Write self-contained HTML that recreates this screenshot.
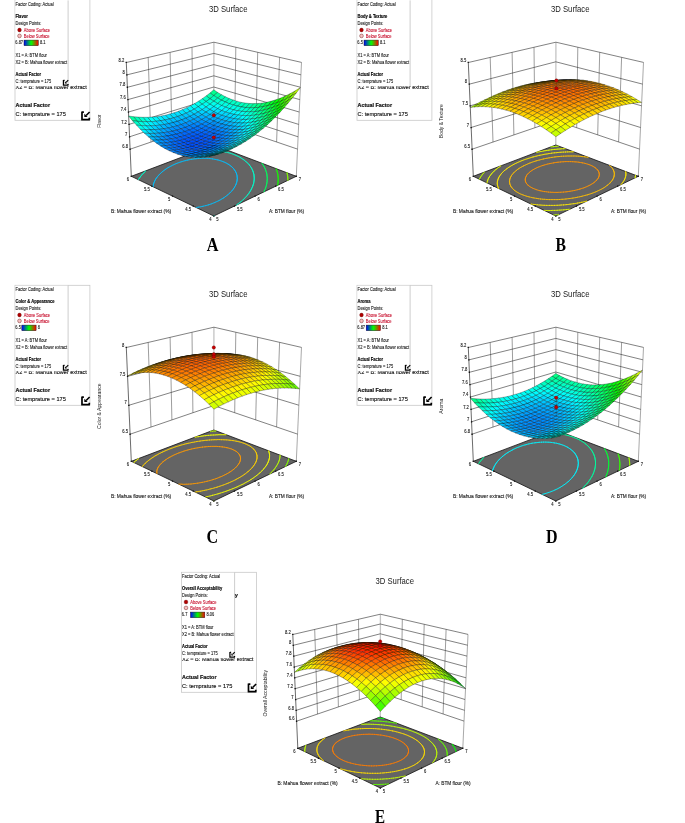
<!DOCTYPE html>
<html><head><meta charset="utf-8"><style>html,body{margin:0;padding:0;background:#fff;overflow:hidden}svg{display:block;will-change:transform}</style></head><body>
<svg width="685" height="823" viewBox="0 0 685 823" font-family='"Liberation Sans", sans-serif'>
<rect width="685" height="823" fill="#fff"/>
<rect x="15" y="-1" width="74.9" height="121.3" fill="#fff" stroke="#c8c8c8" stroke-width="0.8"/>
<text x="15.5" y="88.8" font-size="6.2" fill="#111" stroke="#111" stroke-width="0.14" textLength="71.40" lengthAdjust="spacingAndGlyphs">X2 = B: Mahua flower extract</text>
<text x="15.5" y="107.1" font-size="6.2" font-weight="bold" fill="#111" stroke="#111" stroke-width="0.19" textLength="34.50" lengthAdjust="spacingAndGlyphs">Actual Factor</text>
<text x="15.5" y="116" font-size="6.2" fill="#111" stroke="#111" stroke-width="0.14" textLength="50.30" lengthAdjust="spacingAndGlyphs">C: temprature = 175</text>
<rect x="15.4" y="0.8" width="52.7" height="85.5" fill="#fff"/>
<path d="M68.1 0.4V86.2" stroke="#c0c0c0" stroke-width="0.8"/>
<text x="15.5" y="5.5" font-size="4.6" fill="#1a1a1a" stroke="#1a1a1a" stroke-width="0.10" textLength="38.10" lengthAdjust="spacingAndGlyphs">Factor Coding: Actual</text>
<text x="15.5" y="18.4" font-size="4.6" font-weight="bold" fill="#000" stroke="#000" stroke-width="0.14" textLength="12.24" lengthAdjust="spacingAndGlyphs">Flavor</text>
<text x="15.5" y="24.7" font-size="4.6" fill="#1a1a1a" stroke="#1a1a1a" stroke-width="0.10" textLength="25.79" lengthAdjust="spacingAndGlyphs">Design Points:</text>
<circle cx="19.5" cy="30" r="1.9" fill="#b00000" stroke="#500" stroke-width="0.3"/>
<text x="23.8" y="31.6" font-size="4.6" fill="#c8102e" stroke="#c8102e" stroke-width="0.10" textLength="26.24" lengthAdjust="spacingAndGlyphs">Above Surface</text>
<circle cx="19.5" cy="35.9" r="1.85" fill="#f7c0c0" stroke="#500" stroke-width="0.4"/>
<text x="23.8" y="37.5" font-size="4.6" fill="#c8102e" stroke="#c8102e" stroke-width="0.10" textLength="25.79" lengthAdjust="spacingAndGlyphs">Below Surface</text>
<text x="15.3" y="44.3" font-size="4.6" fill="#1a1a1a" stroke="#1a1a1a" stroke-width="0.10" textLength="7.78" lengthAdjust="spacingAndGlyphs">6.87</text>
<defs><linearGradient id="gA"><stop offset="0" stop-color="#0000ff"/><stop offset="0.5" stop-color="#00ff00"/><stop offset="1" stop-color="#ff0000"/></linearGradient></defs>
<rect x="24" y="40.1" width="14.3" height="5.6" fill="url(#gA)" stroke="#111" stroke-width="0.45"/>
<text x="40" y="44.3" font-size="4.6" fill="#1a1a1a" stroke="#1a1a1a" stroke-width="0.10" textLength="5.56" lengthAdjust="spacingAndGlyphs">8.1</text>
<text x="15.5" y="57.1" font-size="4.6" fill="#1a1a1a" stroke="#1a1a1a" stroke-width="0.10" textLength="31.46" lengthAdjust="spacingAndGlyphs">X1 = A: BTM flour</text>
<text x="15.5" y="63.8" font-size="4.6" fill="#1a1a1a" stroke="#1a1a1a" stroke-width="0.10" textLength="51.60" lengthAdjust="spacingAndGlyphs">X2 = B: Mahua flower extract</text>
<text x="15.5" y="76.2" font-size="4.6" font-weight="bold" fill="#000" stroke="#000" stroke-width="0.14" textLength="25.56" lengthAdjust="spacingAndGlyphs">Actual Factor</text>
<text x="15.5" y="83.1" font-size="4.6" fill="#1a1a1a" stroke="#1a1a1a" stroke-width="0.10" textLength="35.68" lengthAdjust="spacingAndGlyphs">C: temprature = 175</text>
<g transform="translate(63 80) scale(5.4)"><path d="M0.08 0 V0.93 H1 M0.08 0.05 H0.3 M0.93 0.93 V0.72" fill="none" stroke="#000" stroke-width="0.230"/><path d="M0.97 0.04 L0.56 0.45" fill="none" stroke="#000" stroke-width="0.210"/><path d="M0.35 0.25 L0.35 0.64 L0.74 0.64 Z" fill="#000"/></g>
<g transform="translate(81.3 111.6) scale(8.6)"><path d="M0.08 0 V0.93 H1 M0.08 0.05 H0.3 M0.93 0.93 V0.72" fill="none" stroke="#000" stroke-width="0.197"/><path d="M0.97 0.04 L0.56 0.45" fill="none" stroke="#000" stroke-width="0.184"/><path d="M0.35 0.25 L0.35 0.64 L0.74 0.64 Z" fill="#000"/></g>
<text x="209" y="11.7" font-size="8.9" fill="#1a1a1a" textLength="38.50" lengthAdjust="spacingAndGlyphs">3D Surface</text>
<path d="M213.8 145L213.9 42.2" stroke="#c4c4c4" stroke-width="1.3" fill="none"/>
<path d="M151 142.1L148.2 57.4M276.6 142L279.6 57.4M171.9 134.9L170.1 52.4M255.7 134.9L257.7 52.3M192.9 127.7L192 47.3M234.7 127.7L235.8 47.3" stroke="#5a5a5a" stroke-width="0.6" fill="none"/>
<path d="M296.3 176.3L301.5 62.4" stroke="#6e6e6e" stroke-width="0.6" fill="none"/>
<path d="M130.1 149.2L213.8 120.6L297.5 149.1M129.5 136.8L213.8 109.4L298.1 136.8M129 124.4L213.8 98.2L298.7 124.4M128.5 112L213.8 87L299.2 112M127.9 99.6L213.8 75.8L299.8 99.6M127.4 87.3L213.8 64.6L300.3 87.2M126.8 74.9L213.8 53.4L300.9 74.8M126.3 62.5L213.9 42.2L301.5 62.4" stroke="#2e2e2e" stroke-width="0.6" fill="none"/>
<path d="M131.3 176.3L126.3 62.5" stroke="#1a1a1a" stroke-width="0.65" fill="none"/>
<path d="M213.8 216L296.3 176.3L213.8 145L131.3 176.3Z" fill="#646464" stroke="#111" stroke-width="0.8" stroke-linejoin="round"/>
<path d="M210.1 204.3L208.9 204.7M211.6 203.8L210.1 204.3M213 203.2L211.6 203.8M214.4 202.7L213 203.2M215.7 202.1L214.4 202.7M217 201.5L215.7 202.1M218.3 200.9L217 201.5M219.5 200.3L218.3 200.9M220.6 199.7L219.5 200.3M221.7 199L220.6 199.7M222.8 198.4L221.7 199M223.5 197.9L222.8 198.4M203.7 206.1L202.6 206.4M205.4 205.7L203.7 206.1M207 205.3L205.4 205.7M208.6 204.8L207 205.3M208.9 204.7L208.6 204.8M223.5 197.9L223.9 197.7M224.9 197L223.9 197.7M225.8 196.3L224.9 197M226.8 195.6L225.8 196.3M227.7 194.9L226.8 195.6M227.8 194.8L227.7 194.9M198.2 207.2L198.2 207.3M200.1 206.9L198.2 207.2M202 206.5L200.1 206.9M202.6 206.4L202 206.5M227.8 194.8L228.5 194.2M229.3 193.4L228.5 194.2M230.1 192.7L229.3 193.4M230.3 192.5L230.1 192.7M198.2 207.3L196.2 207.5M230.3 192.5L230.9 191.9M231.6 191.2L230.9 191.9M232.2 190.5L231.6 191.2M232.2 190.5L232.3 190.4M232.9 189.6L232.3 190.4M233.5 188.8L232.9 189.6M233.5 188.8L233.5 188.8M233.5 188.8L234 188M234.6 187.2L234 188M234.6 187.2L234.6 187.2M235 186.3L234.6 187.2M235.4 185.7L235 186.3M235.4 185.7L235.5 185.5M235.9 184.6L235.5 185.5M236 184.3L235.9 184.6M236 184.3L236.2 183.7M236.5 183L236.2 183.7M236.5 183L236.5 182.9M236.8 182L236.5 182.9M236.8 181.8L236.8 182M236.8 181.8L237 181M237.1 180.6L237 181M237.1 180.6L237.1 180.1M237.2 179.5L237.1 180.1M237.2 179.5L237.2 179.2M237.3 178.4L237.2 179.2M237.3 178.4L237.3 178.2M237.2 177.4L237.3 178.2M237.2 177.4L237.2 177.2M237.1 176.4L237.2 177.2M237.1 176.4L237.1 176.2M237 175.4L237.1 176.2M237 175.4L236.9 175.1M236.7 174.5L236.9 175.1M236.7 174.5L236.6 174.1M236.5 173.6L236.6 174.1M236.5 173.6L236.2 172.9M236.1 172.7L236.2 172.9M236.1 172.7L235.7 171.9M235.7 171.9L235.7 171.8M235.3 171.1L235.7 171.8M235.3 171.1L234.9 170.6M234.8 170.3L234.9 170.6M234.8 170.3L234.3 169.6M234.3 169.6L234 169.3M233.7 168.8L234 169.3M233.7 168.8L233.1 168.1M233.1 168.1L232.8 167.8M232.4 167.4L232.8 167.8M232.4 167.4L231.7 166.8M231.7 166.8L231.1 166.2M230.9 166.1L231.1 166.2M230.9 166.1L230.1 165.5M230.1 165.5L229.3 164.9M229.3 164.9L228.4 164.3M228.4 164.3L228.2 164.2M227.5 163.8L228.2 164.2M227.5 163.8L226.5 163.2M226.5 163.2L225.5 162.7M225.5 162.7L224.5 162.2M224.5 162.2L223.4 161.8M223.4 161.8L222.2 161.3M222.2 161.3L221 160.9M221 160.9L219.8 160.5M153 186.6L153 186.8M219.8 160.5L218.5 160.1M153 186.6L153.2 185.7M153.2 185.5L153.2 185.7M217.2 159.8L217.1 159.8M218.5 160.1L217.2 159.8M153.2 185.5L153.4 184.6M153.4 184.5L153.4 184.6M217.1 159.8L215.7 159.5M153.4 184.5L153.7 183.6M153.7 183.4L153.7 183.6M215.7 159.5L214.2 159.2M153.7 183.4L154 182.6M154.2 182.3L154 182.6M212.9 159L212.6 158.9M214.2 159.2L212.9 159M154.2 182.3L154.4 181.7M154.7 181.1L154.4 181.7M212.6 158.9L210.9 158.7M154.7 181.1L154.8 180.8M155.3 179.9L154.8 180.8M209.7 158.6L209.2 158.5M210.9 158.7L209.7 158.6M155.3 179.9L155.3 179.9M155.8 179L155.3 179.9M156 178.7L155.8 179M209.2 158.5L207.3 158.4M156 178.7L156.4 178.1M156.9 177.4L156.4 178.1M207 158.4L205.3 158.3M207.3 158.4L207 158.4M156.9 177.4L157 177.3M157.6 176.5L157 177.3M158 176L157.6 176.5M204.6 158.3L203.1 158.3M205.3 158.3L204.6 158.3M158 176L158.3 175.7M158.9 175L158.3 175.7M159.3 174.6L158.9 175M202.3 158.3L200.8 158.4M203.1 158.3L202.3 158.3M159.3 174.6L159.7 174.2M160.4 173.5L159.7 174.2M160.8 173.1L160.4 173.5M198.4 158.5L198.2 158.5M200.3 158.4L198.4 158.5M200.8 158.4L200.3 158.4M160.8 173.1L161.2 172.8M161.9 172.1L161.2 172.8M162.7 171.5L161.9 172.1M196.5 158.7L195.3 158.8M198.2 158.5L196.5 158.7M162.7 171.5L162.8 171.4M163.6 170.7L162.8 171.4M164.5 170.1L163.6 170.7M165.1 169.6L164.5 170.1M193.1 159.1L191.8 159.3M194.8 158.8L193.1 159.1M195.3 158.8L194.8 158.8M165.1 169.6L165.3 169.5M166.3 168.8L165.3 169.5M167.2 168.2L166.3 168.8M168.1 167.6L167.2 168.2M168.6 167.4L168.1 167.6M188.4 159.9L187.3 160.2M189.9 159.6L188.4 159.9M191.5 159.3L189.9 159.6M191.8 159.3L191.5 159.3M168.6 167.4L169.1 167.1M170.1 166.5L169.1 167.1M171.2 166L170.1 166.5M172.2 165.4L171.2 166M173.3 164.9L172.2 165.4M174.4 164.4L173.3 164.9M175.5 163.9L174.4 164.4M176.7 163.4L175.5 163.9M177.8 163L176.7 163.4M179.1 162.5L177.8 163M180.3 162.1L179.1 162.5M181.6 161.7L180.3 162.1M182.9 161.3L181.6 161.7M184.2 160.9L182.9 161.3M185.6 160.6L184.2 160.9M187 160.2L185.6 160.6M187.3 160.2L187 160.2" stroke="#00c0ff" stroke-width="0.75" fill="none" stroke-linecap="round"/>
<path d="M214.3 215.8L213.7 216M236.3 205.2L237 204.7M237.9 204L237 204.7M238.9 203.3L237.9 204M239.8 202.6L238.9 203.3M240.8 201.8L239.8 202.6M240.8 201.8L240.8 201.8M240.8 201.8L241.6 201.1M242.5 200.3L241.6 201.1M243.3 199.6L242.5 200.3M243.7 199.1L243.3 199.6M243.7 199.1L244.1 198.8M244.9 198L244.1 198.8M245.6 197.2L244.9 198M245.9 196.9L245.6 197.2M245.9 196.9L246.3 196.5M247 195.7L246.3 196.5M247.6 194.9L247 195.7M247.6 194.9L247.6 194.9M248.3 194.1L247.6 194.9M248.9 193.3L248.3 194.1M249 193.1L248.9 193.3M249 193.1L249.4 192.4M250 191.6L249.4 192.4M250.1 191.3L250 191.6M250.1 191.3L250.5 190.8M251 189.9L250.5 190.8M251.1 189.7L251 189.9M251.1 189.7L251.4 189.1M251.8 188.2L251.4 189.1M251.8 188.2L251.8 188.2M251.8 188.2L252.2 187.4M252.5 186.8L252.2 187.4M252.5 186.8L252.6 186.5M252.9 185.6L252.6 186.5M253 185.4L252.9 185.6M253 185.4L253.2 184.8M253.4 184.1L253.2 184.8M253.4 184.1L253.5 183.9M253.7 183L253.5 183.9M253.7 182.9L253.7 183M253.7 182.9L253.9 182.1M253.9 181.7L253.9 182.1M253.9 181.7L254 181.1M254.1 180.5L254 181.1M254.1 180.5L254.1 180.2M254.2 179.3L254.1 180.2M254.2 179.3L254.2 179.3M254.2 178.3L254.2 179.3M254.2 178.3L254.2 178.3M254.2 178.3L254.2 177.4M254.2 177.2L254.2 177.4M254.2 177.2L254.1 176.4M254.1 176.2L254.1 176.4M254.1 176.2L254 175.4M254 175.2L254 175.4M254 175.2L253.9 174.4M253.8 174.2L253.9 174.4M253.8 174.2L253.6 173.4M253.6 173.3L253.6 173.4M253.6 173.3L253.3 172.3M253.3 172.3L253.3 172.3M253.3 172.3L253 171.4M253 171.4L253 171.3M252.7 170.6L253 171.3M252.7 170.6L252.5 170.2M252.3 169.7L252.5 170.2M252.3 169.7L252 169.1M251.9 168.9L252 169.1M251.9 168.9L251.5 168.1M251.5 168.1L251.4 167.9M251 167.3L251.4 167.9M251 167.3L250.6 166.7M250.5 166.5L250.6 166.7M250.5 166.5L249.9 165.8M249.9 165.8L249.7 165.5M249.4 165L249.7 165.5M249.4 165L248.8 164.3M248.8 164.3L248.7 164.2M248.1 163.6L248.7 164.2M248.1 163.6L247.5 163M247.5 163L247.4 162.9M246.8 162.3L247.4 162.9M246.8 162.3L246.1 161.6M246.1 161.6L245.7 161.4M245.3 161L245.7 161.4M245.3 161L244.6 160.4M244.6 160.4L243.8 159.8M243.8 159.8L243.6 159.7M242.9 159.2L243.6 159.7M242.9 159.2L242.1 158.7M242.1 158.7L241.2 158.1M241.2 158.1L240.4 157.6M240.3 157.6L240.4 157.6M240.3 157.6L239.4 157M239.4 157L238.4 156.5M238.4 156.5L237.4 156M237.4 156L236.4 155.6M236.4 155.6L235.3 155.1M235.3 155.1L234.3 154.6M234.3 154.6L233.1 154.2M233.1 154.2L232 153.8M232 153.8L230.8 153.4M230.8 153.4L229.6 153M229.6 153L228.4 152.7M228.4 152.7L227.1 152.3M227.1 152.3L225.7 152M225.4 151.9L224.4 151.7M225.7 152L225.4 151.9M224.4 151.7L223 151.4M223 151.4L221.5 151.1M220.9 151L220 150.8M221.5 151.1L220.9 151M220 150.8L218.4 150.6M217.4 150.5L216.8 150.4M218.4 150.6L217.4 150.5M216.8 150.4L215.1 150.2M138.9 178.9L138.4 179.8M139 178.8L138.9 178.9M214.4 150.2L213.4 150.1M215.1 150.2L214.4 150.2M139 178.8L139.5 178M139.8 177.6L139.5 178M211.8 150L211.5 150M213.4 150.1L211.8 150M139.8 177.6L140.1 177.2M140.7 176.3L140.1 177.2M140.7 176.3L140.7 176.3M211.5 150L209.6 149.9M140.7 176.3L141.4 175.5M141.8 175L141.4 175.5M209.4 149.9L207.6 149.8M209.6 149.9L209.4 149.9M141.8 175L142 174.7M142.7 174L142 174.7M143 173.7L142.7 174M207.1 149.8L205.4 149.8M207.6 149.8L207.1 149.8M143 173.7L143.4 173.2M144.1 172.4L143.4 173.2M144.3 172.3L144.1 172.4M205 149.8L203.2 149.9M205.4 149.8L205 149.8M144.3 172.3L144.9 171.7M145.6 171L144.9 171.7M145.8 170.9L145.6 171M201 150L200.7 150M203 149.9L201 150M203.2 149.9L203 149.9" stroke="#00ffcd" stroke-width="0.75" fill="none" stroke-linecap="round"/>
<path d="M263.9 191.9L264.1 191.3M264.5 190.4L264.1 191.3M264.6 190.3L264.5 190.4M264.6 190.3L264.9 189.6M265.2 188.9L264.9 189.6M265.2 188.9L265.3 188.7M265.6 187.8L265.3 188.7M265.7 187.5L265.6 187.8M265.7 187.5L265.9 187M266.2 186.1L265.9 187M266.2 186.1L266.2 186.1M266.4 185.2L266.2 186.1M266.5 184.8L266.4 185.2M266.5 184.8L266.6 184.3M266.8 183.5L266.6 184.3M266.8 183.5L266.8 183.4M266.9 182.5L266.8 183.4M267 182.3L266.9 182.5M267 182.3L267.1 181.5M267.1 181.1L267.1 181.5M267.1 181.1L267.1 180.6M267.2 179.9L267.1 180.6M267.2 179.9L267.2 179.7M267.2 178.8L267.2 179.7M267.2 178.8L267.2 178.8M267.2 177.8L267.2 178.8M267.2 177.7L267.2 177.8M267.2 177.7L267.2 176.9M267.1 176.7L267.2 176.9M267.1 176.7L267.1 175.9M267 175.6L267.1 175.9M267 175.6L266.9 174.9M266.9 174.6L266.9 174.9M266.9 174.6L266.8 173.9M266.7 173.6L266.8 173.9M266.7 173.6L266.6 172.9M266.5 172.7L266.6 172.9M266.5 172.7L266.3 171.9M266.2 171.8L266.3 171.9M266.2 171.8L266 170.9M265.9 170.8L266 170.9M265.9 170.8L265.6 169.9M265.6 169.9L265.6 169.9M265.3 169.1L265.6 169.9M265.3 169.1L265.2 168.8M264.9 168.2L265.2 168.8M264.9 168.2L264.7 167.8M264.5 167.4L264.7 167.8M264.5 167.4L264.1 166.7M264.1 166.6L264.1 166.7M264.1 166.6L263.6 165.8M263.6 165.8L263.5 165.6M263.1 165L263.5 165.6M263.1 165L262.7 164.4M262.6 164.2L262.7 164.4M262.6 164.2L262.1 163.5M262.1 163.5L261.9 163.2" stroke="#00ff5d" stroke-width="0.75" fill="none" stroke-linecap="round"/>
<path d="M277.6 185.3L277.7 184.8M277.8 184L277.7 184.8M277.8 184L277.8 183.9M278 183L277.8 183.9M278 182.8L278 183M278 182.8L278.1 182.1M278.1 181.6L278.1 182.1M278.1 181.6L278.1 181.2M278.2 180.4L278.1 181.2M278.2 180.4L278.2 180.3M278.2 179.3L278.2 180.3M278.2 179.3L278.2 179.3M278.2 179.3L278.2 178.4M278.2 178.1L278.2 178.4M278.2 178.1L278.1 177.4M278.1 177.1L278.1 177.4M278.1 177.1L278 176.5M278 176L278 176.5M278 176L277.9 175.5M277.9 175L277.9 175.5M277.9 175L277.8 174.6M277.7 174L277.8 174.6M277.7 174L277.6 173.6M277.5 173L277.6 173.6M277.5 173L277.4 172.6M277.2 172L277.4 172.6M277.2 172L277.1 171.6M277 171.1L277.1 171.6M277 171.1L276.8 170.6M276.7 170.2L276.8 170.6M276.7 170.2L276.5 169.6M276.4 169.3L276.5 169.6M276.4 169.3L276.1 168.6" stroke="#14ff00" stroke-width="0.75" fill="none" stroke-linecap="round"/>
<path d="M287.9 180.3L287.9 180.3M287.9 179.4L287.9 180.3M287.8 179.2L287.9 179.4M287.8 179.2L287.8 178.4M287.8 178.1L287.8 178.4M287.8 178.1L287.8 177.5M287.7 177L287.8 177.5M287.7 177L287.7 176.6M287.6 175.9L287.7 176.6M287.6 175.9L287.5 175.6M287.4 174.9L287.5 175.6M287.4 174.9L287.4 174.7M287.2 173.9L287.4 174.7M287.2 173.9L287.2 173.7M287 172.9L287.2 173.7M287 172.9L287 172.7" stroke="#85ff00" stroke-width="0.75" fill="none" stroke-linecap="round"/>
<g stroke="#000" stroke-opacity="0.45" stroke-width="0.65" stroke-linejoin="round"><path d="M213.8 95.6L217.6 92.4L213.8 89.8L210 93Z" fill="#00ff8f"/><path d="M210 98.7L213.8 95.6L210 93L206.2 95.9Z" fill="#00ffab"/><path d="M217.7 98.1L221.5 94.7L217.6 92.4L213.8 95.6Z" fill="#00ffa2"/><path d="M206.1 101.6L210 98.7L206.2 95.9L202.3 98.7Z" fill="#00ffc4"/><path d="M213.8 101.2L217.7 98.1L213.8 95.6L210 98.7Z" fill="#00ffc0"/><path d="M221.6 100.2L225.4 96.8L221.5 94.7L217.7 98.1Z" fill="#00ffb2"/><path d="M209.9 104.2L213.8 101.2L210 98.7L206.1 101.6Z" fill="#00ffda"/><path d="M202.2 104.2L206.1 101.6L202.3 98.7L198.4 101.3Z" fill="#00ffda"/><path d="M217.7 103.5L221.6 100.2L217.7 98.1L213.8 101.2Z" fill="#00ffd0"/><path d="M225.5 102.1L229.3 98.6L225.4 96.8L221.6 100.2Z" fill="#00ffbd"/><path d="M206 107L209.9 104.2L206.1 101.6L202.2 104.2Z" fill="#00fff1"/><path d="M198.2 106.7L202.2 104.2L198.4 101.3L194.4 103.7Z" fill="#00ffed"/><path d="M213.8 106.5L217.7 103.5L213.8 101.2L209.9 104.2Z" fill="#00ffeb"/><path d="M221.6 105.5L225.5 102.1L221.6 100.2L217.7 103.5Z" fill="#00ffdd"/><path d="M229.5 103.8L233.3 100.1L229.3 98.6L225.5 102.1Z" fill="#00ffc4"/><path d="M202.1 109.6L206 107L202.2 104.2L198.2 106.7Z" fill="#00f9ff"/><path d="M209.9 109.4L213.8 106.5L209.9 104.2L206 107Z" fill="#00faff"/><path d="M194.2 109.1L198.2 106.7L194.4 103.7L190.4 105.9Z" fill="#00fffd"/><path d="M217.7 108.6L221.6 105.5L217.7 103.5L213.8 106.5Z" fill="#00fff9"/><path d="M225.6 107.2L229.5 103.8L225.5 102.1L221.6 105.5Z" fill="#00ffe5"/><path d="M233.5 105.1L237.3 101.4L233.3 100.1L229.5 103.8Z" fill="#00ffc7"/><path d="M205.9 112.1L209.9 109.4L206 107L202.1 109.6Z" fill="#00e5ff"/><path d="M198.1 112L202.1 109.6L198.2 106.7L194.2 109.1Z" fill="#00e8ff"/><path d="M213.8 111.6L217.7 108.6L213.8 106.5L209.9 109.4Z" fill="#00ecff"/><path d="M190.2 111.2L194.2 109.1L190.4 105.9L186.3 107.9Z" fill="#00f4ff"/><path d="M221.7 110.5L225.6 107.2L221.6 105.5L217.7 108.6Z" fill="#00fcff"/><path d="M229.6 108.7L233.5 105.1L229.5 103.8L225.6 107.2Z" fill="#00ffe9"/><path d="M237.6 106.2L241.4 102.4L237.3 101.4L233.5 105.1Z" fill="#00ffc6"/><path d="M201.9 114.7L205.9 112.1L202.1 109.6L198.1 112Z" fill="#00d3ff"/><path d="M209.9 114.5L213.8 111.6L209.9 109.4L205.9 112.1Z" fill="#00d5ff"/><path d="M194 114.2L198.1 112L194.2 109.1L190.2 111.2Z" fill="#00daff"/><path d="M217.8 113.6L221.7 110.5L217.7 108.6L213.8 111.6Z" fill="#00e1ff"/><path d="M186.1 113.1L190.2 111.2L186.3 107.9L182.2 109.7Z" fill="#00eaff"/><path d="M225.7 112.1L229.6 108.7L225.6 107.2L221.7 110.5Z" fill="#00f6ff"/><path d="M233.7 109.9L237.6 106.2L233.5 105.1L229.6 108.7Z" fill="#00ffe9"/><path d="M241.7 107L245.5 103.1L241.4 102.4L237.6 106.2Z" fill="#00ffc1"/><path d="M205.9 117.1L209.9 114.5L205.9 112.1L201.9 114.7Z" fill="#00c2ff"/><path d="M197.9 117L201.9 114.7L198.1 112L194 114.2Z" fill="#00c3ff"/><path d="M213.8 116.5L217.8 113.6L213.8 111.6L209.9 114.5Z" fill="#00caff"/><path d="M189.9 116.3L194 114.2L190.2 111.2L186.1 113.1Z" fill="#00ceff"/><path d="M221.8 115.3L225.7 112.1L221.7 110.5L217.8 113.6Z" fill="#00dbff"/><path d="M181.9 114.9L186.1 113.1L182.2 109.7L178.1 111.4Z" fill="#00e3ff"/><path d="M229.8 113.3L233.7 109.9L229.6 108.7L225.7 112.1Z" fill="#00f5ff"/><path d="M237.8 110.8L241.7 107L237.6 106.2L233.7 109.9Z" fill="#00ffe5"/><path d="M245.9 107.5L249.7 103.5L245.5 103.1L241.7 107Z" fill="#00ffb8"/><path d="M201.8 119.5L205.9 117.1L201.9 114.7L197.9 117Z" fill="#00b2ff"/><path d="M209.8 119.2L213.8 116.5L209.9 114.5L205.9 117.1Z" fill="#00b5ff"/><path d="M193.8 119.2L197.9 117L194 114.2L189.9 116.3Z" fill="#00b7ff"/><path d="M217.8 118.3L221.8 115.3L217.8 113.6L213.8 116.5Z" fill="#00c2ff"/><path d="M185.8 118.1L189.9 116.3L186.1 113.1L181.9 114.9Z" fill="#00c6ff"/><path d="M225.9 116.6L229.8 113.3L225.7 112.1L221.8 115.3Z" fill="#00d8ff"/><path d="M177.7 116.5L181.9 114.9L178.1 111.4L173.9 112.8Z" fill="#00dfff"/><path d="M233.9 114.4L237.8 110.8L233.7 109.9L229.8 113.3Z" fill="#00f8ff"/><path d="M242 111.4L245.9 107.5L241.7 107L237.8 110.8Z" fill="#00ffdd"/><path d="M205.8 121.8L209.8 119.2L205.9 117.1L201.8 119.5Z" fill="#00a4ff"/><path d="M197.7 121.8L201.8 119.5L197.9 117L193.8 119.2Z" fill="#00a4ff"/><path d="M213.8 121.1L217.8 118.3L213.8 116.5L209.8 119.2Z" fill="#00adff"/><path d="M189.7 121.1L193.8 119.2L189.9 116.3L185.8 118.1Z" fill="#00aeff"/><path d="M250.1 107.8L253.9 103.6L249.7 103.5L245.9 107.5Z" fill="#00ffaa"/><path d="M221.9 119.8L225.9 116.6L221.8 115.3L217.8 118.3Z" fill="#00bfff"/><path d="M181.6 119.8L185.8 118.1L181.9 114.9L177.7 116.5Z" fill="#00c1ff"/><path d="M230 117.8L233.9 114.4L229.8 113.3L225.9 116.6Z" fill="#00daff"/><path d="M173.5 117.8L177.7 116.5L173.9 112.8L169.7 114.1Z" fill="#00deff"/><path d="M238.1 115.1L242 111.4L237.8 110.8L233.9 114.4Z" fill="#00ffff"/><path d="M246.2 111.7L250.1 107.8L245.9 107.5L242 111.4Z" fill="#00ffd0"/><path d="M201.7 124.1L205.8 121.8L201.8 119.5L197.7 121.8Z" fill="#0095ff"/><path d="M209.8 123.7L213.8 121.1L209.8 119.2L205.8 121.8Z" fill="#009aff"/><path d="M193.6 123.8L197.7 121.8L193.8 119.2L189.7 121.1Z" fill="#009aff"/><path d="M217.9 122.7L221.9 119.8L217.8 118.3L213.8 121.1Z" fill="#00a8ff"/><path d="M185.5 122.9L189.7 121.1L185.8 118.1L181.6 119.8Z" fill="#00a8ff"/><path d="M226 121L230 117.8L225.9 116.6L221.9 119.8Z" fill="#00c0ff"/><path d="M177.4 121.3L181.6 119.8L177.7 116.5L173.5 117.8Z" fill="#00bfff"/><path d="M254.4 107.7L258.2 103.5L253.9 103.6L250.1 107.8Z" fill="#00ff99"/><path d="M234.1 118.6L238.1 115.1L233.9 114.4L230 117.8Z" fill="#00e0ff"/><path d="M169.2 119L173.5 117.8L169.7 114.1L165.4 115.2Z" fill="#00e0ff"/><path d="M242.3 115.5L246.2 111.7L242 111.4L238.1 115.1Z" fill="#00fff3"/><path d="M197.6 126.3L201.7 124.1L197.7 121.8L193.6 123.8Z" fill="#008aff"/><path d="M205.7 126.2L209.8 123.7L205.8 121.8L201.7 124.1Z" fill="#008aff"/><path d="M189.4 125.7L193.6 123.8L189.7 121.1L185.5 122.9Z" fill="#0093ff"/><path d="M213.8 125.5L217.9 122.7L213.8 121.1L209.8 123.7Z" fill="#0094ff"/><path d="M250.5 111.8L254.4 107.7L250.1 107.8L246.2 111.7Z" fill="#00ffc0"/><path d="M181.2 124.5L185.5 122.9L181.6 119.8L177.4 121.3Z" fill="#00a5ff"/><path d="M222 124L226 121L221.9 119.8L217.9 122.7Z" fill="#00a8ff"/><path d="M173.1 122.5L177.4 121.3L173.5 117.8L169.2 119Z" fill="#00c0ff"/><path d="M230.1 121.9L234.1 118.6L230 117.8L226 121Z" fill="#00c4ff"/><path d="M258.7 107.4L262.6 103L258.2 103.5L254.4 107.7Z" fill="#00ff83"/><path d="M164.8 120L169.2 119L165.4 115.2L161 116Z" fill="#00e5ff"/><path d="M238.3 119.2L242.3 115.5L238.1 115.1L234.1 118.6Z" fill="#00ebff"/><path d="M246.6 115.7L250.5 111.8L246.2 111.7L242.3 115.5Z" fill="#00ffe4"/><path d="M201.6 128.5L205.7 126.2L201.7 124.1L197.6 126.3Z" fill="#007eff"/><path d="M193.4 128.3L197.6 126.3L193.6 123.8L189.4 125.7Z" fill="#0081ff"/><path d="M209.7 128L213.8 125.5L209.8 123.7L205.7 126.2Z" fill="#0084ff"/><path d="M185.2 127.4L189.4 125.7L185.5 122.9L181.2 124.5Z" fill="#008eff"/><path d="M217.9 126.9L222 124L217.9 122.7L213.8 125.5Z" fill="#0093ff"/><path d="M177 125.8L181.2 124.5L177.4 121.3L173.1 122.5Z" fill="#00a5ff"/><path d="M226.1 125.1L230.1 121.9L226 121L222 124Z" fill="#00acff"/><path d="M254.8 111.6L258.7 107.4L254.4 107.7L250.5 111.8Z" fill="#00ffab"/><path d="M168.7 123.6L173.1 122.5L169.2 119L164.8 120Z" fill="#00c4ff"/><path d="M234.4 122.6L238.3 119.2L234.1 118.6L230.1 121.9Z" fill="#00ceff"/><path d="M160.4 120.7L164.8 120L161 116L156.6 116.7Z" fill="#00edff"/><path d="M263.2 106.7L267 102.2L262.6 103L258.7 107.4Z" fill="#00ff69"/><path d="M242.6 119.4L246.6 115.7L242.3 115.5L238.3 119.2Z" fill="#00f9ff"/><path d="M197.4 130.6L201.6 128.5L197.6 126.3L193.4 128.3Z" fill="#0074ff"/><path d="M205.6 130.4L209.7 128L205.7 126.2L201.6 128.5Z" fill="#0076ff"/><path d="M189.1 130.1L193.4 128.3L189.4 125.7L185.2 127.4Z" fill="#007cff"/><path d="M213.8 129.5L217.9 126.9L213.8 125.5L209.7 128Z" fill="#0081ff"/><path d="M180.9 128.9L185.2 127.4L181.2 124.5L177 125.8Z" fill="#008dff"/><path d="M250.9 115.6L254.8 111.6L250.5 111.8L246.6 115.7Z" fill="#00ffd0"/><path d="M222.1 128L226.1 125.1L222 124L217.9 126.9Z" fill="#0096ff"/><path d="M172.6 127L177 125.8L173.1 122.5L168.7 123.6Z" fill="#00a7ff"/><path d="M230.3 125.8L234.4 122.6L230.1 121.9L226.1 125.1Z" fill="#00b4ff"/><path d="M259.3 111L263.2 106.7L258.7 107.4L254.8 111.6Z" fill="#00ff92"/><path d="M164.3 124.5L168.7 123.6L164.8 120L160.4 120.7Z" fill="#00cbff"/><path d="M238.6 122.9L242.6 119.4L238.3 119.2L234.4 122.6Z" fill="#00dbff"/><path d="M155.9 121.3L160.4 120.7L156.6 116.7L152.1 117.1Z" fill="#00f8ff"/><path d="M201.4 132.6L205.6 130.4L201.6 128.5L197.4 130.6Z" fill="#006cff"/><path d="M246.9 119.4L250.9 115.6L246.6 115.7L242.6 119.4Z" fill="#00fff3"/><path d="M193.1 132.4L197.4 130.6L193.4 128.3L189.1 130.1Z" fill="#006eff"/><path d="M209.7 132L213.8 129.5L209.7 128L205.6 130.4Z" fill="#0072ff"/><path d="M267.7 105.7L271.6 101.1L267 102.2L263.2 106.7Z" fill="#00ff4b"/><path d="M184.9 131.6L189.1 130.1L185.2 127.4L180.9 128.9Z" fill="#007aff"/><path d="M218 130.8L222.1 128L217.9 126.9L213.8 129.5Z" fill="#0083ff"/><path d="M176.5 130.2L180.9 128.9L177 125.8L172.6 127Z" fill="#008fff"/><path d="M226.3 128.9L230.3 125.8L226.1 125.1L222.1 128Z" fill="#009dff"/><path d="M255.3 115.1L259.3 111L254.8 111.6L250.9 115.6Z" fill="#00ffb9"/><path d="M168.2 128L172.6 127L168.7 123.6L164.3 124.5Z" fill="#00adff"/><path d="M234.6 126.3L238.6 122.9L234.4 122.6L230.3 125.8Z" fill="#00c0ff"/><path d="M159.8 125.1L164.3 124.5L160.4 120.7L155.9 121.3Z" fill="#00d5ff"/><path d="M263.7 110.1L267.7 105.7L263.2 106.7L259.3 111Z" fill="#00ff76"/><path d="M242.9 123L246.9 119.4L242.6 119.4L238.6 122.9Z" fill="#00ecff"/><path d="M197.2 134.6L201.4 132.6L197.4 130.6L193.1 132.4Z" fill="#0064ff"/><path d="M205.5 134.3L209.7 132L205.6 130.4L201.4 132.6Z" fill="#0067ff"/><path d="M188.9 134.1L193.1 132.4L189.1 130.1L184.9 131.6Z" fill="#006aff"/><path d="M151.4 121.6L155.9 121.3L152.1 117.1L147.5 117.3Z" fill="#00fff8"/><path d="M213.8 133.4L218 130.8L213.8 129.5L209.7 132Z" fill="#0073ff"/><path d="M180.5 133L184.9 131.6L180.9 128.9L176.5 130.2Z" fill="#007aff"/><path d="M251.3 119L255.3 115.1L250.9 115.6L246.9 119.4Z" fill="#00ffdc"/><path d="M222.2 131.8L226.3 128.9L222.1 128L218 130.8Z" fill="#0089ff"/><path d="M172.1 131.2L176.5 130.2L172.6 127L168.2 128Z" fill="#0094ff"/><path d="M272.2 104.4L276.1 99.7L271.6 101.1L267.7 105.7Z" fill="#00ff29"/><path d="M230.5 129.5L234.6 126.3L230.3 125.8L226.3 128.9Z" fill="#00a8ff"/><path d="M163.7 128.7L168.2 128L164.3 124.5L159.8 125.1Z" fill="#00b6ff"/><path d="M259.8 114.3L263.7 110.1L259.3 111L255.3 115.1Z" fill="#00ff9d"/><path d="M238.9 126.5L242.9 123L238.6 122.9L234.6 126.3Z" fill="#00d0ff"/><path d="M155.3 125.6L159.8 125.1L155.9 121.3L151.4 121.6Z" fill="#00e2ff"/><path d="M201.3 136.4L205.5 134.3L201.4 132.6L197.2 134.6Z" fill="#005eff"/><path d="M192.9 136.3L197.2 134.6L193.1 132.4L188.9 134.1Z" fill="#005fff"/><path d="M247.3 122.8L251.3 119L246.9 119.4L242.9 123Z" fill="#00fffd"/><path d="M209.6 135.8L213.8 133.4L209.7 132L205.5 134.3Z" fill="#0066ff"/><path d="M184.5 135.6L188.9 134.1L184.9 131.6L180.5 133Z" fill="#006aff"/><path d="M268.3 108.9L272.2 104.4L267.7 105.7L263.7 110.1Z" fill="#00ff55"/><path d="M218 134.4L222.2 131.8L218 130.8L213.8 133.4Z" fill="#0078ff"/><path d="M146.8 121.7L151.4 121.6L147.5 117.3L142.9 117.3Z" fill="#00ffe7"/><path d="M176.1 134.2L180.5 133L176.5 130.2L172.1 131.2Z" fill="#007eff"/><path d="M226.4 132.4L230.5 129.5L226.3 128.9L222.2 131.8Z" fill="#0092ff"/><path d="M255.8 118.4L259.8 114.3L255.3 115.1L251.3 119Z" fill="#00ffc1"/><path d="M167.7 132.1L172.1 131.2L168.2 128L163.7 128.7Z" fill="#009bff"/><path d="M234.8 129.7L238.9 126.5L234.6 126.3L230.5 129.5Z" fill="#00b7ff"/><path d="M276.9 102.8L280.8 98L276.1 99.7L272.2 104.4Z" fill="#00ff03"/><path d="M159.2 129.3L163.7 128.7L159.8 125.1L155.3 125.6Z" fill="#00c2ff"/><path d="M264.3 113.3L268.3 108.9L263.7 110.1L259.8 114.3Z" fill="#00ff7d"/><path d="M243.3 126.3L247.3 122.8L242.9 123L238.9 126.5Z" fill="#00e4ff"/><path d="M197 138.3L201.3 136.4L197.2 134.6L192.9 136.3Z" fill="#0058ff"/><path d="M150.7 125.8L155.3 125.6L151.4 121.6L146.8 121.7Z" fill="#00f2ff"/><path d="M205.4 137.9L209.6 135.8L205.5 134.3L201.3 136.4Z" fill="#005cff"/><path d="M188.6 137.9L192.9 136.3L188.9 134.1L184.5 135.6Z" fill="#005eff"/><path d="M213.8 136.9L218 134.4L213.8 133.4L209.6 135.8Z" fill="#006aff"/><path d="M180.1 136.9L184.5 135.6L180.5 133L176.1 134.2Z" fill="#006dff"/><path d="M251.8 122.2L255.8 118.4L251.3 119L247.3 122.8Z" fill="#00ffe3"/><path d="M222.3 135.2L226.4 132.4L222.2 131.8L218 134.4Z" fill="#0080ff"/><path d="M171.7 135.2L176.1 134.2L172.1 131.2L167.7 132.1Z" fill="#0085ff"/><path d="M272.9 107.4L276.9 102.8L272.2 104.4L268.3 108.9Z" fill="#00ff2f"/><path d="M142.1 121.6L146.8 121.7L142.9 117.3L138.2 117.1Z" fill="#00ffd2"/><path d="M230.7 132.8L234.8 129.7L230.5 129.5L226.4 132.4Z" fill="#00a0ff"/><path d="M163.2 132.7L167.7 132.1L163.7 128.7L159.2 129.3Z" fill="#00a6ff"/><path d="M260.3 117.4L264.3 113.3L259.8 114.3L255.8 118.4Z" fill="#00ffa3"/><path d="M239.2 129.7L243.3 126.3L238.9 126.5L234.8 129.7Z" fill="#00caff"/><path d="M154.6 129.6L159.2 129.3L155.3 125.6L150.7 125.8Z" fill="#00d1ff"/><path d="M281.6 100.9L285.5 95.9L280.8 98L276.9 102.8Z" fill="#28ff00"/><path d="M201.1 139.9L205.4 137.9L201.3 136.4L197 138.3Z" fill="#0056ff"/><path d="M192.7 140L197 138.3L192.9 136.3L188.6 137.9Z" fill="#0056ff"/><path d="M247.7 125.9L251.8 122.2L247.3 122.8L243.3 126.3Z" fill="#00fdff"/><path d="M209.6 139.2L213.8 136.9L209.6 135.8L205.4 137.9Z" fill="#005fff"/><path d="M184.2 139.3L188.6 137.9L184.5 135.6L180.1 136.9Z" fill="#005fff"/><path d="M269 111.9L272.9 107.4L268.3 108.9L264.3 113.3Z" fill="#00ff59"/><path d="M146 125.8L150.7 125.8L146.8 121.7L142.1 121.6Z" fill="#00fff9"/><path d="M218.1 137.8L222.3 135.2L218 134.4L213.8 136.9Z" fill="#0071ff"/><path d="M175.7 138L180.1 136.9L176.1 134.2L171.7 135.2Z" fill="#0072ff"/><path d="M226.6 135.7L230.7 132.8L226.4 132.4L222.3 135.2Z" fill="#008dff"/><path d="M167.1 135.9L171.7 135.2L167.7 132.1L163.2 132.7Z" fill="#008eff"/><path d="M256.3 121.4L260.3 117.4L255.8 118.4L251.8 122.2Z" fill="#00ffc5"/><path d="M137.4 121.3L142.1 121.6L138.2 117.1L133.5 116.7Z" fill="#00ffbb"/><path d="M235.1 132.9L239.2 129.7L234.8 129.7L230.7 132.8Z" fill="#00b3ff"/><path d="M158.6 133.2L163.2 132.7L159.2 129.3L154.6 129.6Z" fill="#00b4ff"/><path d="M277.7 105.6L281.6 100.9L276.9 102.8L272.9 107.4Z" fill="#00ff06"/><path d="M265 116.1L269 111.9L264.3 113.3L260.3 117.4Z" fill="#00ff80"/><path d="M243.7 129.4L247.7 125.9L243.3 126.3L239.2 129.7Z" fill="#00e1ff"/><path d="M150 129.7L154.6 129.6L150.7 125.8L146 125.8Z" fill="#00e3ff"/><path d="M196.8 141.7L201.1 139.9L197 138.3L192.7 140Z" fill="#0052ff"/><path d="M205.3 141.3L209.6 139.2L205.4 137.9L201.1 139.9Z" fill="#0057ff"/><path d="M188.3 141.5L192.7 140L188.6 137.9L184.2 139.3Z" fill="#0056ff"/><path d="M213.8 140.2L218.1 137.8L213.8 136.9L209.6 139.2Z" fill="#0065ff"/><path d="M179.7 140.5L184.2 139.3L180.1 136.9L175.7 138Z" fill="#0064ff"/><path d="M252.3 125.1L256.3 121.4L251.8 122.2L247.7 125.9Z" fill="#00ffe5"/><path d="M286.4 98.6L290.4 93.5L285.5 95.9L281.6 100.9Z" fill="#56ff00"/><path d="M222.4 138.4L226.6 135.7L222.3 135.2L218.1 137.8Z" fill="#007dff"/><path d="M171.2 138.8L175.7 138L171.7 135.2L167.1 135.9Z" fill="#007bff"/><path d="M141.3 125.6L146 125.8L142.1 121.6L137.4 121.3Z" fill="#00ffe3"/><path d="M273.7 110.1L277.7 105.6L272.9 107.4L269 111.9Z" fill="#00ff31"/><path d="M230.9 135.9L235.1 132.9L230.7 132.8L226.6 135.7Z" fill="#009eff"/><path d="M162.6 136.5L167.1 135.9L163.2 132.7L158.6 133.2Z" fill="#009bff"/><path d="M260.9 120.2L265 116.1L260.3 117.4L256.3 121.4Z" fill="#00ffa3"/><path d="M132.5 120.7L137.4 121.3L133.5 116.7L128.6 116Z" fill="#00ffa1"/><path d="M239.5 132.6L243.7 129.4L239.2 129.7L235.1 132.9Z" fill="#00c9ff"/><path d="M153.9 133.4L158.6 133.2L154.6 129.6L150 129.7Z" fill="#00c5ff"/><path d="M282.5 103.4L286.4 98.6L281.6 100.9L277.7 105.6Z" fill="#27ff00"/><path d="M192.4 143.3L196.8 141.7L192.7 140L188.3 141.5Z" fill="#0051ff"/><path d="M201 143.2L205.3 141.3L201.1 139.9L196.8 141.7Z" fill="#0052ff"/><path d="M183.8 142.7L188.3 141.5L184.2 139.3L179.7 140.5Z" fill="#0059ff"/><path d="M209.6 142.4L213.8 140.2L209.6 139.2L205.3 141.3Z" fill="#005cff"/><path d="M248.2 128.7L252.3 125.1L247.7 125.9L243.7 129.4Z" fill="#00fdff"/><path d="M145.2 129.6L150 129.7L146 125.8L141.3 125.6Z" fill="#00f8ff"/><path d="M269.7 114.5L273.7 110.1L269 111.9L265 116.1Z" fill="#00ff59"/><path d="M175.2 141.5L179.7 140.5L175.7 138L171.2 138.8Z" fill="#006bff"/><path d="M218.1 140.9L222.4 138.4L218.1 137.8L213.8 140.2Z" fill="#0070ff"/><path d="M166.6 139.5L171.2 138.8L167.1 135.9L162.6 136.5Z" fill="#0086ff"/><path d="M226.7 138.7L230.9 135.9L226.6 135.7L222.4 138.4Z" fill="#008dff"/><path d="M256.9 124.1L260.9 120.2L256.3 121.4L252.3 125.1Z" fill="#00ffc4"/><path d="M136.5 125.1L141.3 125.6L137.4 121.3L132.5 120.7Z" fill="#00ffca"/><path d="M291.3 95.9L295.3 90.8L290.4 93.5L286.4 98.6Z" fill="#89ff00"/><path d="M157.9 136.8L162.6 136.5L158.6 133.2L153.9 133.4Z" fill="#00abff"/><path d="M235.4 135.7L239.5 132.6L235.1 132.9L230.9 135.9Z" fill="#00b3ff"/><path d="M278.5 108.1L282.5 103.4L277.7 105.6L273.7 110.1Z" fill="#00ff04"/><path d="M149.2 133.4L153.9 133.4L150 129.7L145.2 129.6Z" fill="#00d9ff"/><path d="M265.6 118.7L269.7 114.5L265 116.1L260.9 120.2Z" fill="#00ff7d"/><path d="M244 132.1L248.2 128.7L243.7 129.4L239.5 132.6Z" fill="#00e3ff"/><path d="M196.6 144.9L201 143.2L196.8 141.7L192.4 143.3Z" fill="#0050ff"/><path d="M187.9 144.7L192.4 143.3L188.3 141.5L183.8 142.7Z" fill="#0053ff"/><path d="M205.2 144.4L209.6 142.4L205.3 141.3L201 143.2Z" fill="#0056ff"/><path d="M179.3 143.8L183.8 142.7L179.7 140.5L175.2 141.5Z" fill="#0060ff"/><path d="M213.8 143.2L218.1 140.9L213.8 140.2L209.6 142.4Z" fill="#0066ff"/><path d="M140.4 129.3L145.2 129.6L141.3 125.6L136.5 125.1Z" fill="#00ffee"/><path d="M170.6 142.2L175.2 141.5L171.2 138.8L166.6 139.5Z" fill="#0076ff"/><path d="M252.8 127.7L256.9 124.1L252.3 125.1L248.2 128.7Z" fill="#00ffe2"/><path d="M287.4 100.9L291.3 95.9L286.4 98.6L282.5 103.4Z" fill="#59ff00"/><path d="M222.5 141.3L226.7 138.7L222.4 138.4L218.1 140.9Z" fill="#007fff"/><path d="M274.4 112.5L278.5 108.1L273.7 110.1L269.7 114.5Z" fill="#00ff2d"/><path d="M161.9 139.9L166.6 139.5L162.6 136.5L157.9 136.8Z" fill="#0095ff"/><path d="M231.2 138.6L235.4 135.7L230.9 135.9L226.7 138.7Z" fill="#00a1ff"/><path d="M261.5 122.6L265.6 118.7L260.9 120.2L256.9 124.1Z" fill="#00ff9f"/><path d="M153.2 136.9L157.9 136.8L153.9 133.4L149.2 133.4Z" fill="#00beff"/><path d="M239.9 135.3L244 132.1L239.5 132.6L235.4 135.7Z" fill="#00cdff"/><path d="M296.3 92.9L300.3 87.6L295.3 90.8L291.3 95.9Z" fill="#c0ff00"/><path d="M283.3 105.6L287.4 100.9L282.5 103.4L278.5 108.1Z" fill="#2cff00"/><path d="M192.1 146.4L196.6 144.9L192.4 143.3L187.9 144.7Z" fill="#0051ff"/><path d="M200.8 146.2L205.2 144.4L201 143.2L196.6 144.9Z" fill="#0053ff"/><path d="M144.4 133.2L149.2 133.4L145.2 129.6L140.4 129.3Z" fill="#00efff"/><path d="M183.4 145.9L187.9 144.7L183.8 142.7L179.3 143.8Z" fill="#0059ff"/><path d="M209.5 145.3L213.8 143.2L209.6 142.4L205.2 144.4Z" fill="#005fff"/><path d="M248.6 131.2L252.8 127.7L248.2 128.7L244 132.1Z" fill="#00fffc"/><path d="M174.7 144.7L179.3 143.8L175.2 141.5L170.6 142.2Z" fill="#0069ff"/><path d="M270.4 116.8L274.4 112.5L269.7 114.5L265.6 118.7Z" fill="#00ff53"/><path d="M218.2 143.7L222.5 141.3L218.1 140.9L213.8 143.2Z" fill="#0074ff"/><path d="M166 142.8L170.6 142.2L166.6 139.5L161.9 139.9Z" fill="#0083ff"/><path d="M226.9 141.3L231.2 138.6L226.7 138.7L222.5 141.3Z" fill="#0092ff"/><path d="M257.4 126.4L261.5 122.6L256.9 124.1L252.8 127.7Z" fill="#00ffbe"/><path d="M157.2 140.1L161.9 139.9L157.9 136.8L153.2 136.9Z" fill="#00a7ff"/><path d="M292.3 98L296.3 92.9L291.3 95.9L287.4 100.9Z" fill="#8fff00"/><path d="M235.7 138.3L239.9 135.3L235.4 135.7L231.2 138.6Z" fill="#00b9ff"/><path d="M279.3 110.2L283.3 105.6L278.5 108.1L274.4 112.5Z" fill="#02ff00"/><path d="M148.4 136.8L153.2 136.9L149.2 133.4L144.4 133.2Z" fill="#00d3ff"/><path d="M244.4 134.5L248.6 131.2L244 132.1L239.9 135.3Z" fill="#00eaff"/><path d="M266.3 120.9L270.4 116.8L265.6 118.7L261.5 122.6Z" fill="#00ff76"/><path d="M196.4 147.8L200.8 146.2L196.6 144.9L192.1 146.4Z" fill="#0053ff"/><path d="M187.6 147.7L192.1 146.4L187.9 144.7L183.4 145.9Z" fill="#0055ff"/><path d="M205.1 147.2L209.5 145.3L205.2 144.4L200.8 146.2Z" fill="#005bff"/><path d="M178.9 146.9L183.4 145.9L179.3 143.8L174.7 144.7Z" fill="#0061ff"/><path d="M213.8 145.9L218.2 143.7L213.8 143.2L209.5 145.3Z" fill="#006bff"/><path d="M170.1 145.3L174.7 144.7L170.6 142.2L166 142.8Z" fill="#0076ff"/><path d="M222.6 143.8L226.9 141.3L222.5 141.3L218.2 143.7Z" fill="#0085ff"/><path d="M288.3 102.8L292.3 98L287.4 100.9L283.3 105.6Z" fill="#61ff00"/><path d="M253.3 130L257.4 126.4L252.8 127.7L248.6 131.2Z" fill="#00ffda"/><path d="M161.3 143.1L166 142.8L161.9 139.9L157.2 140.1Z" fill="#0094ff"/><path d="M275.2 114.6L279.3 110.2L274.4 112.5L270.4 116.8Z" fill="#00ff25"/><path d="M231.4 141.1L235.7 138.3L231.2 138.6L226.9 141.3Z" fill="#00a9ff"/><path d="M152.4 140.1L157.2 140.1L153.2 136.9L148.4 136.8Z" fill="#00bbff"/><path d="M262.2 124.8L266.3 120.9L261.5 122.6L257.4 126.4Z" fill="#00ff96"/><path d="M240.2 137.6L244.4 134.5L239.9 135.3L235.7 138.3Z" fill="#00d6ff"/><path d="M191.9 149.2L196.4 147.8L192.1 146.4L187.6 147.7Z" fill="#0056ff"/><path d="M200.6 148.9L205.1 147.2L200.8 146.2L196.4 147.8Z" fill="#005aff"/><path d="M284.3 107.5L288.3 102.8L283.3 105.6L279.3 110.2Z" fill="#36ff00"/><path d="M183 148.7L187.6 147.7L183.4 145.9L178.9 146.9Z" fill="#005dff"/><path d="M209.4 147.9L213.8 145.9L209.5 145.3L205.1 147.2Z" fill="#0066ff"/><path d="M249.1 133.4L253.3 130L248.6 131.2L244.4 134.5Z" fill="#00fff2"/><path d="M174.2 147.6L178.9 146.9L174.7 144.7L170.1 145.3Z" fill="#006cff"/><path d="M271.1 118.8L275.2 114.6L270.4 116.8L266.3 120.9Z" fill="#00ff49"/><path d="M218.3 146.1L222.6 143.8L218.2 143.7L213.8 145.9Z" fill="#007cff"/><path d="M165.4 145.7L170.1 145.3L166 142.8L161.3 143.1Z" fill="#0085ff"/><path d="M227.1 143.7L231.4 141.1L226.9 141.3L222.6 143.8Z" fill="#009bff"/><path d="M156.5 143.2L161.3 143.1L157.2 140.1L152.4 140.1Z" fill="#00a7ff"/><path d="M258 128.5L262.2 124.8L257.4 126.4L253.3 130Z" fill="#00ffb3"/><path d="M235.9 140.5L240.2 137.6L235.7 138.3L231.4 141.1Z" fill="#00c4ff"/><path d="M280.2 112L284.3 107.5L279.3 110.2L275.2 114.6Z" fill="#0dff00"/><path d="M244.8 136.6L249.1 133.4L244.4 134.5L240.2 137.6Z" fill="#00f6ff"/><path d="M267 122.8L271.1 118.8L266.3 120.9L262.2 124.8Z" fill="#00ff6a"/><path d="M196.1 150.3L200.6 148.9L196.4 147.8L191.9 149.2Z" fill="#005cff"/><path d="M187.3 150.3L191.9 149.2L187.6 147.7L183 148.7Z" fill="#005dff"/><path d="M205 149.7L209.4 147.9L205.1 147.2L200.6 148.9Z" fill="#0064ff"/><path d="M178.4 149.6L183 148.7L178.9 146.9L174.2 147.6Z" fill="#0067ff"/><path d="M213.9 148.2L218.3 146.1L213.8 145.9L209.4 147.9Z" fill="#0076ff"/><path d="M169.5 148.1L174.2 147.6L170.1 145.3L165.4 145.7Z" fill="#007aff"/><path d="M222.7 146.1L227.1 143.7L222.6 143.8L218.3 146.1Z" fill="#0091ff"/><path d="M253.8 132L258 128.5L253.3 130L249.1 133.4Z" fill="#00ffcc"/><path d="M160.6 145.9L165.4 145.7L161.3 143.1L156.5 143.2Z" fill="#0097ff"/><path d="M276.1 116.3L280.2 112L275.2 114.6L271.1 118.8Z" fill="#00ff18"/><path d="M231.6 143.2L235.9 140.5L231.4 141.1L227.1 143.7Z" fill="#00b6ff"/><path d="M262.8 126.6L267 122.8L262.2 124.8L258 128.5Z" fill="#00ff88"/><path d="M240.6 139.6L244.8 136.6L240.2 137.6L235.9 140.5Z" fill="#00e3ff"/><path d="M191.6 151.6L196.1 150.3L191.9 149.2L187.3 150.3Z" fill="#0061ff"/><path d="M200.5 151.2L205 149.7L200.6 148.9L196.1 150.3Z" fill="#0065ff"/><path d="M182.6 151.3L187.3 150.3L183 148.7L178.4 149.6Z" fill="#0066ff"/><path d="M209.4 150.1L213.9 148.2L209.4 147.9L205 149.7Z" fill="#0073ff"/><path d="M173.7 150.2L178.4 149.6L174.2 147.6L169.5 148.1Z" fill="#0074ff"/><path d="M249.6 135.3L253.8 132L249.1 133.4L244.8 136.6Z" fill="#00ffe3"/><path d="M271.9 120.4L276.1 116.3L271.1 118.8L267 122.8Z" fill="#00ff3a"/><path d="M218.3 148.3L222.7 146.1L218.3 146.1L213.9 148.2Z" fill="#008aff"/><path d="M164.7 148.4L169.5 148.1L165.4 145.7L160.6 145.9Z" fill="#008cff"/><path d="M227.3 145.7L231.6 143.2L227.1 143.7L222.7 146.1Z" fill="#00aaff"/><path d="M258.6 130.2L262.8 126.6L258 128.5L253.8 132Z" fill="#00ffa3"/><path d="M236.3 142.5L240.6 139.6L235.9 140.5L231.6 143.2Z" fill="#00d4ff"/><path d="M245.3 138.4L249.6 135.3L244.8 136.6L240.6 139.6Z" fill="#00fff7"/><path d="M195.9 152.6L200.5 151.2L196.1 150.3L191.6 151.6Z" fill="#0069ff"/><path d="M267.7 124.4L271.9 120.4L267 122.8L262.8 126.6Z" fill="#00ff59"/><path d="M186.9 152.7L191.6 151.6L187.3 150.3L182.6 151.3Z" fill="#0069ff"/><path d="M204.9 151.8L209.4 150.1L205 149.7L200.5 151.2Z" fill="#0072ff"/><path d="M177.9 152L182.6 151.3L178.4 149.6L173.7 150.2Z" fill="#0072ff"/><path d="M213.9 150.3L218.3 148.3L213.9 148.2L209.4 150.1Z" fill="#0085ff"/><path d="M168.9 150.6L173.7 150.2L169.5 148.1L164.7 148.4Z" fill="#0084ff"/><path d="M222.9 148L227.3 145.7L222.7 146.1L218.3 148.3Z" fill="#00a2ff"/><path d="M254.4 133.6L258.6 130.2L253.8 132L249.6 135.3Z" fill="#00ffbb"/><path d="M231.9 145.1L236.3 142.5L231.6 143.2L227.3 145.7Z" fill="#00c7ff"/><path d="M263.5 128.1L267.7 124.4L262.8 126.6L258.6 130.2Z" fill="#00ff75"/><path d="M240.9 141.3L245.3 138.4L240.6 139.6L236.3 142.5Z" fill="#00f6ff"/><path d="M191.3 153.8L195.9 152.6L191.6 151.6L186.9 152.7Z" fill="#0070ff"/><path d="M182.2 153.5L186.9 152.7L182.6 151.3L177.9 152Z" fill="#0074ff"/><path d="M200.3 153.3L204.9 151.8L200.5 151.2L195.9 152.6Z" fill="#0075ff"/><path d="M173.2 152.5L177.9 152L173.7 150.2L168.9 150.6Z" fill="#0081ff"/><path d="M209.3 152.1L213.9 150.3L209.4 150.1L204.9 151.8Z" fill="#0084ff"/><path d="M250.1 136.8L254.4 133.6L249.6 135.3L245.3 138.4Z" fill="#00ffcf"/><path d="M218.4 150.1L222.9 148L218.3 148.3L213.9 150.3Z" fill="#009cff"/><path d="M227.5 147.5L231.9 145.1L227.3 145.7L222.9 148Z" fill="#00beff"/><path d="M259.2 131.6L263.5 128.1L258.6 130.2L254.4 133.6Z" fill="#00ff8e"/><path d="M236.6 144L240.9 141.3L236.3 142.5L231.9 145.1Z" fill="#00e9ff"/><path d="M186.6 154.7L191.3 153.8L186.9 152.7L182.2 153.5Z" fill="#007aff"/><path d="M195.7 154.5L200.3 153.3L195.9 152.6L191.3 153.8Z" fill="#007bff"/><path d="M245.7 139.9L250.1 136.8L245.3 138.4L240.9 141.3Z" fill="#00ffe1"/><path d="M177.4 154.1L182.2 153.5L177.9 152L173.2 152.5Z" fill="#0082ff"/><path d="M204.8 153.6L209.3 152.1L204.9 151.8L200.3 153.3Z" fill="#0086ff"/><path d="M213.9 152L218.4 150.1L213.9 150.3L209.3 152.1Z" fill="#009aff"/><path d="M223 149.6L227.5 147.5L222.9 148L218.4 150.1Z" fill="#00b7ff"/><path d="M254.9 134.9L259.2 131.6L254.4 133.6L250.1 136.8Z" fill="#00ffa4"/><path d="M232.1 146.5L236.6 144L231.9 145.1L227.5 147.5Z" fill="#00deff"/><path d="M241.3 142.7L245.7 139.9L240.9 141.3L236.6 144Z" fill="#00fff0"/><path d="M190.9 155.6L195.7 154.5L191.3 153.8L186.6 154.7Z" fill="#0084ff"/><path d="M181.8 155.4L186.6 154.7L182.2 153.5L177.4 154.1Z" fill="#0087ff"/><path d="M200.1 155L204.8 153.6L200.3 153.3L195.7 154.5Z" fill="#008aff"/><path d="M209.3 153.7L213.9 152L209.3 152.1L204.8 153.6Z" fill="#009aff"/><path d="M250.6 138L254.9 134.9L250.1 136.8L245.7 139.9Z" fill="#00ffb7"/><path d="M218.5 151.6L223 149.6L218.4 150.1L213.9 152Z" fill="#00b3ff"/><path d="M227.7 148.8L232.1 146.5L227.5 147.5L223 149.6Z" fill="#00d6ff"/><path d="M236.9 145.3L241.3 142.7L236.6 144L232.1 146.5Z" fill="#00fffc"/><path d="M186.2 156.4L190.9 155.6L186.6 154.7L181.8 155.4Z" fill="#0090ff"/><path d="M195.4 156.1L200.1 155L195.7 154.5L190.9 155.6Z" fill="#0092ff"/><path d="M246.2 140.9L250.6 138L245.7 139.9L241.3 142.7Z" fill="#00ffc7"/><path d="M204.6 155.1L209.3 153.7L204.8 153.6L200.1 155Z" fill="#009eff"/><path d="M213.9 153.4L218.5 151.6L213.9 152L209.3 153.7Z" fill="#00b3ff"/><path d="M223.1 150.9L227.7 148.8L223 149.6L218.5 151.6Z" fill="#00d1ff"/><path d="M232.4 147.7L236.9 145.3L232.1 146.5L227.7 148.8Z" fill="#00f9ff"/><path d="M241.8 143.6L246.2 140.9L241.3 142.7L236.9 145.3Z" fill="#00ffd3"/><path d="M190.6 157L195.4 156.1L190.9 155.6L186.2 156.4Z" fill="#009dff"/><path d="M199.9 156.4L204.6 155.1L200.1 155L195.4 156.1Z" fill="#00a4ff"/><path d="M209.2 154.9L213.9 153.4L209.3 153.7L204.6 155.1Z" fill="#00b5ff"/><path d="M218.5 152.8L223.1 150.9L218.5 151.6L213.9 153.4Z" fill="#00d0ff"/><path d="M227.9 149.8L232.4 147.7L227.7 148.8L223.1 150.9Z" fill="#00f4ff"/><path d="M237.3 146.1L241.8 143.6L236.9 145.3L232.4 147.7Z" fill="#00ffdd"/><path d="M195.1 157.4L199.9 156.4L195.4 156.1L190.6 157Z" fill="#00aeff"/><path d="M204.5 156.3L209.2 154.9L204.6 155.1L199.9 156.4Z" fill="#00bbff"/><path d="M213.9 154.4L218.5 152.8L213.9 153.4L209.2 154.9Z" fill="#00d1ff"/><path d="M223.3 151.8L227.9 149.8L223.1 150.9L218.5 152.8Z" fill="#00f1ff"/><path d="M232.7 148.4L237.3 146.1L232.4 147.7L227.9 149.8Z" fill="#00ffe4"/><path d="M199.7 157.4L204.5 156.3L199.9 156.4L195.1 157.4Z" fill="#00c3ff"/><path d="M209.1 155.8L213.9 154.4L209.2 154.9L204.5 156.3Z" fill="#00d6ff"/><path d="M218.6 153.5L223.3 151.8L218.5 152.8L213.9 154.4Z" fill="#00f1ff"/><path d="M228.1 150.5L232.7 148.4L227.9 149.8L223.3 151.8Z" fill="#00ffe8"/><path d="M204.4 157L209.1 155.8L204.5 156.3L199.7 157.4Z" fill="#00ddff"/><path d="M213.9 155.1L218.6 153.5L213.9 154.4L209.1 155.8Z" fill="#00f4ff"/><path d="M223.4 152.3L228.1 150.5L223.3 151.8L218.6 153.5Z" fill="#00ffe9"/><path d="M209.1 156.3L213.9 155.1L209.1 155.8L204.4 157Z" fill="#00fbff"/><path d="M218.7 153.9L223.4 152.3L218.6 153.5L213.9 155.1Z" fill="#00ffe7"/><path d="M213.9 155.3L218.7 153.9L213.9 155.1L209.1 156.3Z" fill="#00ffe2"/></g>
<path d="M213.8 115.2V137.4" stroke="#300" stroke-opacity="0.25" stroke-width="0.5"/>
<circle cx="213.8" cy="115.2" r="1.7" fill="#c80000" stroke="#600" stroke-width="0.35"/>
<circle cx="213.8" cy="137.4" r="1.7" fill="#c80000" stroke="#600" stroke-width="0.35"/>
<text x="128" y="148.3" font-size="4.9" text-anchor="end" fill="#1a1a1a" stroke="#1a1a1a" stroke-width="0.11" textLength="5.77" lengthAdjust="spacingAndGlyphs">6.8</text>
<text x="127.4" y="135.9" font-size="4.9" text-anchor="end" fill="#1a1a1a" stroke="#1a1a1a" stroke-width="0.11" textLength="2.31" lengthAdjust="spacingAndGlyphs">7</text>
<text x="126.9" y="123.5" font-size="4.9" text-anchor="end" fill="#1a1a1a" stroke="#1a1a1a" stroke-width="0.11" textLength="5.77" lengthAdjust="spacingAndGlyphs">7.2</text>
<text x="126.4" y="111.1" font-size="4.9" text-anchor="end" fill="#1a1a1a" stroke="#1a1a1a" stroke-width="0.11" textLength="5.77" lengthAdjust="spacingAndGlyphs">7.4</text>
<text x="125.8" y="98.7" font-size="4.9" text-anchor="end" fill="#1a1a1a" stroke="#1a1a1a" stroke-width="0.11" textLength="5.77" lengthAdjust="spacingAndGlyphs">7.6</text>
<text x="125.3" y="86.4" font-size="4.9" text-anchor="end" fill="#1a1a1a" stroke="#1a1a1a" stroke-width="0.11" textLength="5.77" lengthAdjust="spacingAndGlyphs">7.8</text>
<text x="124.7" y="74" font-size="4.9" text-anchor="end" fill="#1a1a1a" stroke="#1a1a1a" stroke-width="0.11" textLength="2.31" lengthAdjust="spacingAndGlyphs">8</text>
<text x="124.2" y="61.6" font-size="4.9" text-anchor="end" fill="#1a1a1a" stroke="#1a1a1a" stroke-width="0.11" textLength="5.77" lengthAdjust="spacingAndGlyphs">8.2</text>
<text x="129.1" y="181.2" font-size="4.9" text-anchor="end" fill="#1a1a1a" stroke="#1a1a1a" stroke-width="0.11" textLength="2.31" lengthAdjust="spacingAndGlyphs">6</text>
<text x="149.7" y="191.2" font-size="4.9" text-anchor="end" fill="#1a1a1a" stroke="#1a1a1a" stroke-width="0.11" textLength="5.77" lengthAdjust="spacingAndGlyphs">5.5</text>
<text x="170.4" y="201.1" font-size="4.9" text-anchor="end" fill="#1a1a1a" stroke="#1a1a1a" stroke-width="0.11" textLength="2.31" lengthAdjust="spacingAndGlyphs">5</text>
<text x="191" y="211" font-size="4.9" text-anchor="end" fill="#1a1a1a" stroke="#1a1a1a" stroke-width="0.11" textLength="5.77" lengthAdjust="spacingAndGlyphs">4.5</text>
<text x="211.6" y="220.9" font-size="4.9" text-anchor="end" fill="#1a1a1a" stroke="#1a1a1a" stroke-width="0.11" textLength="2.31" lengthAdjust="spacingAndGlyphs">4</text>
<text x="216.2" y="220.9" font-size="4.9" fill="#1a1a1a" stroke="#1a1a1a" stroke-width="0.11" textLength="2.31" lengthAdjust="spacingAndGlyphs">5</text>
<text x="236.9" y="211" font-size="4.9" fill="#1a1a1a" stroke="#1a1a1a" stroke-width="0.11" textLength="5.77" lengthAdjust="spacingAndGlyphs">5.5</text>
<text x="257.5" y="201" font-size="4.9" fill="#1a1a1a" stroke="#1a1a1a" stroke-width="0.11" textLength="2.31" lengthAdjust="spacingAndGlyphs">6</text>
<text x="278.1" y="191.1" font-size="4.9" fill="#1a1a1a" stroke="#1a1a1a" stroke-width="0.11" textLength="5.77" lengthAdjust="spacingAndGlyphs">6.5</text>
<text x="298.7" y="181.2" font-size="4.9" fill="#1a1a1a" stroke="#1a1a1a" stroke-width="0.11" textLength="2.31" lengthAdjust="spacingAndGlyphs">7</text>
<path d="M129.4 148.6h1.3v1.3h-1.3zM128.9 136.2h1.3v1.3h-1.3zM128.4 123.8h1.3v1.3h-1.3zM127.8 111.4h1.3v1.3h-1.3zM127.3 99h1.3v1.3h-1.3zM126.7 86.6h1.3v1.3h-1.3zM126.2 74.2h1.3v1.3h-1.3zM125.6 61.8h1.3v1.3h-1.3zM130.6 175.7h1.3v1.3h-1.3zM151.3 185.6h1.3v1.3h-1.3zM171.9 195.5h1.3v1.3h-1.3zM192.6 205.4h1.3v1.3h-1.3zM213.2 215.4h1.3v1.3h-1.3zM213.2 215.4h1.3v1.3h-1.3zM233.8 205.4h1.3v1.3h-1.3zM254.4 195.5h1.3v1.3h-1.3zM275 185.5h1.3v1.3h-1.3zM295.6 175.6h1.3v1.3h-1.3z" fill="#111"/>
<text x="110.9" y="212.6" font-size="5.3" fill="#1a1a1a" stroke="#1a1a1a" stroke-width="0.12" textLength="60.30" lengthAdjust="spacingAndGlyphs">B: Mahua flower extract (%)</text>
<text x="268.9" y="212.5" font-size="5.3" fill="#1a1a1a" stroke="#1a1a1a" stroke-width="0.12" textLength="35.20" lengthAdjust="spacingAndGlyphs">A: BTM flour (%)</text>
<text transform="translate(100.5 121.2) rotate(-90)" font-size="5.1" text-anchor="middle" fill="#1a1a1a" textLength="13.1" lengthAdjust="spacingAndGlyphs">Flavor</text>
<text x="206.8" y="250.7" font-family='"Liberation Serif", serif' font-size="17.8" font-weight="bold" textLength="11.7" lengthAdjust="spacingAndGlyphs">A</text>
<rect x="357" y="-1" width="74.9" height="121.3" fill="#fff" stroke="#c8c8c8" stroke-width="0.8"/>
<text x="357.5" y="88.8" font-size="6.2" fill="#111" stroke="#111" stroke-width="0.14" textLength="71.40" lengthAdjust="spacingAndGlyphs">X2 = B: Mahua flower extract</text>
<text x="357.5" y="107.1" font-size="6.2" font-weight="bold" fill="#111" stroke="#111" stroke-width="0.19" textLength="34.50" lengthAdjust="spacingAndGlyphs">Actual Factor</text>
<text x="357.5" y="116" font-size="6.2" fill="#111" stroke="#111" stroke-width="0.14" textLength="50.30" lengthAdjust="spacingAndGlyphs">C: temprature = 175</text>
<rect x="357.4" y="0.8" width="52.7" height="85.5" fill="#fff"/>
<path d="M410.1 0.4V86.2" stroke="#c0c0c0" stroke-width="0.8"/>
<text x="357.5" y="5.5" font-size="4.6" fill="#1a1a1a" stroke="#1a1a1a" stroke-width="0.10" textLength="38.10" lengthAdjust="spacingAndGlyphs">Factor Coding: Actual</text>
<text x="357.5" y="18.4" font-size="4.6" font-weight="bold" fill="#000" stroke="#000" stroke-width="0.14" textLength="29.85" lengthAdjust="spacingAndGlyphs">Body &amp; Texture</text>
<text x="357.5" y="24.7" font-size="4.6" fill="#1a1a1a" stroke="#1a1a1a" stroke-width="0.10" textLength="25.79" lengthAdjust="spacingAndGlyphs">Design Points:</text>
<circle cx="361.5" cy="30" r="1.9" fill="#b00000" stroke="#500" stroke-width="0.3"/>
<text x="365.8" y="31.6" font-size="4.6" fill="#c8102e" stroke="#c8102e" stroke-width="0.10" textLength="26.24" lengthAdjust="spacingAndGlyphs">Above Surface</text>
<circle cx="361.5" cy="35.9" r="1.85" fill="#f7c0c0" stroke="#500" stroke-width="0.4"/>
<text x="365.8" y="37.5" font-size="4.6" fill="#c8102e" stroke="#c8102e" stroke-width="0.10" textLength="25.79" lengthAdjust="spacingAndGlyphs">Below Surface</text>
<text x="357.3" y="44.3" font-size="4.6" fill="#1a1a1a" stroke="#1a1a1a" stroke-width="0.10" textLength="5.56" lengthAdjust="spacingAndGlyphs">6.5</text>
<defs><linearGradient id="gB"><stop offset="0" stop-color="#0000ff"/><stop offset="0.5" stop-color="#00ff00"/><stop offset="1" stop-color="#ff0000"/></linearGradient></defs>
<rect x="364" y="40.1" width="14.3" height="5.6" fill="url(#gB)" stroke="#111" stroke-width="0.45"/>
<text x="380" y="44.3" font-size="4.6" fill="#1a1a1a" stroke="#1a1a1a" stroke-width="0.10" textLength="5.56" lengthAdjust="spacingAndGlyphs">8.1</text>
<text x="357.5" y="57.1" font-size="4.6" fill="#1a1a1a" stroke="#1a1a1a" stroke-width="0.10" textLength="31.46" lengthAdjust="spacingAndGlyphs">X1 = A: BTM flour</text>
<text x="357.5" y="63.8" font-size="4.6" fill="#1a1a1a" stroke="#1a1a1a" stroke-width="0.10" textLength="51.60" lengthAdjust="spacingAndGlyphs">X2 = B: Mahua flower extract</text>
<text x="357.5" y="76.2" font-size="4.6" font-weight="bold" fill="#000" stroke="#000" stroke-width="0.14" textLength="25.56" lengthAdjust="spacingAndGlyphs">Actual Factor</text>
<text x="357.5" y="83.1" font-size="4.6" fill="#1a1a1a" stroke="#1a1a1a" stroke-width="0.10" textLength="35.68" lengthAdjust="spacingAndGlyphs">C: temprature = 175</text>
<text x="551" y="11.7" font-size="8.9" fill="#1a1a1a" textLength="38.50" lengthAdjust="spacingAndGlyphs">3D Surface</text>
<path d="M555.8 145L555.9 42.2" stroke="#c4c4c4" stroke-width="1.3" fill="none"/>
<path d="M493 142.1L490.2 57.4M618.6 142L621.6 57.4M513.9 134.9L512.1 52.4M597.7 134.9L599.7 52.3M534.9 127.7L534 47.3M576.7 127.7L577.8 47.3" stroke="#5a5a5a" stroke-width="0.6" fill="none"/>
<path d="M638.3 176.3L643.5 62.4" stroke="#6e6e6e" stroke-width="0.6" fill="none"/>
<path d="M472.1 149.2L555.8 120.6L639.5 149.1M471.1 127.5L555.8 101L640.5 127.5M470.2 105.8L555.8 81.4L641.5 105.8M469.2 84.2L555.8 61.8L642.5 84.1M468.3 62.5L555.9 42.2L643.5 62.4" stroke="#2e2e2e" stroke-width="0.6" fill="none"/>
<path d="M473.3 176.3L468.3 62.5" stroke="#1a1a1a" stroke-width="0.65" fill="none"/>
<path d="M555.8 216L638.3 176.3L555.8 145L473.3 176.3Z" fill="#646464" stroke="#111" stroke-width="0.8" stroke-linejoin="round"/>
<path d="M556.1 214.8L555.5 214.9M558.5 214.7L556.1 214.8M558.5 214.7L558.5 214.7M555.5 214.9L553.6 214.9M479.8 178.4L479.4 179.3M479.8 178.4L479.8 178.4M480.4 177.5L479.8 178.4M480.5 177.2L480.4 177.5M480.5 177.2L480.9 176.6M481.3 176L480.9 176.6M481.3 176L481.5 175.8M482.1 174.9L481.5 175.8M482.3 174.7L482.1 174.9M556.9 146.3L556.7 146.3M558.7 146.1L556.9 146.3M482.3 174.7L482.7 174.1M483.3 173.4L482.7 174.1M555.3 146.4L553.8 146.6M556.7 146.3L555.3 146.4M483.3 173.4L483.4 173.3M484.1 172.6L483.4 173.3M484.6 172L484.1 172.6M551.9 146.8L550.8 146.9M553.6 146.6L551.9 146.8M553.8 146.6L553.6 146.6" stroke="#bdff00" stroke-width="0.75" fill="none" stroke-linecap="round"/>
<path d="M568.3 209.4L566.6 209.6M570 209.2L568.3 209.4M635.1 177.8L635.1 177.7M635.3 176.9L635.1 177.7M635.4 176.5L635.3 176.9M564 209.8L563.3 209.9M566.2 209.6L564 209.8M566.6 209.6L566.2 209.6M635.4 176.5L635.4 176.1M635.5 175.3L635.4 176.1M561.7 210L560.2 210.1M563.3 209.9L561.7 210M635.5 175.3L635.6 175.2M559.4 210.1L557.2 210.3M560.2 210.1L559.4 210.1M554.7 210.4L554.4 210.4M557.1 210.3L554.7 210.4M557.2 210.3L557.1 210.3M552.2 210.4L551.6 210.5M554.4 210.4L552.2 210.4M549.6 210.5L548.9 210.5M551.6 210.5L549.6 210.5M547 210.5L546.3 210.5M548.9 210.5L547 210.5M546.3 210.5L544.2 210.4M487.2 182L487.1 183M487.2 182L487.3 181.9M487.5 180.9L487.3 181.9M487.5 180.9L487.5 180.9M487.9 179.9L487.5 180.9M487.9 179.9L487.9 179.9M487.9 179.9L488.2 179M488.3 178.7L488.2 179M488.3 178.7L488.7 178M488.9 177.6L488.7 178M563.3 148.7L563.2 148.7M565.2 148.6L563.3 148.7M488.9 177.6L489.2 177.2M489.6 176.4L489.2 177.2M561.5 148.8L560.6 148.9M563.2 148.7L561.5 148.8M489.6 176.4L489.7 176.3M490.3 175.5L489.7 176.3M490.5 175.2L490.3 175.5M558 149.1L557.9 149.1M559.7 149L558 149.1M560.6 148.9L559.7 149M490.5 175.2L490.9 174.6M491.5 173.9L490.9 174.6M556.2 149.3L555 149.4M557.9 149.1L556.2 149.3M491.5 173.9L491.5 173.9M492.2 173.1L491.5 173.9M492.7 172.5L492.2 173.1M552.9 149.6L551.9 149.7M554.6 149.4L552.9 149.6M555 149.4L554.6 149.4M492.7 172.5L492.9 172.3M493.6 171.6L492.9 172.3M494.2 171L493.6 171.6M549.7 150L548.7 150.2M551.3 149.8L549.7 150M551.9 149.7L551.3 149.8M494.2 171L494.4 170.9M495.1 170.2L494.4 170.9M495.9 169.5L495.1 170.2M496 169.5L495.9 169.5M546.5 150.5L545.1 150.7M548.1 150.3L546.5 150.5M548.7 150.2L548.1 150.3M496 169.5L496.8 168.8M497.6 168.2L496.8 168.8M498.2 167.8L497.6 168.2M542 151.3L541.1 151.4M543.5 151L542 151.3M545 150.7L543.5 151M545.1 150.7L545 150.7M498.2 167.8L498.5 167.5M499.4 166.9L498.5 167.5M500.3 166.3L499.4 166.9M501 165.8L500.3 166.3M537.7 152.1L536.5 152.4M539.1 151.8L537.7 152.1M540.5 151.5L539.1 151.8M541.1 151.4L540.5 151.5" stroke="#e8ff00" stroke-width="0.75" fill="none" stroke-linecap="round"/>
<path d="M583.1 202L581.8 202.3M584.8 201.6L583.1 202M586.5 201.2L584.8 201.6M586.6 201.2L586.5 201.2M620.8 184.7L621.1 184.4M621.7 183.7L621.1 184.4M622.3 183L621.7 183.7M622.5 182.7L622.3 183M577.8 203L577.5 203.1M579.6 202.7L577.8 203M581.4 202.3L579.6 202.7M581.8 202.3L581.4 202.3M622.5 182.7L622.9 182.3M623.4 181.5L622.9 182.3M623.7 181L623.4 181.5M574 203.7L573.6 203.7M575.9 203.4L574 203.7M577.5 203.1L575.9 203.4M623.7 181L623.9 180.8M624.3 180L623.9 180.8M624.6 179.4L624.3 180M570.1 204.2L570 204.2M572 203.9L570.1 204.2M573.6 203.7L572 203.9M624.6 179.4L624.7 179.2M625 178.4L624.7 179.2M625.2 178L625 178.4M568 204.5L566.6 204.6M570 204.2L568 204.5M625.2 178L625.3 177.6M625.5 176.8L625.3 177.6M625.6 176.7L625.5 176.8M563.7 204.9L563.4 204.9M565.9 204.7L563.7 204.9M566.6 204.6L565.9 204.7M625.6 176.7L625.7 175.9M625.8 175.5L625.7 175.9M561.5 205L560.3 205.1M563.4 204.9L561.5 205M625.8 175.5L625.8 175.1M625.9 174.3L625.8 175.1M559.2 205.2L557.4 205.3M560.3 205.1L559.2 205.2M625.9 174.3L625.9 174.2M625.9 173.3L625.9 174.2M625.9 173.3L625.9 173.3M556.9 205.3L554.6 205.4M557.4 205.3L556.9 205.3M625.9 173.3L625.8 172.4M625.7 172.2L625.8 172.4M552 205.4L551.9 205.4M554.5 205.4L552 205.4M554.6 205.4L554.5 205.4M625.7 172.2L625.6 171.4M549.4 205.4L549.3 205.4M551.9 205.4L549.4 205.4M549.3 205.4L546.8 205.4M546.7 205.4L544.4 205.3M546.8 205.4L546.7 205.4M543.9 205.3L542.1 205.2M544.4 205.3L543.9 205.3M540.9 205.1L539.8 205M542.1 205.2L540.9 205.1M537.8 204.9L537.7 204.8M539.8 205L537.8 204.9M537.7 204.8L535.6 204.6M534.5 204.5L533.5 204.4M535.6 204.6L534.5 204.5M533.5 204.4L531.5 204.1M531.5 204.1L530.9 204M498.5 188.2L498.7 188.6M498.5 188.2L498.1 187.3M498.1 187.3L498 187.1M497.8 186.4L498 187.1M497.8 186.4L497.6 185.7M497.6 185.6L497.6 185.7M497.6 185.6L497.4 184.6M497.4 184.6L497.4 184.4M497.3 183.7L497.4 184.4M497.3 183.7L497.3 183.3M497.3 182.7L497.3 183.3M497.3 182.7L497.4 182.1M497.4 181.7L497.4 182.1M573.7 151.8L572.5 151.8M497.4 181.7L497.5 181.1M497.6 180.7L497.5 181.1M571.5 151.8L570.3 151.8M572.5 151.8L571.5 151.8M497.6 180.7L497.8 180.1M497.9 179.7L497.8 180.1M569.4 151.8L568 151.9M570.3 151.8L569.4 151.8M497.9 179.7L498.1 179.1M498.3 178.6L498.1 179.1M567.4 151.9L565.6 152M568 151.9L567.4 151.9M498.3 178.6L498.5 178.2M498.8 177.4L498.5 178.2M563.5 152.1L563.1 152.1M565.4 152L563.5 152.1M565.6 152L565.4 152M498.8 177.4L498.9 177.3M499.4 176.4L498.9 177.3M499.5 176.2L499.4 176.4M561.7 152.2L560.5 152.3M563.1 152.1L561.7 152.2M499.5 176.2L499.9 175.6M500.4 175L499.9 175.6M558.1 152.5L557.7 152.5M559.9 152.3L558.1 152.5M560.5 152.3L559.9 152.3M500.4 175L500.5 174.8M501.1 174L500.5 174.8M501.4 173.6L501.1 174M556.4 152.7L554.8 152.8M557.7 152.5L556.4 152.7M501.4 173.6L501.8 173.2M502.5 172.5L501.8 173.2M502.7 172.2L502.5 172.5M553 153L551.5 153.2M554.7 152.8L553 153M554.8 152.8L554.7 152.8M502.7 172.2L503.2 171.7M504 171L503.2 171.7M504.3 170.7L504 171M548.2 153.7L548 153.8M549.8 153.5L548.2 153.7M551.4 153.3L549.8 153.5M551.5 153.2L551.4 153.3M504.3 170.7L504.7 170.3M505.6 169.7L504.7 170.3M506.4 169L505.6 169.7M506.4 169L506.4 169M545.2 154.2L544.1 154.4M546.7 154L545.2 154.2M548 153.8L546.7 154M506.4 169L507.3 168.4M508.1 167.8L507.3 168.4M509 167.2L508.1 167.8M509.2 167L509 167.2M540.8 155.1L539.4 155.4M542.2 154.8L540.8 155.1M543.7 154.5L542.2 154.8M544.1 154.4L543.7 154.5M509.2 167L510 166.6M510.9 166L510 166.6M511.9 165.4L510.9 166M512.9 164.9L511.9 165.4M513.5 164.5L512.9 164.9M533.9 156.8L533.3 156.9M535.2 156.4L533.9 156.8M536.6 156.1L535.2 156.4M537.9 155.7L536.6 156.1M539.3 155.4L537.9 155.7M539.4 155.4L539.3 155.4M513.5 164.5L513.9 164.3M514.9 163.8L513.9 164.3M516 163.3L514.9 163.8M517 162.8L516 163.3M518.1 162.3L517 162.8M519.2 161.8L518.1 162.3M520.4 161.3L519.2 161.8M521.5 160.8L520.4 161.3M522.6 160.4L521.5 160.8M523.8 159.9L522.6 160.4M525 159.5L523.8 159.9M526.2 159.1L525 159.5M527.5 158.7L526.2 159.1M528.7 158.3L527.5 158.7M530 157.9L528.7 158.3M531.2 157.5L530 157.9M532.5 157.1L531.2 157.5M533.3 156.9L532.5 157.1" stroke="#ffea00" stroke-width="0.75" fill="none" stroke-linecap="round"/>
<path d="M588.6 194.4L587.2 194.9M590 194L588.6 194.4M591.4 193.5L590 194M592.8 193L591.4 193.5M594.1 192.5L592.8 193M595.4 192L594.1 192.5M596.6 191.5L595.4 192M597.8 190.9L596.6 191.5M599 190.4L597.8 190.9M600.1 189.8L599 190.4M601.2 189.3L600.1 189.8M602.3 188.7L601.2 189.3M603.3 188.1L602.3 188.7M604.3 187.5L603.3 188.1M605.2 186.9L604.3 187.5M606.1 186.2L605.2 186.9M607 185.6L606.1 186.2M607.3 185.3L607 185.6M582.5 196.1L581.5 196.4M584.1 195.7L582.5 196.1M585.6 195.3L584.1 195.7M587.1 194.9L585.6 195.3M587.2 194.9L587.1 194.9M607.3 185.3L607.8 184.9M608.6 184.3L607.8 184.9M609.3 183.6L608.6 184.3M610.1 182.9L609.3 183.6M610.1 182.9L610.1 182.9M577.5 197.2L576.8 197.4M579.2 196.9L577.5 197.2M580.9 196.5L579.2 196.9M581.5 196.4L580.9 196.5M610.1 182.9L610.7 182.2M611.3 181.5L610.7 182.2M611.7 181L611.3 181.5M573.9 197.9L572.8 198.1M575.7 197.6L573.9 197.9M576.8 197.4L575.7 197.6M611.7 181L611.9 180.8M612.4 180L611.9 180.8M612.8 179.4L612.4 180M570.1 198.5L569.2 198.6M572 198.2L570.1 198.5M572.8 198.1L572 198.2M612.8 179.4L612.9 179.3M613.3 178.5L612.9 179.3M613.5 177.9L613.3 178.5M566.1 199L565.8 199M568.1 198.7L566.1 199M569.2 198.6L568.1 198.7M613.5 177.9L613.6 177.7M613.9 176.9L613.6 177.7M614 176.6L613.9 176.9M564 199.2L562.6 199.3M565.8 199L564 199.2M614 176.6L614.1 176M614.2 175.4L614.1 176M561.8 199.3L559.7 199.5M562.6 199.3L561.8 199.3M614.2 175.4L614.3 175.2M614.3 174.3L614.3 175.2M614.3 174.3L614.3 174.3M557.3 199.6L556.9 199.6M559.6 199.5L557.3 199.6M559.7 199.5L559.6 199.5M614.3 174.3L614.3 173.4M614.3 173.2L614.3 173.4M554.9 199.6L554.2 199.6M556.9 199.6L554.9 199.6M614.3 173.2L614.2 172.4M614.1 172.2L614.2 172.4M552.3 199.6L551.7 199.6M554.2 199.6L552.3 199.6M614.1 172.2L613.9 171.4M613.9 171.3L613.9 171.4M549.7 199.6L549.3 199.6M551.7 199.6L549.7 199.6M613.9 171.3L613.6 170.4M549.3 199.6L546.9 199.5M613.6 170.4L613.5 170.4M613.1 169.5L613.5 170.4M546.9 199.5L544.7 199.3M546.9 199.5L546.9 199.5M613.1 169.5L613 169.3M612.6 168.7L613 169.3M543.9 199.3L542.6 199.2M544.7 199.3L543.9 199.3M612.6 168.7L612.2 168.1M612.1 168L612.2 168.1M540.8 199L540.5 199M542.6 199.2L540.8 199M612.1 168L611.4 167.2M540.5 199L538.5 198.7M611.4 167.2L611.1 166.8M610.7 166.5L611.1 166.8M537.2 198.5L536.6 198.4M538.5 198.7L537.2 198.5M610.7 166.5L610 165.8M536.6 198.4L534.8 198.1M610 165.8L609.4 165.3M533.2 197.8L533 197.8M534.8 198.1L533.2 197.8M533 197.8L531.3 197.4M531.3 197.4L529.6 197M528.2 196.7L528.1 196.6M529.6 197L528.2 196.7M528.1 196.6L526.6 196.2M526.6 196.2L525.1 195.7M525.1 195.7L523.7 195.2M523.7 195.2L522.4 194.7M522.4 194.7L521.1 194.2M521.1 194.2L519.9 193.7M519.9 193.7L518.8 193.1M518.8 193.1L517.7 192.5M517.7 192.5L516.7 191.9M516.7 191.9L515.7 191.2M515.7 191.2L514.8 190.6M514.8 190.6L514.2 190.1M514 189.9L514.2 190.1M514 189.9L513.2 189.2M513.2 189.2L512.5 188.4M588.3 157.3L587.6 157.2M512.5 188.4L512 187.9M511.9 187.7L512 187.9M587.6 157.2L585.9 157M511.9 187.7L511.3 186.9M584.7 156.8L584.3 156.7M585.9 157L584.7 156.8M511.3 186.9L510.8 186.2M510.8 186.1L510.8 186.2M584.3 156.7L582.5 156.6M510.8 186.1L510.4 185.3M581.6 156.5L580.8 156.4M582.5 156.6L581.6 156.5M510.4 185.3L510.1 184.7M510 184.4L510.1 184.7M580.8 156.4L578.9 156.2M510 184.4L509.8 183.6M578.8 156.2L577 156.1M578.9 156.2L578.8 156.2M509.8 183.6L509.7 183.4M509.6 182.6L509.7 183.4M576.2 156.1L575 156M577 156.1L576.2 156.1M509.6 182.6L509.6 182.2M509.5 181.7L509.6 182.2M573.8 156L573 156M575 156L573.8 156M509.5 181.7L509.5 181.1M509.6 180.7L509.5 181.1M571.5 156L570.8 156M573 156L571.5 156M509.6 180.7L509.7 180M509.7 179.7L509.7 180M569.3 156L568.6 156M570.8 156L569.3 156M509.7 179.7L509.9 179M510 178.6L509.9 179M567.2 156L566.2 156.1M568.6 156L567.2 156M510 178.6L510.2 178.1M510.4 177.5L510.2 178.1M565.2 156.1L563.7 156.2M566.2 156.1L565.2 156.1M510.4 177.5L510.6 177.2M511 176.3L510.6 177.2M511 176.3L511 176.3M561.4 156.3L561.1 156.3M563.3 156.2L561.4 156.3M563.7 156.2L563.3 156.2M511 176.3L511.5 175.5M511.8 175.1L511.5 175.5M559.6 156.5L558.3 156.6M561.1 156.3L559.6 156.5M511.8 175.1L512.1 174.7M512.7 173.9L512.1 174.7M512.9 173.7L512.7 173.9M556.1 156.8L555.2 156.9M557.8 156.6L556.1 156.8M558.3 156.6L557.8 156.6M512.9 173.7L513.4 173.2M514.1 172.4L513.4 173.2M514.3 172.2L514.1 172.4M552.8 157.3L551.8 157.4M554.4 157L552.8 157.3M555.2 156.9L554.4 157M514.3 172.2L514.8 171.7M515.6 171.1L514.8 171.7M516.1 170.6L515.6 171.1M548.1 158L548 158.1M549.6 157.8L548.1 158M551.2 157.5L549.6 157.8M551.8 157.4L551.2 157.5M516.1 170.6L516.4 170.4M517.2 169.7L516.4 170.4M518.1 169.1L517.2 169.7M518.8 168.6L518.1 169.1M543.7 158.9L543.4 159M545.1 158.6L543.7 158.9M546.6 158.3L545.1 158.6M548 158.1L546.6 158.3M518.8 168.6L519 168.5M519.9 167.9L519 168.5M520.9 167.3L519.9 167.9M521.9 166.8L520.9 167.3M522.9 166.2L521.9 166.8M523.5 165.9L522.9 166.2M536.8 160.7L536.8 160.7M538.1 160.3L536.8 160.7M539.5 160L538.1 160.3M540.9 159.6L539.5 160M542.2 159.3L540.9 159.6M543.4 159L542.2 159.3M523.5 165.9L523.9 165.7M525 165.2L523.9 165.7M526.1 164.7L525 165.2M527.2 164.2L526.1 164.7M528.3 163.7L527.2 164.2M529.4 163.2L528.3 163.7M530.6 162.8L529.4 163.2M531.8 162.3L530.6 162.8M533 161.9L531.8 162.3M534.3 161.5L533 161.9M535.5 161.1L534.3 161.5M536.8 160.7L535.5 161.1" stroke="#ffbf00" stroke-width="0.75" fill="none" stroke-linecap="round"/>
<path d="M580.6 188.9L579.5 189.2M582 188.4L580.6 188.9M583.4 188L582 188.4M584.7 187.5L583.4 188M585.9 187L584.7 187.5M587.1 186.5L585.9 187M588.3 185.9L587.1 186.5M589.4 185.4L588.3 185.9M590.5 184.8L589.4 185.4M591.5 184.2L590.5 184.8M592.5 183.6L591.5 184.2M593.4 183L592.5 183.6M594 182.5L593.4 183M574.4 190.5L574.2 190.5M576 190.1L574.4 190.5M577.6 189.7L576 190.1M579.1 189.3L577.6 189.7M579.5 189.2L579.1 189.3M594 182.5L594.2 182.4M595 181.7L594.2 182.4M595.8 181L595 181.7M596.5 180.3L595.8 181M596.6 180.3L596.5 180.3M571 191.1L570 191.3M572.7 190.8L571 191.1M574.2 190.5L572.7 190.8M596.6 180.3L597.1 179.6M597.7 178.9L597.1 179.6M597.9 178.6L597.7 178.9M567.3 191.7L566.5 191.8M569.2 191.4L567.3 191.7M570 191.3L569.2 191.4M597.9 178.6L598.2 178.1M598.6 177.4L598.2 178.1M598.7 177.1L598.6 177.4M565.3 191.9L563.3 192.1M566.5 191.8L565.3 191.9M598.7 177.1L598.9 176.5M599.1 175.9L598.9 176.5M561.1 192.2L560.4 192.3M563.3 192.1L561.1 192.2M563.3 192.1L563.3 192.1M599.1 175.9L599.1 175.7M599.3 174.8L599.1 175.7M599.3 174.7L599.3 174.8M558.9 192.3L557.7 192.4M560.4 192.3L558.9 192.3M599.3 174.7L599.3 173.9M599.2 173.7L599.3 173.9M556.5 192.4L555.2 192.4M557.7 192.4L556.5 192.4M599.2 173.7L599.1 172.9M599.1 172.7L599.1 172.9M553.9 192.4L552.8 192.3M555.2 192.4L553.9 192.4M599.1 172.7L598.7 171.8M551.2 192.3L550.6 192.2M552.8 192.3L551.2 192.3M598.7 171.8L598.7 171.8M598.3 171L598.7 171.8M550.6 192.2L548.5 192.1M598.3 171L598.1 170.7M597.8 170.2L598.1 170.7M548.2 192L546.5 191.8M548.5 192.1L548.2 192M597.8 170.2L597.2 169.5M544.8 191.6L544.6 191.6M546.5 191.8L544.8 191.6M597.2 169.5L597.1 169.4M596.5 168.8L597.1 169.4M544.6 191.6L542.8 191.3M596.5 168.8L595.7 168.1M542.8 191.3L541.1 190.9M595.7 168.1L595.2 167.8M594.8 167.5L595.2 167.8M540.6 190.8L539.5 190.6M541.1 190.9L540.6 190.8M594.8 167.5L593.9 166.9M539.5 190.6L538 190.2M593.9 166.9L592.9 166.3M538 190.2L536.5 189.7M592.9 166.3L591.9 165.8M536.5 189.7L535.2 189.2M591.9 165.8L590.8 165.3M535.2 189.2L533.9 188.7M590.8 165.3L589.6 164.8M533.9 188.7L532.7 188.2M589.6 164.8L588.4 164.4M532.7 188.2L531.6 187.6M588.4 164.4L587.1 164M531.6 187.6L530.5 187M587.1 164L585.7 163.6M530.5 187L529.6 186.4M585.7 163.6L584.3 163.2M529.6 186.4L528.7 185.7M584.3 163.2L582.8 162.9M528.7 185.7L527.9 185.1M527.9 185.1L527.9 185.1M582.7 162.9L581.3 162.6M582.8 162.9L582.7 162.9M527.9 185.1L527.2 184.3M581.3 162.6L579.6 162.4M527.2 184.3L526.6 183.6M578.8 162.2L578 162.1M579.6 162.4L578.8 162.2M526.6 183.6L526.4 183.3M526.1 182.8L526.4 183.3M578 162.1L576.2 161.9M526.1 182.8L525.7 181.9M575.7 161.9L574.3 161.8M576.2 161.9L575.7 161.9M525.7 181.9L525.7 181.9M525.4 181.1L525.7 181.9M572.9 161.7L572.3 161.7M574.3 161.8L572.9 161.7M525.4 181.1L525.4 180.7M525.3 180.1L525.4 180.7M570.4 161.6L570.3 161.6M572.3 161.7L570.4 161.6M525.3 180.1L525.3 179.5M525.3 179.2L525.3 179.5M568.2 161.6L568.1 161.6M570.3 161.6L568.2 161.6M525.3 179.2L525.4 178.5M525.4 178.1L525.4 178.5M566 161.6L565.7 161.6M568.1 161.6L566 161.6M525.4 178.1L525.6 177.6M525.8 177L525.6 177.6M564 161.7L563.2 161.8M565.7 161.6L564 161.7M525.8 177L526 176.7M526.4 175.8L526 176.7M526.4 175.8L526.4 175.8M562 161.8L560.4 162M563.2 161.8L562 161.8M526.4 175.8L526.9 175M527.3 174.5L526.9 175M558.4 162.2L557.4 162.3M560.2 162L558.4 162.2M560.4 162L560.2 162M527.3 174.5L527.5 174.2M528.2 173.5L527.5 174.2M528.7 173L528.2 173.5M555 162.6L553.9 162.8M556.7 162.4L555 162.6M557.4 162.3L556.7 162.4M528.7 173L528.9 172.8M529.7 172.1L528.9 172.8M530.5 171.5L529.7 172.1M530.9 171.1L530.5 171.5M550.3 163.5L549.6 163.6M551.9 163.2L550.3 163.5M553.4 162.9L551.9 163.2M553.9 162.8L553.4 162.9M530.9 171.1L531.3 170.9M532.3 170.2L531.3 170.9M533.2 169.7L532.3 170.2M534.2 169.1L533.2 169.7M535.2 168.6L534.2 169.1M535.8 168.3L535.2 168.6M543.4 165.3L542.6 165.5M544.7 164.9L543.4 165.3M546.1 164.5L544.7 164.9M547.4 164.1L546.1 164.5M548.9 163.8L547.4 164.1M549.6 163.6L548.9 163.8M535.8 168.3L536.3 168M537.4 167.5L536.3 168M538.5 167L537.4 167.5M539.7 166.6L538.5 167M540.9 166.1L539.7 166.6M542.1 165.7L540.9 166.1M542.6 165.5L542.1 165.7" stroke="#ff9400" stroke-width="0.75" fill="none" stroke-linecap="round"/>
<g stroke="#000" stroke-opacity="0.45" stroke-width="0.65" stroke-linejoin="round"><path d="M555.8 80.8L559.7 80.8L555.8 81.4L552 81.5Z" fill="#bdff00"/><path d="M551.9 81L555.8 80.8L552 81.5L548.1 81.7Z" fill="#cdff00"/><path d="M559.7 80.3L563.6 80.3L559.7 80.8L555.8 80.8Z" fill="#d8ff00"/><path d="M548 81.3L551.9 81L548.1 81.7L544.2 82Z" fill="#dbff00"/><path d="M555.8 80.5L559.7 80.3L555.8 80.8L551.9 81Z" fill="#e8ff00"/><path d="M563.7 80L567.5 80L563.6 80.3L559.7 80.3Z" fill="#f0ff00"/><path d="M544 81.7L548 81.3L544.2 82L540.2 82.4Z" fill="#e7ff00"/><path d="M551.9 80.8L555.8 80.5L551.9 81L548 81.3Z" fill="#f5ff00"/><path d="M559.8 80.2L563.7 80L559.7 80.3L555.8 80.5Z" fill="#fffe00"/><path d="M567.6 79.9L571.5 79.8L567.5 80L563.7 80Z" fill="#fff900"/><path d="M540 82.3L544 81.7L540.2 82.4L536.2 82.9Z" fill="#f1ff00"/><path d="M547.9 81.2L551.9 80.8L548 81.3L544 81.7Z" fill="#fffd00"/><path d="M555.8 80.5L559.8 80.2L555.8 80.5L551.9 80.8Z" fill="#fff100"/><path d="M563.8 80L567.6 79.9L563.7 80L559.8 80.2Z" fill="#ffe900"/><path d="M571.7 79.9L575.5 79.8L571.5 79.8L567.6 79.9Z" fill="#ffe600"/><path d="M536 83L540 82.3L536.2 82.9L532.1 83.6Z" fill="#f9ff00"/><path d="M543.9 81.8L547.9 81.2L544 81.7L540 82.3Z" fill="#fff300"/><path d="M551.9 80.9L555.8 80.5L551.9 80.8L547.9 81.2Z" fill="#ffe500"/><path d="M559.8 80.3L563.8 80L559.8 80.2L555.8 80.5Z" fill="#ffdc00"/><path d="M575.8 80L579.6 80L575.5 79.8L571.7 79.9Z" fill="#ffd600"/><path d="M567.8 80.1L571.7 79.9L567.6 79.9L563.8 80Z" fill="#ffd700"/><path d="M531.8 83.8L536 83L532.1 83.6L528 84.4Z" fill="#fffe00"/><path d="M539.8 82.5L543.9 81.8L540 82.3L536 83Z" fill="#ffea00"/><path d="M547.8 81.5L551.9 80.9L547.9 81.2L543.9 81.8Z" fill="#ffdb00"/><path d="M555.8 80.8L559.8 80.3L555.8 80.5L551.9 80.9Z" fill="#ffd000"/><path d="M579.9 80.4L583.7 80.3L579.6 80L575.8 80Z" fill="#ffc900"/><path d="M563.9 80.4L567.8 80.1L563.8 80L559.8 80.3Z" fill="#ffc900"/><path d="M571.9 80.2L575.8 80L571.7 79.9L567.8 80.1Z" fill="#ffc700"/><path d="M527.7 84.7L531.8 83.8L528 84.4L523.9 85.3Z" fill="#fffa00"/><path d="M535.7 83.3L539.8 82.5L536 83L531.8 83.8Z" fill="#ffe400"/><path d="M543.8 82.2L547.8 81.5L543.9 81.8L539.8 82.5Z" fill="#ffd300"/><path d="M551.8 81.3L555.8 80.8L551.9 80.9L547.8 81.5Z" fill="#ffc600"/><path d="M584.1 81L587.9 80.9L583.7 80.3L579.9 80.4Z" fill="#ffbe00"/><path d="M559.9 80.8L563.9 80.4L559.8 80.3L555.8 80.8Z" fill="#ffbd00"/><path d="M576 80.6L579.9 80.4L575.8 80L571.9 80.2Z" fill="#ffba00"/><path d="M567.9 80.6L571.9 80.2L567.8 80.1L563.9 80.4Z" fill="#ffb900"/><path d="M523.5 85.8L527.7 84.7L523.9 85.3L519.7 86.4Z" fill="#fff700"/><path d="M531.5 84.2L535.7 83.3L531.8 83.8L527.7 84.7Z" fill="#ffe000"/><path d="M539.6 83L543.8 82.2L539.8 82.5L535.7 83.3Z" fill="#ffcc00"/><path d="M547.7 82L551.8 81.3L547.8 81.5L543.8 82.2Z" fill="#ffbe00"/><path d="M588.3 81.7L592.1 81.6L587.9 80.9L584.1 81Z" fill="#ffb700"/><path d="M555.8 81.4L559.9 80.8L555.8 80.8L551.8 81.3Z" fill="#ffb300"/><path d="M580.2 81.2L584.1 81L579.9 80.4L576 80.6Z" fill="#ffaf00"/><path d="M564 81L567.9 80.6L563.9 80.4L559.9 80.8Z" fill="#ffad00"/><path d="M572.1 80.9L576 80.6L571.9 80.2L567.9 80.6Z" fill="#ffac00"/><path d="M519.2 87L523.5 85.8L519.7 86.4L515.4 87.6Z" fill="#fff600"/><path d="M527.3 85.3L531.5 84.2L527.7 84.7L523.5 85.8Z" fill="#ffdd00"/><path d="M535.5 83.9L539.6 83L535.7 83.3L531.5 84.2Z" fill="#ffc800"/><path d="M543.6 82.9L547.7 82L543.8 82.2L539.6 83Z" fill="#ffb700"/><path d="M592.6 82.6L596.4 82.5L592.1 81.6L588.3 81.7Z" fill="#ffb100"/><path d="M551.8 82.1L555.8 81.4L551.8 81.3L547.7 82Z" fill="#ffab00"/><path d="M584.4 81.9L588.3 81.7L584.1 81L580.2 81.2Z" fill="#ffa700"/><path d="M559.9 81.6L564 81L559.9 80.8L555.8 81.4Z" fill="#ffa400"/><path d="M576.3 81.5L580.2 81.2L576 80.6L572.1 80.9Z" fill="#ffa200"/><path d="M568.1 81.4L572.1 80.9L567.9 80.6L564 81Z" fill="#ffa000"/><path d="M514.9 88.3L519.2 87L515.4 87.6L511.1 88.9Z" fill="#fff800"/><path d="M523.1 86.5L527.3 85.3L523.5 85.8L519.2 87Z" fill="#ffdc00"/><path d="M531.2 85L535.5 83.9L531.5 84.2L527.3 85.3Z" fill="#ffc500"/><path d="M539.4 83.8L543.6 82.9L539.6 83L535.5 83.9Z" fill="#ffb300"/><path d="M596.9 83.7L600.7 83.6L596.4 82.5L592.6 82.6Z" fill="#ffaf00"/><path d="M547.6 82.9L551.8 82.1L547.7 82L543.6 82.9Z" fill="#ffa500"/><path d="M588.7 82.8L592.6 82.6L588.3 81.7L584.4 81.9Z" fill="#ffa200"/><path d="M555.9 82.3L559.9 81.6L555.8 81.4L551.8 82.1Z" fill="#ff9c00"/><path d="M580.5 82.2L584.4 81.9L580.2 81.2L576.3 81.5Z" fill="#ff9a00"/><path d="M564.1 82L568.1 81.4L564 81L559.9 81.6Z" fill="#ff9700"/><path d="M572.3 82L576.3 81.5L572.1 80.9L568.1 81.4Z" fill="#ff9600"/><path d="M510.5 89.8L514.9 88.3L511.1 88.9L506.7 90.4Z" fill="#fffb00"/><path d="M518.7 87.9L523.1 86.5L519.2 87L514.9 88.3Z" fill="#ffdd00"/><path d="M527 86.3L531.2 85L527.3 85.3L523.1 86.5Z" fill="#ffc500"/><path d="M601.3 85L605.1 84.9L600.7 83.6L596.9 83.7Z" fill="#ffaf00"/><path d="M535.2 84.9L539.4 83.8L535.5 83.9L531.2 85Z" fill="#ffb100"/><path d="M593 83.9L596.9 83.7L592.6 82.6L588.7 82.8Z" fill="#ffa000"/><path d="M543.5 83.9L547.6 82.9L543.6 82.9L539.4 83.8Z" fill="#ffa100"/><path d="M584.8 83.2L588.7 82.8L584.4 81.9L580.5 82.2Z" fill="#ff9500"/><path d="M551.7 83.1L555.9 82.3L551.8 82.1L547.6 82.9Z" fill="#ff9600"/><path d="M576.5 82.7L580.5 82.2L576.3 81.5L572.3 82Z" fill="#ff8e00"/><path d="M560 82.7L564.1 82L559.9 81.6L555.9 82.3Z" fill="#ff8f00"/><path d="M568.3 82.6L572.3 82L568.1 81.4L564.1 82Z" fill="#ff8c00"/><path d="M506.1 91.4L510.5 89.8L506.7 90.4L502.3 92Z" fill="#ffff00"/><path d="M514.4 89.4L518.7 87.9L514.9 88.3L510.5 89.8Z" fill="#ffe000"/><path d="M522.6 87.6L527 86.3L523.1 86.5L518.7 87.9Z" fill="#ffc600"/><path d="M605.7 86.5L609.5 86.4L605.1 84.9L601.3 85Z" fill="#ffb200"/><path d="M530.9 86.2L535.2 84.9L531.2 85L527 86.3Z" fill="#ffb000"/><path d="M597.4 85.3L601.3 85L596.9 83.7L593 83.9Z" fill="#ffa000"/><path d="M539.2 85L543.5 83.9L539.4 83.8L535.2 84.9Z" fill="#ff9e00"/><path d="M589.1 84.3L593 83.9L588.7 82.8L584.8 83.2Z" fill="#ff9200"/><path d="M547.5 84.1L551.7 83.1L547.6 82.9L543.5 83.9Z" fill="#ff9100"/><path d="M580.8 83.7L584.8 83.2L580.5 82.2L576.5 82.7Z" fill="#ff8900"/><path d="M555.9 83.6L560 82.7L555.9 82.3L551.7 83.1Z" fill="#ff8900"/><path d="M572.5 83.3L576.5 82.7L572.3 82L568.3 82.6Z" fill="#ff8500"/><path d="M564.2 83.3L568.3 82.6L564.1 82L560 82.7Z" fill="#ff8400"/><path d="M501.7 93.2L506.1 91.4L502.3 92L497.9 93.8Z" fill="#f8ff00"/><path d="M510 91L514.4 89.4L510.5 89.8L506.1 91.4Z" fill="#ffe500"/><path d="M518.3 89.1L522.6 87.6L518.7 87.9L514.4 89.4Z" fill="#ffc900"/><path d="M610.2 88.2L614 88L609.5 86.4L605.7 86.5Z" fill="#ffb700"/><path d="M526.6 87.5L530.9 86.2L527 86.3L522.6 87.6Z" fill="#ffb100"/><path d="M601.8 86.8L605.7 86.5L601.3 85L597.4 85.3Z" fill="#ffa300"/><path d="M534.9 86.2L539.2 85L535.2 84.9L530.9 86.2Z" fill="#ff9e00"/><path d="M593.5 85.6L597.4 85.3L593 83.9L589.1 84.3Z" fill="#ff9200"/><path d="M543.3 85.2L547.5 84.1L543.5 83.9L539.2 85Z" fill="#ff8f00"/><path d="M585.2 84.8L589.1 84.3L584.8 83.2L580.8 83.7Z" fill="#ff8700"/><path d="M551.7 84.6L555.9 83.6L551.7 83.1L547.5 84.1Z" fill="#ff8400"/><path d="M576.8 84.3L580.8 83.7L576.5 82.7L572.5 83.3Z" fill="#ff7f00"/><path d="M560 84.2L564.2 83.3L560 82.7L555.9 83.6Z" fill="#ff7e00"/><path d="M568.4 84.1L572.5 83.3L568.3 82.6L564.2 83.3Z" fill="#ff7d00"/><path d="M497.2 95.1L501.7 93.2L497.9 93.8L493.4 95.7Z" fill="#efff00"/><path d="M505.5 92.8L510 91L506.1 91.4L501.7 93.2Z" fill="#ffec00"/><path d="M513.8 90.8L518.3 89.1L514.4 89.4L510 91Z" fill="#ffce00"/><path d="M614.7 90.1L618.5 89.9L614 88L610.2 88.2Z" fill="#ffbf00"/><path d="M522.2 89.1L526.6 87.5L522.6 87.6L518.3 89.1Z" fill="#ffb400"/><path d="M606.3 88.5L610.2 88.2L605.7 86.5L601.8 86.8Z" fill="#ffa800"/><path d="M530.6 87.6L534.9 86.2L530.9 86.2L526.6 87.5Z" fill="#ff9f00"/><path d="M597.9 87.2L601.8 86.8L597.4 85.3L593.5 85.6Z" fill="#ff9500"/><path d="M539 86.5L543.3 85.2L539.2 85L534.9 86.2Z" fill="#ff8e00"/><path d="M589.5 86.2L593.5 85.6L589.1 84.3L585.2 84.8Z" fill="#ff8700"/><path d="M547.4 85.7L551.7 84.6L547.5 84.1L543.3 85.2Z" fill="#ff8200"/><path d="M581.1 85.5L585.2 84.8L580.8 83.7L576.8 84.3Z" fill="#ff7d00"/><path d="M555.9 85.2L560 84.2L555.9 83.6L551.7 84.6Z" fill="#ff7a00"/><path d="M572.7 85.1L576.8 84.3L572.5 83.3L568.4 84.1Z" fill="#ff7800"/><path d="M564.3 85L568.4 84.1L564.2 83.3L560 84.2Z" fill="#ff7700"/><path d="M492.6 97.2L497.2 95.1L493.4 95.7L488.9 97.8Z" fill="#e5ff00"/><path d="M501 94.8L505.5 92.8L501.7 93.2L497.2 95.1Z" fill="#fff500"/><path d="M509.4 92.6L513.8 90.8L510 91L505.5 92.8Z" fill="#ffd500"/><path d="M619.2 92.2L623 92L618.5 89.9L614.7 90.1Z" fill="#ffca00"/><path d="M517.8 90.7L522.2 89.1L518.3 89.1L513.8 90.8Z" fill="#ffb900"/><path d="M610.8 90.4L614.7 90.1L610.2 88.2L606.3 88.5Z" fill="#ffb000"/><path d="M526.2 89.2L530.6 87.6L526.6 87.5L522.2 89.1Z" fill="#ffa200"/><path d="M602.4 88.9L606.3 88.5L601.8 86.8L597.9 87.2Z" fill="#ff9b00"/><path d="M534.7 87.9L539 86.5L534.9 86.2L530.6 87.6Z" fill="#ff9000"/><path d="M594 87.7L597.9 87.2L593.5 85.6L589.5 86.2Z" fill="#ff8a00"/><path d="M543.2 87L547.4 85.7L543.3 85.2L539 86.5Z" fill="#ff8200"/><path d="M585.5 86.8L589.5 86.2L585.2 84.8L581.1 85.5Z" fill="#ff7d00"/><path d="M551.6 86.3L555.9 85.2L551.7 84.6L547.4 85.7Z" fill="#ff7800"/><path d="M577.1 86.2L581.1 85.5L576.8 84.3L572.7 85.1Z" fill="#ff7500"/><path d="M488 99.4L492.6 97.2L488.9 97.8L484.3 100Z" fill="#d9ff00"/><path d="M560.1 86L564.3 85L560 84.2L555.9 85.2Z" fill="#ff7300"/><path d="M568.6 86L572.7 85.1L568.4 84.1L564.3 85Z" fill="#ff7200"/><path d="M496.4 96.8L501 94.8L497.2 95.1L492.6 97.2Z" fill="#ffff00"/><path d="M623.8 94.5L627.6 94.3L623 92L619.2 92.2Z" fill="#ffd800"/><path d="M504.9 94.5L509.4 92.6L505.5 92.8L501 94.8Z" fill="#ffdd00"/><path d="M615.4 92.5L619.2 92.2L614.7 90.1L610.8 90.4Z" fill="#ffbb00"/><path d="M513.3 92.5L517.8 90.7L513.8 90.8L509.4 92.6Z" fill="#ffc000"/><path d="M606.9 90.8L610.8 90.4L606.3 88.5L602.4 88.9Z" fill="#ffa300"/><path d="M521.8 90.9L526.2 89.2L522.2 89.1L517.8 90.7Z" fill="#ffa700"/><path d="M598.5 89.4L602.4 88.9L597.9 87.2L594 87.7Z" fill="#ff9000"/><path d="M530.3 89.5L534.7 87.9L530.6 87.6L526.2 89.2Z" fill="#ff9300"/><path d="M483.4 101.8L488 99.4L484.3 100L479.7 102.3Z" fill="#cbff00"/><path d="M590 88.4L594 87.7L589.5 86.2L585.5 86.8Z" fill="#ff8000"/><path d="M538.8 88.4L543.2 87L539 86.5L534.7 87.9Z" fill="#ff8300"/><path d="M581.5 87.6L585.5 86.8L581.1 85.5L577.1 86.2Z" fill="#ff7600"/><path d="M547.3 87.6L551.6 86.3L547.4 85.7L543.2 87Z" fill="#ff7700"/><path d="M572.9 87.1L577.1 86.2L572.7 85.1L568.6 86Z" fill="#ff7000"/><path d="M555.9 87.1L560.1 86L555.9 85.2L551.6 86.3Z" fill="#ff7000"/><path d="M564.4 87L568.6 86L564.3 85L560.1 86Z" fill="#ff6e00"/><path d="M491.8 99.1L496.4 96.8L492.6 97.2L488 99.4Z" fill="#f3ff00"/><path d="M628.5 97L632.2 96.8L627.6 94.3L623.8 94.5Z" fill="#ffe800"/><path d="M500.3 96.6L504.9 94.5L501 94.8L496.4 96.8Z" fill="#ffe800"/><path d="M620 94.8L623.8 94.5L619.2 92.2L615.4 92.5Z" fill="#ffc900"/><path d="M508.8 94.5L513.3 92.5L509.4 92.6L504.9 94.5Z" fill="#ffc900"/><path d="M611.5 93L615.4 92.5L610.8 90.4L606.9 90.8Z" fill="#ffae00"/><path d="M517.3 92.7L521.8 90.9L517.8 90.7L513.3 92.5Z" fill="#ffae00"/><path d="M603 91.4L606.9 90.8L602.4 88.9L598.5 89.4Z" fill="#ff9800"/><path d="M525.9 91.2L530.3 89.5L526.2 89.2L521.8 90.9Z" fill="#ff9800"/><path d="M478.7 104.4L483.4 101.8L479.7 102.3L475 104.8Z" fill="#bbff00"/><path d="M594.5 90.1L598.5 89.4L594 87.7L590 88.4Z" fill="#ff8600"/><path d="M534.4 90L538.8 88.4L534.7 87.9L530.3 89.5Z" fill="#ff8600"/><path d="M585.9 89.2L590 88.4L585.5 86.8L581.5 87.6Z" fill="#ff7900"/><path d="M543 89.1L547.3 87.6L543.2 87L538.8 88.4Z" fill="#ff7900"/><path d="M577.3 88.5L581.5 87.6L577.1 86.2L572.9 87.1Z" fill="#ff7000"/><path d="M551.6 88.5L555.9 87.1L551.6 86.3L547.3 87.6Z" fill="#ff7000"/><path d="M568.7 88.2L572.9 87.1L568.6 86L564.4 87Z" fill="#ff6c00"/><path d="M560.2 88.2L564.4 87L560.1 86L555.9 87.1Z" fill="#ff6c00"/><path d="M487.2 101.5L491.8 99.1L488 99.4L483.4 101.8Z" fill="#e4ff00"/><path d="M633.2 99.8L636.9 99.5L632.2 96.8L628.5 97Z" fill="#fffb00"/><path d="M495.7 98.9L500.3 96.6L496.4 96.8L491.8 99.1Z" fill="#fff400"/><path d="M624.7 97.4L628.5 97L623.8 94.5L620 94.8Z" fill="#ffd900"/><path d="M504.2 96.6L508.8 94.5L504.9 94.5L500.3 96.6Z" fill="#ffd300"/><path d="M616.1 95.3L620 94.8L615.4 92.5L611.5 93Z" fill="#ffbc00"/><path d="M512.8 94.7L517.3 92.7L513.3 92.5L508.8 94.5Z" fill="#ffb700"/><path d="M607.6 93.6L611.5 93L606.9 90.8L603 91.4Z" fill="#ffa300"/><path d="M474 107L478.7 104.4L475 104.8L470.3 107.5Z" fill="#a9ff00"/><path d="M521.4 93L525.9 91.2L521.8 90.9L517.3 92.7Z" fill="#ff9f00"/><path d="M599 92.1L603 91.4L598.5 89.4L594.5 90.1Z" fill="#ff8f00"/><path d="M530 91.7L534.4 90L530.3 89.5L525.9 91.2Z" fill="#ff8b00"/><path d="M590.4 91L594.5 90.1L590 88.4L585.9 89.2Z" fill="#ff7f00"/><path d="M538.6 90.6L543 89.1L538.8 88.4L534.4 90Z" fill="#ff7c00"/><path d="M482.5 104L487.2 101.5L483.4 101.8L478.7 104.4Z" fill="#d4ff00"/><path d="M581.8 90.1L585.9 89.2L581.5 87.6L577.3 88.5Z" fill="#ff7300"/><path d="M547.2 89.9L551.6 88.5L547.3 87.6L543 89.1Z" fill="#ff7100"/><path d="M573.1 89.6L577.3 88.5L572.9 87.1L568.7 88.2Z" fill="#ff6c00"/><path d="M555.9 89.5L560.2 88.2L555.9 87.1L551.6 88.5Z" fill="#ff6b00"/><path d="M564.5 89.4L568.7 88.2L564.4 87L560.2 88.2Z" fill="#ff6900"/><path d="M637.9 102.7L641.6 102.4L636.9 99.5L633.2 99.8Z" fill="#eeff00"/><path d="M491 101.3L495.7 98.9L491.8 99.1L487.2 101.5Z" fill="#fbff00"/><path d="M629.4 100.1L633.2 99.8L628.5 97L624.7 97.4Z" fill="#ffec00"/><path d="M499.6 98.9L504.2 96.6L500.3 96.6L495.7 98.9Z" fill="#ffe000"/><path d="M620.8 97.9L624.7 97.4L620 94.8L616.1 95.3Z" fill="#ffcc00"/><path d="M508.2 96.8L512.8 94.7L508.8 94.5L504.2 96.6Z" fill="#ffc200"/><path d="M612.2 95.9L616.1 95.3L611.5 93L607.6 93.6Z" fill="#ffb100"/><path d="M516.8 95L521.4 93L517.3 92.7L512.8 94.7Z" fill="#ffa800"/><path d="M603.6 94.3L607.6 93.6L603 91.4L599 92.1Z" fill="#ff9a00"/><path d="M525.5 93.5L530 91.7L525.9 91.2L521.4 93Z" fill="#ff9200"/><path d="M477.7 106.7L482.5 104L478.7 104.4L474 107Z" fill="#c2ff00"/><path d="M594.9 93L599 92.1L594.5 90.1L590.4 91Z" fill="#ff8700"/><path d="M534.2 92.4L538.6 90.6L534.4 90L530 91.7Z" fill="#ff8100"/><path d="M586.3 91.9L590.4 91L585.9 89.2L581.8 90.1Z" fill="#ff7900"/><path d="M542.8 91.5L547.2 89.9L543 89.1L538.6 90.6Z" fill="#ff7500"/><path d="M577.6 91.2L581.8 90.1L577.3 88.5L573.1 89.6Z" fill="#ff6f00"/><path d="M551.5 91L555.9 89.5L551.6 88.5L547.2 89.9Z" fill="#ff6d00"/><path d="M568.9 90.8L573.1 89.6L568.7 88.2L564.5 89.4Z" fill="#ff6a00"/><path d="M560.2 90.7L564.5 89.4L560.2 88.2L555.9 89.5Z" fill="#ff6900"/><path d="M486.3 103.9L491 101.3L487.2 101.5L482.5 104Z" fill="#ebff00"/><path d="M634.1 103.1L637.9 102.7L633.2 99.8L629.4 100.1Z" fill="#fdff00"/><path d="M494.9 101.4L499.6 98.9L495.7 98.9L491 101.3Z" fill="#ffee00"/><path d="M625.5 100.7L629.4 100.1L624.7 97.4L620.8 97.9Z" fill="#ffdf00"/><path d="M503.6 99.1L508.2 96.8L504.2 96.6L499.6 98.9Z" fill="#ffce00"/><path d="M616.9 98.5L620.8 97.9L616.1 95.3L612.2 95.9Z" fill="#ffc100"/><path d="M512.2 97.2L516.8 95L512.8 94.7L508.2 96.8Z" fill="#ffb200"/><path d="M608.2 96.7L612.2 95.9L607.6 93.6L603.6 94.3Z" fill="#ffa700"/><path d="M520.9 95.6L525.5 93.5L521.4 93L516.8 95Z" fill="#ff9b00"/><path d="M599.5 95.2L603.6 94.3L599 92.1L594.9 93Z" fill="#ff9200"/><path d="M529.7 94.3L534.2 92.4L530 91.7L525.5 93.5Z" fill="#ff8800"/><path d="M590.8 93.9L594.9 93L590.4 91L586.3 91.9Z" fill="#ff8100"/><path d="M538.4 93.3L542.8 91.5L538.6 90.6L534.2 92.4Z" fill="#ff7a00"/><path d="M582.1 93L586.3 91.9L581.8 90.1L577.6 91.2Z" fill="#ff7500"/><path d="M481.5 106.6L486.3 103.9L482.5 104L477.7 106.7Z" fill="#d9ff00"/><path d="M547.1 92.6L551.5 91L547.2 89.9L542.8 91.5Z" fill="#ff7000"/><path d="M573.4 92.5L577.6 91.2L573.1 89.6L568.9 90.8Z" fill="#ff6d00"/><path d="M555.9 92.2L560.2 90.7L555.9 89.5L551.5 91Z" fill="#ff6b00"/><path d="M564.6 92.2L568.9 90.8L564.5 89.4L560.2 90.7Z" fill="#ff6a00"/><path d="M490.2 104L494.9 101.4L491 101.3L486.3 103.9Z" fill="#fffe00"/><path d="M630.3 103.7L634.1 103.1L629.4 100.1L625.5 100.7Z" fill="#fff500"/><path d="M498.9 101.6L503.6 99.1L499.6 98.9L494.9 101.4Z" fill="#ffdc00"/><path d="M621.6 101.3L625.5 100.7L620.8 97.9L616.9 98.5Z" fill="#ffd400"/><path d="M507.6 99.5L512.2 97.2L508.2 96.8L503.6 99.1Z" fill="#ffbf00"/><path d="M612.9 99.3L616.9 98.5L612.2 95.9L608.2 96.7Z" fill="#ffb800"/><path d="M516.3 97.8L520.9 95.6L516.8 95L512.2 97.2Z" fill="#ffa600"/><path d="M604.2 97.6L608.2 96.7L603.6 94.3L599.5 95.2Z" fill="#ffa000"/><path d="M525.1 96.3L529.7 94.3L525.5 93.5L520.9 95.6Z" fill="#ff9100"/><path d="M595.4 96.2L599.5 95.2L594.9 93L590.8 93.9Z" fill="#ff8c00"/><path d="M533.9 95.2L538.4 93.3L534.2 92.4L529.7 94.3Z" fill="#ff8100"/><path d="M586.7 95.1L590.8 93.9L586.3 91.9L582.1 93Z" fill="#ff7d00"/><path d="M542.7 94.4L547.1 92.6L542.8 91.5L538.4 93.3Z" fill="#ff7500"/><path d="M577.9 94.3L582.1 93L577.6 91.2L573.4 92.5Z" fill="#ff7300"/><path d="M551.5 93.9L555.9 92.2L551.5 91L547.1 92.6Z" fill="#ff6e00"/><path d="M569.1 93.9L573.4 92.5L568.9 90.8L564.6 92.2Z" fill="#ff6d00"/><path d="M560.3 93.7L564.6 92.2L560.2 90.7L555.9 92.2Z" fill="#ff6b00"/><path d="M485.4 106.7L490.2 104L486.3 103.9L481.5 106.6Z" fill="#eeff00"/><path d="M626.4 104.4L630.3 103.7L625.5 100.7L621.6 101.3Z" fill="#ffea00"/><path d="M494.1 104.2L498.9 101.6L494.9 101.4L490.2 104Z" fill="#ffed00"/><path d="M617.6 102.1L621.6 101.3L616.9 98.5L612.9 99.3Z" fill="#ffcb00"/><path d="M502.9 102L507.6 99.5L503.6 99.1L498.9 101.6Z" fill="#ffcd00"/><path d="M608.9 100.2L612.9 99.3L608.2 96.7L604.2 97.6Z" fill="#ffb000"/><path d="M511.7 100.1L516.3 97.8L512.2 97.2L507.6 99.5Z" fill="#ffb200"/><path d="M600.1 98.6L604.2 97.6L599.5 95.2L595.4 96.2Z" fill="#ff9a00"/><path d="M520.5 98.5L525.1 96.3L520.9 95.6L516.3 97.8Z" fill="#ff9c00"/><path d="M591.3 97.3L595.4 96.2L590.8 93.9L586.7 95.1Z" fill="#ff8900"/><path d="M529.3 97.3L533.9 95.2L529.7 94.3L525.1 96.3Z" fill="#ff8a00"/><path d="M582.4 96.4L586.7 95.1L582.1 93L577.9 94.3Z" fill="#ff7b00"/><path d="M538.2 96.3L542.7 94.4L538.4 93.3L533.9 95.2Z" fill="#ff7c00"/><path d="M573.6 95.7L577.9 94.3L573.4 92.5L569.1 93.9Z" fill="#ff7300"/><path d="M547 95.7L551.5 93.9L547.1 92.6L542.7 94.4Z" fill="#ff7300"/><path d="M564.7 95.4L569.1 93.9L564.6 92.2L560.3 93.7Z" fill="#ff6f00"/><path d="M555.9 95.4L560.3 93.7L555.9 92.2L551.5 93.9Z" fill="#ff6f00"/><path d="M489.4 107L494.1 104.2L490.2 104L485.4 106.7Z" fill="#ffff00"/><path d="M622.4 105.2L626.4 104.4L621.6 101.3L617.6 102.1Z" fill="#ffe000"/><path d="M498.2 104.6L502.9 102L498.9 101.6L494.1 104.2Z" fill="#ffdd00"/><path d="M613.6 103.1L617.6 102.1L612.9 99.3L608.9 100.2Z" fill="#ffc300"/><path d="M507 102.6L511.7 100.1L507.6 99.5L502.9 102Z" fill="#ffc100"/><path d="M604.8 101.3L608.9 100.2L604.2 97.6L600.1 98.6Z" fill="#ffab00"/><path d="M515.8 100.9L520.5 98.5L516.3 97.8L511.7 100.1Z" fill="#ffa900"/><path d="M595.9 99.8L600.1 98.6L595.4 96.2L591.3 97.3Z" fill="#ff9600"/><path d="M524.7 99.5L529.3 97.3L525.1 96.3L520.5 98.5Z" fill="#ff9500"/><path d="M587 98.7L591.3 97.3L586.7 95.1L582.4 96.4Z" fill="#ff8700"/><path d="M533.6 98.4L538.2 96.3L533.9 95.2L529.3 97.3Z" fill="#ff8500"/><path d="M578.1 97.8L582.4 96.4L577.9 94.3L573.6 95.7Z" fill="#ff7b00"/><path d="M542.5 97.6L547 95.7L542.7 94.4L538.2 96.3Z" fill="#ff7b00"/><path d="M569.2 97.3L573.6 95.7L569.1 93.9L564.7 95.4Z" fill="#ff7500"/><path d="M551.4 97.2L555.9 95.4L551.5 93.9L547 95.7Z" fill="#ff7400"/><path d="M560.3 97.1L564.7 95.4L560.3 93.7L555.9 95.4Z" fill="#ff7200"/><path d="M493.4 107.4L498.2 104.6L494.1 104.2L489.4 107Z" fill="#fff000"/><path d="M618.4 106.2L622.4 105.2L617.6 102.1L613.6 103.1Z" fill="#ffd900"/><path d="M502.2 105.3L507 102.6L502.9 102L498.2 104.6Z" fill="#ffd100"/><path d="M609.5 104.2L613.6 103.1L608.9 100.2L604.8 101.3Z" fill="#ffbe00"/><path d="M511.1 103.4L515.8 100.9L511.7 100.1L507 102.6Z" fill="#ffb700"/><path d="M600.6 102.5L604.8 101.3L600.1 98.6L595.9 99.8Z" fill="#ffa700"/><path d="M520.1 101.9L524.7 99.5L520.5 98.5L515.8 100.9Z" fill="#ffa100"/><path d="M591.7 101.2L595.9 99.8L591.3 97.3L587 98.7Z" fill="#ff9500"/><path d="M529 100.7L533.6 98.4L529.3 97.3L524.7 99.5Z" fill="#ff9000"/><path d="M582.8 100.1L587 98.7L582.4 96.4L578.1 97.8Z" fill="#ff8700"/><path d="M538 99.8L542.5 97.6L538.2 96.3L533.6 98.4Z" fill="#ff8400"/><path d="M573.8 99.4L578.1 97.8L573.6 95.7L569.2 97.3Z" fill="#ff7d00"/><path d="M546.9 99.2L551.4 97.2L547 95.7L542.5 97.6Z" fill="#ff7b00"/><path d="M564.8 99L569.2 97.3L564.7 95.4L560.3 97.1Z" fill="#ff7800"/><path d="M555.9 98.9L560.3 97.1L555.9 95.4L551.4 97.2Z" fill="#ff7800"/><path d="M497.4 108.1L502.2 105.3L498.2 104.6L493.4 107.4Z" fill="#ffe300"/><path d="M614.3 107.3L618.4 106.2L613.6 103.1L609.5 104.2Z" fill="#ffd400"/><path d="M506.4 106.1L511.1 103.4L507 102.6L502.2 105.3Z" fill="#ffc700"/><path d="M605.4 105.4L609.5 104.2L604.8 101.3L600.6 102.5Z" fill="#ffba00"/><path d="M515.3 104.4L520.1 101.9L515.8 100.9L511.1 103.4Z" fill="#ffb000"/><path d="M596.4 103.9L600.6 102.5L595.9 99.8L591.7 101.2Z" fill="#ffa500"/><path d="M524.3 103.1L529 100.7L524.7 99.5L520.1 101.9Z" fill="#ff9d00"/><path d="M587.4 102.6L591.7 101.2L587 98.7L582.8 100.1Z" fill="#ff9500"/><path d="M533.3 102L538 99.8L533.6 98.4L529 100.7Z" fill="#ff8f00"/><path d="M578.4 101.7L582.8 100.1L578.1 97.8L573.8 99.4Z" fill="#ff8900"/><path d="M542.3 101.3L546.9 99.2L542.5 97.6L538 99.8Z" fill="#ff8400"/><path d="M569.4 101.2L573.8 99.4L569.2 97.3L564.8 99Z" fill="#ff8100"/><path d="M551.4 101L555.9 98.9L551.4 97.2L546.9 99.2Z" fill="#ff7f00"/><path d="M560.4 100.9L564.8 99L560.3 97.1L555.9 98.9Z" fill="#ff7e00"/><path d="M501.6 109L506.4 106.1L502.2 105.3L497.4 108.1Z" fill="#ffda00"/><path d="M610.2 108.6L614.3 107.3L609.5 104.2L605.4 105.4Z" fill="#ffd000"/><path d="M510.6 107.2L515.3 104.4L511.1 103.4L506.4 106.1Z" fill="#ffc000"/><path d="M601.2 106.8L605.4 105.4L600.6 102.5L596.4 103.9Z" fill="#ffb800"/><path d="M519.6 105.7L524.3 103.1L520.1 101.9L515.3 104.4Z" fill="#ffac00"/><path d="M592.1 105.4L596.4 103.9L591.7 101.2L587.4 102.6Z" fill="#ffa500"/><path d="M528.7 104.5L533.3 102L529 100.7L524.3 103.1Z" fill="#ff9b00"/><path d="M583.1 104.3L587.4 102.6L582.8 100.1L578.4 101.7Z" fill="#ff9600"/><path d="M537.7 103.6L542.3 101.3L538 99.8L533.3 102Z" fill="#ff8f00"/><path d="M574 103.5L578.4 101.7L573.8 99.4L569.4 101.2Z" fill="#ff8c00"/><path d="M546.8 103.1L551.4 101L546.9 99.2L542.3 101.3Z" fill="#ff8800"/><path d="M565 103.1L569.4 101.2L564.8 99L560.4 100.9Z" fill="#ff8600"/><path d="M555.9 102.9L560.4 100.9L555.9 98.9L551.4 101Z" fill="#ff8500"/><path d="M606 110L610.2 108.6L605.4 105.4L601.2 106.8Z" fill="#ffce00"/><path d="M505.8 110.1L510.6 107.2L506.4 106.1L501.6 109Z" fill="#ffd300"/><path d="M596.9 108.4L601.2 106.8L596.4 103.9L592.1 105.4Z" fill="#ffb900"/><path d="M514.8 108.4L519.6 105.7L515.3 104.4L510.6 107.2Z" fill="#ffbc00"/><path d="M587.8 107.1L592.1 105.4L587.4 102.6L583.1 104.3Z" fill="#ffa700"/><path d="M523.9 107.1L528.7 104.5L524.3 103.1L519.6 105.7Z" fill="#ffaa00"/><path d="M578.7 106.1L583.1 104.3L578.4 101.7L574 103.5Z" fill="#ff9a00"/><path d="M533.1 106.1L537.7 103.6L533.3 102L528.7 104.5Z" fill="#ff9c00"/><path d="M569.6 105.5L574 103.5L569.4 101.2L565 103.1Z" fill="#ff9200"/><path d="M542.2 105.5L546.8 103.1L542.3 101.3L537.7 103.6Z" fill="#ff9300"/><path d="M560.5 105.1L565 103.1L560.4 100.9L555.9 102.9Z" fill="#ff8e00"/><path d="M551.3 105.1L555.9 102.9L551.4 101L546.8 103.1Z" fill="#ff8e00"/><path d="M601.7 111.6L606 110L601.2 106.8L596.9 108.4Z" fill="#ffcf00"/><path d="M510 111.3L514.8 108.4L510.6 107.2L505.8 110.1Z" fill="#ffce00"/><path d="M592.6 110.1L596.9 108.4L592.1 105.4L587.8 107.1Z" fill="#ffbb00"/><path d="M519.2 109.9L523.9 107.1L519.6 105.7L514.8 108.4Z" fill="#ffba00"/><path d="M583.4 108.9L587.8 107.1L583.1 104.3L578.7 106.1Z" fill="#ffab00"/><path d="M528.3 108.8L533.1 106.1L528.7 104.5L523.9 107.1Z" fill="#ffab00"/><path d="M574.3 108.1L578.7 106.1L574 103.5L569.6 105.5Z" fill="#ffa000"/><path d="M537.5 108L542.2 105.5L537.7 103.6L533.1 106.1Z" fill="#ffa000"/><path d="M565.1 107.6L569.6 105.5L565 103.1L560.5 105.1Z" fill="#ff9900"/><path d="M546.7 107.5L551.3 105.1L546.8 103.1L542.2 105.5Z" fill="#ff9900"/><path d="M555.9 107.4L560.5 105.1L555.9 102.9L551.3 105.1Z" fill="#ff9700"/><path d="M597.4 113.4L601.7 111.6L596.9 108.4L592.6 110.1Z" fill="#ffd100"/><path d="M514.3 112.8L519.2 109.9L514.8 108.4L510 111.3Z" fill="#ffcd00"/><path d="M588.2 112L592.6 110.1L587.8 107.1L583.4 108.9Z" fill="#ffbe00"/><path d="M523.5 111.6L528.3 108.8L523.9 107.1L519.2 109.9Z" fill="#ffbb00"/><path d="M579 110.9L583.4 108.9L578.7 106.1L574.3 108.1Z" fill="#ffb100"/><path d="M532.8 110.6L537.5 108L533.1 106.1L528.3 108.8Z" fill="#ffaf00"/><path d="M569.8 110.2L574.3 108.1L569.6 105.5L565.1 107.6Z" fill="#ffa700"/><path d="M542 110L546.7 107.5L542.2 105.5L537.5 108Z" fill="#ffa600"/><path d="M560.5 109.8L565.1 107.6L560.5 105.1L555.9 107.4Z" fill="#ffa200"/><path d="M551.3 109.8L555.9 107.4L551.3 105.1L546.7 107.5Z" fill="#ffa200"/><path d="M593.1 115.3L597.4 113.4L592.6 110.1L588.2 112Z" fill="#ffd400"/><path d="M518.7 114.6L523.5 111.6L519.2 109.9L514.3 112.8Z" fill="#ffce00"/><path d="M583.8 114L588.2 112L583.4 108.9L579 110.9Z" fill="#ffc400"/><path d="M528 113.5L532.8 110.6L528.3 108.8L523.5 111.6Z" fill="#ffbf00"/><path d="M574.5 113.1L579 110.9L574.3 108.1L569.8 110.2Z" fill="#ffb800"/><path d="M537.3 112.8L542 110L537.5 108L532.8 110.6Z" fill="#ffb500"/><path d="M565.2 112.5L569.8 110.2L565.1 107.6L560.5 109.8Z" fill="#ffb100"/><path d="M546.6 112.3L551.3 109.8L546.7 107.5L542 110Z" fill="#ffaf00"/><path d="M555.9 112.3L560.5 109.8L555.9 107.4L551.3 109.8Z" fill="#ffae00"/><path d="M588.6 117.3L593.1 115.3L588.2 112L583.8 114Z" fill="#ffda00"/><path d="M523.1 116.5L528 113.5L523.5 111.6L518.7 114.6Z" fill="#ffd200"/><path d="M579.3 116.2L583.8 114L579 110.9L574.5 113.1Z" fill="#ffcc00"/><path d="M532.5 115.6L537.3 112.8L532.8 110.6L528 113.5Z" fill="#ffc600"/><path d="M569.9 115.4L574.5 113.1L569.8 110.2L565.2 112.5Z" fill="#ffc200"/><path d="M541.8 115.1L546.6 112.3L542 110L537.3 112.8Z" fill="#ffbe00"/><path d="M560.6 115L565.2 112.5L560.5 109.8L555.9 112.3Z" fill="#ffbc00"/><path d="M551.2 114.9L555.9 112.3L551.3 109.8L546.6 112.3Z" fill="#ffbb00"/><path d="M584.1 119.6L588.6 117.3L583.8 114L579.3 116.2Z" fill="#ffe200"/><path d="M527.6 118.7L532.5 115.6L528 113.5L523.1 116.5Z" fill="#ffd800"/><path d="M574.7 118.6L579.3 116.2L574.5 113.1L569.9 115.4Z" fill="#ffd500"/><path d="M537 118L541.8 115.1L537.3 112.8L532.5 115.6Z" fill="#ffcf00"/><path d="M565.3 117.9L569.9 115.4L565.2 112.5L560.6 115Z" fill="#ffcd00"/><path d="M546.5 117.6L551.2 114.9L546.6 112.3L541.8 115.1Z" fill="#ffca00"/><path d="M555.9 117.6L560.6 115L555.9 112.3L551.2 114.9Z" fill="#ffc900"/><path d="M579.6 122L584.1 119.6L579.3 116.2L574.7 118.6Z" fill="#ffeb00"/><path d="M570.1 121.1L574.7 118.6L569.9 115.4L565.3 117.9Z" fill="#ffe000"/><path d="M532.2 121.1L537 118L532.5 115.6L527.6 118.7Z" fill="#ffe100"/><path d="M560.6 120.6L565.3 117.9L560.6 115L555.9 117.6Z" fill="#ffda00"/><path d="M541.7 120.6L546.5 117.6L541.8 115.1L537 118Z" fill="#ffda00"/><path d="M551.2 120.4L555.9 117.6L551.2 114.9L546.5 117.6Z" fill="#ffd800"/><path d="M575 124.6L579.6 122L574.7 118.6L570.1 121.1Z" fill="#fff700"/><path d="M565.4 123.9L570.1 121.1L565.3 117.9L560.6 120.6Z" fill="#ffee00"/><path d="M536.8 123.7L541.7 120.6L537 118L532.2 121.1Z" fill="#ffed00"/><path d="M555.9 123.5L560.6 120.6L555.9 117.6L551.2 120.4Z" fill="#ffe900"/><path d="M546.4 123.4L551.2 120.4L546.5 117.6L541.7 120.6Z" fill="#ffe900"/><path d="M570.3 127.4L575 124.6L570.1 121.1L565.4 123.9Z" fill="#faff00"/><path d="M560.7 126.8L565.4 123.9L560.6 120.6L555.9 123.5Z" fill="#fffd00"/><path d="M541.5 126.6L546.4 123.4L541.7 120.6L536.8 123.7Z" fill="#fffb00"/><path d="M551.1 126.5L555.9 123.5L551.2 120.4L546.4 123.4Z" fill="#fffa00"/><path d="M565.6 130.3L570.3 127.4L565.4 123.9L560.7 126.8Z" fill="#ebff00"/><path d="M555.9 129.8L560.7 126.8L555.9 123.5L551.1 126.5Z" fill="#f1ff00"/><path d="M546.2 129.7L551.1 126.5L546.4 123.4L541.5 126.6Z" fill="#f2ff00"/><path d="M560.8 133.4L565.6 130.3L560.7 126.8L555.9 129.8Z" fill="#daff00"/><path d="M551 133.1L555.9 129.8L551.1 126.5L546.2 129.7Z" fill="#deff00"/><path d="M555.9 136.7L560.8 133.4L555.9 129.8L551 133.1Z" fill="#c7ff00"/></g>
<path d="M556.4 80.5V88.4" stroke="#300" stroke-opacity="0.3" stroke-width="0.5"/>
<circle cx="556.4" cy="80.5" r="1.7" fill="#c80000" stroke="#600" stroke-width="0.35"/>
<circle cx="556.4" cy="88.4" r="1.7" fill="#c80000" stroke="#600" stroke-width="0.35"/>
<text x="470" y="148.3" font-size="4.9" text-anchor="end" fill="#1a1a1a" stroke="#1a1a1a" stroke-width="0.11" textLength="5.77" lengthAdjust="spacingAndGlyphs">6.5</text>
<text x="469" y="126.6" font-size="4.9" text-anchor="end" fill="#1a1a1a" stroke="#1a1a1a" stroke-width="0.11" textLength="2.31" lengthAdjust="spacingAndGlyphs">7</text>
<text x="468.1" y="104.9" font-size="4.9" text-anchor="end" fill="#1a1a1a" stroke="#1a1a1a" stroke-width="0.11" textLength="5.77" lengthAdjust="spacingAndGlyphs">7.5</text>
<text x="467.1" y="83.3" font-size="4.9" text-anchor="end" fill="#1a1a1a" stroke="#1a1a1a" stroke-width="0.11" textLength="2.31" lengthAdjust="spacingAndGlyphs">8</text>
<text x="466.2" y="61.6" font-size="4.9" text-anchor="end" fill="#1a1a1a" stroke="#1a1a1a" stroke-width="0.11" textLength="5.77" lengthAdjust="spacingAndGlyphs">8.5</text>
<text x="471.1" y="181.2" font-size="4.9" text-anchor="end" fill="#1a1a1a" stroke="#1a1a1a" stroke-width="0.11" textLength="2.31" lengthAdjust="spacingAndGlyphs">6</text>
<text x="491.7" y="191.2" font-size="4.9" text-anchor="end" fill="#1a1a1a" stroke="#1a1a1a" stroke-width="0.11" textLength="5.77" lengthAdjust="spacingAndGlyphs">5.5</text>
<text x="512.4" y="201.1" font-size="4.9" text-anchor="end" fill="#1a1a1a" stroke="#1a1a1a" stroke-width="0.11" textLength="2.31" lengthAdjust="spacingAndGlyphs">5</text>
<text x="533" y="211" font-size="4.9" text-anchor="end" fill="#1a1a1a" stroke="#1a1a1a" stroke-width="0.11" textLength="5.77" lengthAdjust="spacingAndGlyphs">4.5</text>
<text x="553.6" y="220.9" font-size="4.9" text-anchor="end" fill="#1a1a1a" stroke="#1a1a1a" stroke-width="0.11" textLength="2.31" lengthAdjust="spacingAndGlyphs">4</text>
<text x="558.2" y="220.9" font-size="4.9" fill="#1a1a1a" stroke="#1a1a1a" stroke-width="0.11" textLength="2.31" lengthAdjust="spacingAndGlyphs">5</text>
<text x="578.9" y="211" font-size="4.9" fill="#1a1a1a" stroke="#1a1a1a" stroke-width="0.11" textLength="5.77" lengthAdjust="spacingAndGlyphs">5.5</text>
<text x="599.5" y="201" font-size="4.9" fill="#1a1a1a" stroke="#1a1a1a" stroke-width="0.11" textLength="2.31" lengthAdjust="spacingAndGlyphs">6</text>
<text x="620.1" y="191.1" font-size="4.9" fill="#1a1a1a" stroke="#1a1a1a" stroke-width="0.11" textLength="5.77" lengthAdjust="spacingAndGlyphs">6.5</text>
<text x="640.7" y="181.2" font-size="4.9" fill="#1a1a1a" stroke="#1a1a1a" stroke-width="0.11" textLength="2.31" lengthAdjust="spacingAndGlyphs">7</text>
<path d="M471.4 148.6h1.3v1.3h-1.3zM470.5 126.9h1.3v1.3h-1.3zM469.5 105.2h1.3v1.3h-1.3zM468.6 83.5h1.3v1.3h-1.3zM467.6 61.8h1.3v1.3h-1.3zM472.6 175.7h1.3v1.3h-1.3zM493.3 185.6h1.3v1.3h-1.3zM513.9 195.5h1.3v1.3h-1.3zM534.6 205.4h1.3v1.3h-1.3zM555.2 215.4h1.3v1.3h-1.3zM555.2 215.4h1.3v1.3h-1.3zM575.8 205.4h1.3v1.3h-1.3zM596.4 195.5h1.3v1.3h-1.3zM617 185.5h1.3v1.3h-1.3zM637.6 175.6h1.3v1.3h-1.3z" fill="#111"/>
<text x="452.9" y="212.6" font-size="5.3" fill="#1a1a1a" stroke="#1a1a1a" stroke-width="0.12" textLength="60.30" lengthAdjust="spacingAndGlyphs">B: Mahua flower extract (%)</text>
<text x="610.9" y="212.5" font-size="5.3" fill="#1a1a1a" stroke="#1a1a1a" stroke-width="0.12" textLength="35.20" lengthAdjust="spacingAndGlyphs">A: BTM flour (%)</text>
<text transform="translate(442.5 121.2) rotate(-90)" font-size="5.1" text-anchor="middle" fill="#1a1a1a" textLength="33.9" lengthAdjust="spacingAndGlyphs">Body &amp; Texture</text>
<text x="555.4" y="250.8" font-family='"Liberation Serif", serif' font-size="17.8" font-weight="bold" textLength="10.5" lengthAdjust="spacingAndGlyphs">B</text>
<rect x="15" y="285.3" width="74.9" height="120" fill="#fff" stroke="#c8c8c8" stroke-width="0.8"/>
<text x="15.5" y="373.8" font-size="6.2" fill="#111" stroke="#111" stroke-width="0.14" textLength="71.40" lengthAdjust="spacingAndGlyphs">X2 = B: Mahua flower extract</text>
<text x="15.5" y="392.1" font-size="6.2" font-weight="bold" fill="#111" stroke="#111" stroke-width="0.19" textLength="34.50" lengthAdjust="spacingAndGlyphs">Actual Factor</text>
<text x="15.5" y="401" font-size="6.2" fill="#111" stroke="#111" stroke-width="0.14" textLength="50.30" lengthAdjust="spacingAndGlyphs">C: temprature = 175</text>
<rect x="15.4" y="285.8" width="52.7" height="85.5" fill="#fff"/>
<path d="M68.1 285.4V371.2" stroke="#c0c0c0" stroke-width="0.8"/>
<text x="15.5" y="290.5" font-size="4.6" fill="#1a1a1a" stroke="#1a1a1a" stroke-width="0.10" textLength="38.10" lengthAdjust="spacingAndGlyphs">Factor Coding: Actual</text>
<text x="15.5" y="303.4" font-size="4.6" font-weight="bold" fill="#000" stroke="#000" stroke-width="0.14" textLength="39.07" lengthAdjust="spacingAndGlyphs">Color &amp; Appearance</text>
<text x="15.5" y="309.7" font-size="4.6" fill="#1a1a1a" stroke="#1a1a1a" stroke-width="0.10" textLength="25.79" lengthAdjust="spacingAndGlyphs">Design Points:</text>
<circle cx="19.5" cy="315" r="1.9" fill="#b00000" stroke="#500" stroke-width="0.3"/>
<text x="23.8" y="316.6" font-size="4.6" fill="#c8102e" stroke="#c8102e" stroke-width="0.10" textLength="26.24" lengthAdjust="spacingAndGlyphs">Above Surface</text>
<circle cx="19.5" cy="320.9" r="1.85" fill="#f7c0c0" stroke="#500" stroke-width="0.4"/>
<text x="23.8" y="322.5" font-size="4.6" fill="#c8102e" stroke="#c8102e" stroke-width="0.10" textLength="25.79" lengthAdjust="spacingAndGlyphs">Below Surface</text>
<text x="15.3" y="329.3" font-size="4.6" fill="#1a1a1a" stroke="#1a1a1a" stroke-width="0.10" textLength="5.56" lengthAdjust="spacingAndGlyphs">6.5</text>
<defs><linearGradient id="gC"><stop offset="0" stop-color="#0000ff"/><stop offset="0.5" stop-color="#00ff00"/><stop offset="1" stop-color="#ff0000"/></linearGradient></defs>
<rect x="21.8" y="325.1" width="14.3" height="5.6" fill="url(#gC)" stroke="#111" stroke-width="0.45"/>
<text x="37.8" y="329.3" font-size="4.6" fill="#1a1a1a" stroke="#1a1a1a" stroke-width="0.10" textLength="2.22" lengthAdjust="spacingAndGlyphs">8</text>
<text x="15.5" y="342.1" font-size="4.6" fill="#1a1a1a" stroke="#1a1a1a" stroke-width="0.10" textLength="31.46" lengthAdjust="spacingAndGlyphs">X1 = A: BTM flour</text>
<text x="15.5" y="348.8" font-size="4.6" fill="#1a1a1a" stroke="#1a1a1a" stroke-width="0.10" textLength="51.60" lengthAdjust="spacingAndGlyphs">X2 = B: Mahua flower extract</text>
<text x="15.5" y="361.2" font-size="4.6" font-weight="bold" fill="#000" stroke="#000" stroke-width="0.14" textLength="25.56" lengthAdjust="spacingAndGlyphs">Actual Factor</text>
<text x="15.5" y="368.1" font-size="4.6" fill="#1a1a1a" stroke="#1a1a1a" stroke-width="0.10" textLength="35.68" lengthAdjust="spacingAndGlyphs">C: temprature = 175</text>
<g transform="translate(63 365) scale(5.4)"><path d="M0.08 0 V0.93 H1 M0.08 0.05 H0.3 M0.93 0.93 V0.72" fill="none" stroke="#000" stroke-width="0.230"/><path d="M0.97 0.04 L0.56 0.45" fill="none" stroke="#000" stroke-width="0.210"/><path d="M0.35 0.25 L0.35 0.64 L0.74 0.64 Z" fill="#000"/></g>
<g transform="translate(81.3 396.6) scale(8.6)"><path d="M0.08 0 V0.93 H1 M0.08 0.05 H0.3 M0.93 0.93 V0.72" fill="none" stroke="#000" stroke-width="0.197"/><path d="M0.97 0.04 L0.56 0.45" fill="none" stroke="#000" stroke-width="0.184"/><path d="M0.35 0.25 L0.35 0.64 L0.74 0.64 Z" fill="#000"/></g>
<text x="209" y="296.7" font-size="8.9" fill="#1a1a1a" textLength="38.50" lengthAdjust="spacingAndGlyphs">3D Surface</text>
<path d="M213.8 430L213.9 327.2" stroke="#c4c4c4" stroke-width="1.3" fill="none"/>
<path d="M151 427.1L148.2 342.4M276.6 427L279.6 342.4M171.9 419.9L170.1 337.4M255.7 419.9L257.7 337.3M192.9 412.7L192 332.3M234.7 412.7L235.8 332.3" stroke="#5a5a5a" stroke-width="0.6" fill="none"/>
<path d="M296.3 461.3L301.5 347.4" stroke="#6e6e6e" stroke-width="0.6" fill="none"/>
<path d="M130.1 434.2L213.8 405.6L297.5 434.1M128.8 405.3L213.8 379.5L298.8 405.2M127.5 376.4L213.8 353.3L300.2 376.3M126.3 347.5L213.9 327.2L301.5 347.4" stroke="#2e2e2e" stroke-width="0.6" fill="none"/>
<path d="M131.3 461.3L126.3 347.5" stroke="#1a1a1a" stroke-width="0.65" fill="none"/>
<path d="M213.8 501L296.3 461.3L213.8 430L131.3 461.3Z" fill="#646464" stroke="#111" stroke-width="0.8" stroke-linejoin="round"/>
<path d="M285.5 466.4L285.6 466.3M286.1 465.5L285.6 466.3M286.4 464.9L286.1 465.5M286.4 464.9L286.5 464.8M286.9 464L286.5 464.8M287.2 463.4L286.9 464M287.2 463.4L287.2 463.2M287.6 462.4L287.2 463.2M287.8 461.9L287.6 462.4M287.8 461.9L287.9 461.6M288.2 460.9L287.9 461.6M288.3 460.6L288.2 460.9M288.3 460.6L288.4 460.1M288.6 459.3L288.4 460.1M288.6 459.3L288.6 459.2M288.8 458.4L288.6 459.2" stroke="#83ff00" stroke-width="0.75" fill="none" stroke-linecap="round"/>
<path d="M213.9 501L213.8 501M269.6 474.1L270.1 473.7M270.8 473L270.1 473.7M271.5 472.3L270.8 473M271.9 471.8L271.5 472.3M271.9 471.8L272.2 471.5M272.9 470.8L272.2 471.5M273.5 470.1L272.9 470.8M273.7 469.8L273.5 470.1M273.7 469.8L274.1 469.4M274.7 468.6L274.1 469.4M275.2 467.9L274.7 468.6M275.2 467.9L275.2 467.9M275.8 467.1L275.2 467.9M276.3 466.4L275.8 467.1M276.4 466.3L276.3 466.4M276.4 466.3L276.7 465.6M277.2 464.9L276.7 465.6M277.3 464.7L277.2 464.9M277.3 464.7L277.6 464.1M278 463.3L277.6 464.1M278.1 463.2L278 463.3M278.1 463.2L278.4 462.5M278.7 461.8L278.4 462.5M278.7 461.8L278.7 461.8M279 461L278.7 461.8M279.2 460.5L279 461M279.2 460.5L279.3 460.1M279.5 459.3L279.3 460.1M279.5 459.2L279.5 459.3M279.5 459.2L279.7 458.5M279.8 458L279.7 458.5M279.8 458L279.8 457.7M280 456.8L279.8 457.7M280 456.8L280 456.8M280 456L280 456.8M280 455.7L280 456M280 455.7L280 455.1M216.1 430.9L215.6 431M214.3 431L213 431.1M215.6 431L214.3 431M210.8 431.3L210.3 431.4M212.5 431.2L210.8 431.3M213 431.1L212.5 431.2" stroke="#bbff00" stroke-width="0.75" fill="none" stroke-linecap="round"/>
<path d="M228.2 490.5L227.1 490.8M229.6 489.9L228.2 490.5M231 489.4L229.6 489.9M232.4 488.8L231 489.4M233.8 488.3L232.4 488.8M235.1 487.7L233.8 488.3M236.4 487.2L235.1 487.7M237.7 486.6L236.4 487.2M238.9 486L237.7 486.6M240.2 485.4L238.9 486M241.4 484.8L240.2 485.4M242.6 484.3L241.4 484.8M243.8 483.7L242.6 484.3M244.9 483L243.8 483.7M246 482.4L244.9 483M247.1 481.8L246 482.4M248.2 481.2L247.1 481.8M249.3 480.6L248.2 481.2M250.3 479.9L249.3 480.6M251.1 479.5L250.3 479.9M219.1 493.5L218.8 493.6M220.7 493L219.1 493.5M222.3 492.5L220.7 493M223.8 492L222.3 492.5M225.3 491.5L223.8 492M226.8 491L225.3 491.5M227.1 490.8L226.8 491M251.1 479.5L251.3 479.3M252.3 478.6L251.3 479.3M253.3 478L252.3 478.6M254.2 477.3L253.3 478M255.1 476.7L254.2 477.3M256 476L255.1 476.7M256.4 475.7L256 476M212.5 495.3L212.5 495.3M214.2 494.9L212.5 495.3M215.9 494.4L214.2 494.9M217.5 494L215.9 494.4M218.8 493.6L217.5 494M256.4 475.7L256.9 475.3M257.7 474.7L256.9 475.3M258.5 474L257.7 474.7M259.3 473.3L258.5 474M259.7 473L259.3 473.3M207.3 496.6L207.1 496.6M209.1 496.2L207.3 496.6M210.8 495.8L209.1 496.2M212.5 495.3L210.8 495.8M259.7 473L260.1 472.6M260.9 471.9L260.1 472.6M261.6 471.2L260.9 471.9M262.1 470.7L261.6 471.2M207.1 496.6L205.5 497M262.1 470.7L262.3 470.5M263 469.8L262.3 470.5M263.6 469L263 469.8M263.9 468.7L263.6 469M263.9 468.7L264.2 468.3M264.8 467.6L264.2 468.3M265.3 466.9L264.8 467.6M265.3 466.9L265.4 466.8M265.9 466.1L265.4 466.8M266.4 465.3L265.9 466.1M266.5 465.3L266.4 465.3M266.5 465.3L266.9 464.6M267.3 463.8L266.9 464.6M267.4 463.8L267.3 463.8M267.4 463.8L267.7 463M268.1 462.3L267.7 463M268.1 462.3L268.1 462.2M268.4 461.4L268.1 462.2M268.6 461L268.4 461.4M268.6 461L268.7 460.6M269 459.8L268.7 460.6M269 459.7L269 459.8M269 459.7L269.2 459M269.3 458.5L269.2 459M269.3 458.5L269.4 458.1M269.5 457.4L269.4 458.1M269.5 457.4L269.5 457.3M269.5 456.4L269.5 457.3M269.6 456.3L269.5 456.4M269.6 456.3L269.6 455.5M269.5 455.3L269.6 455.5M269.5 455.3L269.5 454.6M269.5 454.3L269.5 454.6M269.5 454.3L269.4 453.7M269.3 453.3L269.4 453.7M269.3 453.3L269.2 452.7M269.1 452.4L269.2 452.7M269.1 452.4L268.9 451.7M268.8 451.5L268.9 451.7M268.8 451.5L268.5 450.7M226.1 434.7L225.1 434.7M223.9 434.7L223 434.7M225.1 434.7L223.9 434.7M221.8 434.7L220.8 434.7M223 434.7L221.8 434.7M219.7 434.7L218.5 434.7M220.8 434.7L219.7 434.7M217.7 434.8L216.2 434.8M218.5 434.7L217.7 434.8M213.9 435L213.7 435M215.8 434.9L213.9 435M216.2 434.8L215.8 434.9M212 435.1L211 435.1M213.7 435L212 435.1M208.5 435.4L208.3 435.4M210.3 435.2L208.5 435.4M211 435.1L210.3 435.2M206.8 435.5L205.3 435.7M208.3 435.4L206.8 435.5M134.4 462L133.8 462.5M203.4 435.9L202.2 436.1M205.1 435.7L203.4 435.9M205.3 435.7L205.1 435.7M134.4 462L134.6 461.8M135.4 461.1L134.6 461.8M136.3 460.4L135.4 461.1M136.4 460.3L136.3 460.4M200.2 436.4L198.7 436.6M201.8 436.1L200.2 436.4M202.2 436.1L201.8 436.1M136.4 460.3L137.2 459.7M138.1 459L137.2 459.7M138.8 458.5L138.1 459M195.6 437.1L195 437.2M197.1 436.8L195.6 437.1M198.6 436.6L197.1 436.8M198.7 436.6L198.6 436.6" stroke="#f4ff00" stroke-width="0.75" fill="none" stroke-linecap="round"/>
<path d="M229 482.8L228.2 483.1M230.3 482.2L229 482.8M231.6 481.6L230.3 482.2M232.8 481.1L231.6 481.6M234 480.5L232.8 481.1M235.2 479.9L234 480.5M236 479.5L235.2 479.9M217.8 486.9L217 487.2M219.3 486.4L217.8 486.9M220.8 485.9L219.3 486.4M222.2 485.4L220.8 485.9M223.7 484.9L222.2 485.4M225 484.4L223.7 484.9M226.4 483.8L225 484.4M227.7 483.3L226.4 483.8M228.2 483.1L227.7 483.3M236 479.5L236.3 479.3M237.4 478.7L236.3 479.3M238.5 478.1L237.4 478.7M239.6 477.5L238.5 478.1M240.6 476.9L239.6 477.5M241.7 476.2L240.6 476.9M242.7 475.6L241.7 476.2M243.6 475L242.7 475.6M244.4 474.4L243.6 475M211.5 488.7L210.4 489M213.1 488.3L211.5 488.7M214.7 487.8L213.1 488.3M216.3 487.4L214.7 487.8M217 487.2L216.3 487.4M244.4 474.4L244.6 474.3M245.5 473.7L244.6 474.3M246.3 473L245.5 473.7M247.2 472.3L246.3 473M248 471.6L247.2 472.3M248.1 471.6L248 471.6M206.4 490L205.1 490.2M208.1 489.6L206.4 490M209.8 489.1L208.1 489.6M210.4 489L209.8 489.1M248.1 471.6L248.8 471M249.6 470.3L248.8 471M250.3 469.6L249.6 470.3M250.6 469.3L250.3 469.6M201 491.1L200.6 491.2M202.8 490.7L201 491.1M204.6 490.4L202.8 490.7M205.1 490.2L204.6 490.4M250.6 469.3L251 468.9M251.7 468.1L251 468.9M252.3 467.4L251.7 468.1M252.4 467.4L252.3 467.4M197.2 491.7L196.5 491.8M199.1 491.4L197.2 491.7M200.6 491.2L199.1 491.4M252.4 467.4L253 466.7M253.5 465.9L253 466.7M253.7 465.6L253.5 465.9M196.5 491.8L195.2 492M253.7 465.6L254.1 465.2M254.6 464.4L254.1 465.2M254.8 464.1L254.6 464.4M254.8 464.1L255 463.6M255.5 462.9L255 463.6M255.6 462.6L255.5 462.9M255.6 462.6L255.8 462.1M256.2 461.3L255.8 462.1M256.2 461.3L256.2 461.3M256.5 460.4L256.2 461.3M256.6 460.1L256.5 460.4M256.6 460.1L256.7 459.6M256.8 458.9L256.7 459.6M256.8 458.9L256.9 458.7M257 457.9L256.9 458.7M257 457.8L257 457.9M257 457.8L257 457M257 456.7L257 457M257 456.7L257 456M257 455.7L257 456M257 455.7L256.9 455.1M256.8 454.8L256.9 455.1M256.8 454.8L256.6 454.1M256.6 453.9L256.6 454.1M256.6 453.9L256.3 453.1M256.3 453L256.3 453.1M256.3 453L255.9 452.1M255.9 452.1L255.8 452M255.4 451.4L255.8 452M255.4 451.4L255.1 450.8M254.9 450.6L255.1 450.8M254.9 450.6L254.3 449.8M254.3 449.8L254.1 449.6M253.7 449.1L254.1 449.6M253.7 449.1L253 448.5M253 448.5L252.7 448.2M252.3 447.8L252.7 448.2M252.3 447.8L251.5 447.2M251.5 447.2L250.7 446.6M250.7 446.6L250.4 446.4M249.8 446L250.4 446.4M249.8 446L248.8 445.5M248.8 445.5L247.8 445M247.8 445L246.8 444.5M246.8 444.5L245.7 444M245.7 444L244.6 443.5M244.6 443.5L243.4 443.1M243.4 443.1L242.2 442.7M242.2 442.7L240.9 442.3M240.9 442.3L239.6 441.9M239.6 441.9L238.2 441.6M237 441.3L236.8 441.3M238.2 441.6L237 441.3M236.8 441.3L235.3 441M235.3 441L233.8 440.7M232.9 440.6L232.2 440.5M233.8 440.7L232.9 440.6M232.2 440.5L230.5 440.3M229.6 440.2L228.8 440.1M230.5 440.3L229.6 440.2M228.8 440.1L227 439.9M226.7 439.9L225.1 439.8M227 439.9L226.7 439.9M224.1 439.8L223.2 439.7M225.1 439.8L224.1 439.8M221.7 439.7L221.2 439.7M223.2 439.7L221.7 439.7M219.5 439.6L219 439.6M221.2 439.7L219.5 439.6M217.3 439.6L216.8 439.7M219 439.6L217.3 439.6M215.2 439.7L214.5 439.7M216.8 439.7L215.2 439.7M213.3 439.8L212 439.8M214.5 439.7L213.3 439.8M142.7 466.1L142.3 466.6M209.5 440L209.3 440M211.3 439.9L209.5 440M212 439.8L211.3 439.9M142.7 466.1L142.9 465.8M143.6 465L142.9 465.8M143.9 464.7L143.6 465M207.7 440.2L206.5 440.3M209.3 440L207.7 440.2M143.9 464.7L144.4 464.2M145.1 463.4L144.4 464.2M145.4 463.2L145.1 463.4M204.2 440.5L203.5 440.6M205.9 440.3L204.2 440.5M206.5 440.3L205.9 440.3M145.4 463.2L145.9 462.7M146.7 462L145.9 462.7M147.2 461.6L146.7 462M200.9 440.9L200.1 441.1M202.5 440.7L200.9 440.9M203.5 440.6L202.5 440.7M147.2 461.6L147.6 461.2M148.5 460.5L147.6 461.2M149.3 459.9L148.5 460.5M149.4 459.8L149.3 459.9M197.7 441.4L196.4 441.6M199.3 441.2L197.7 441.4M200.1 441.1L199.3 441.2M149.4 459.8L150.2 459.2M151.2 458.5L150.2 459.2M152.1 457.9L151.2 458.5M152.2 457.8L152.1 457.9M193.1 442.3L192.1 442.4M194.6 442L193.1 442.3M196.1 441.7L194.6 442M196.4 441.6L196.1 441.7M152.2 457.8L153.1 457.3M154 456.6L153.1 457.3M155 456L154 456.6M155.9 455.5L155 456M187.3 443.5L186.9 443.6M188.7 443.2L187.3 443.5M190.1 442.9L188.7 443.2M191.6 442.5L190.1 442.9M192.1 442.4L191.6 442.5M155.9 455.5L156 455.4M157 454.9L156 455.4M158.1 454.3L157 454.9M159.1 453.7L158.1 454.3M160.2 453.2L159.1 453.7M161.3 452.6L160.2 453.2M162 452.3L161.3 452.6M180.5 445.3L179.4 445.6M181.8 444.9L180.5 445.3M183.2 444.6L181.8 444.9M184.5 444.2L183.2 444.6M185.9 443.8L184.5 444.2M186.9 443.6L185.9 443.8M162 452.3L162.4 452.1M163.5 451.6L162.4 452.1M164.6 451.1L163.5 451.6M165.7 450.6L164.6 451.1M166.9 450.1L165.7 450.6M168.1 449.6L166.9 450.1M169.2 449.1L168.1 449.6M170.4 448.7L169.2 449.1M171.6 448.2L170.4 448.7M172.9 447.8L171.6 448.2M174.1 447.3L172.9 447.8M175.3 446.9L174.1 447.3M176.6 446.5L175.3 446.9M177.9 446.1L176.6 446.5M179.2 445.7L177.9 446.1M179.4 445.6L179.2 445.7" stroke="#ffd100" stroke-width="0.75" fill="none" stroke-linecap="round"/>
<path d="M213.8 479.3L213.7 479.4M215.3 478.9L213.8 479.3M216.7 478.4L215.3 478.9M218 477.9L216.7 478.4M219.3 477.3L218 477.9M220.6 476.8L219.3 477.3M221.9 476.3L220.6 476.8M223.1 475.7L221.9 476.3M224.3 475.1L223.1 475.7M225.4 474.6L224.3 475.1M226.5 474L225.4 474.6M227.6 473.4L226.5 474M228.7 472.8L227.6 473.4M229.6 472.2L228.7 472.8M207.7 481.1L206.9 481.3M209.3 480.7L207.7 481.1M210.9 480.3L209.3 480.7M212.4 479.8L210.9 480.3M213.7 479.4L212.4 479.8M229.6 472.2L229.7 472.2M230.7 471.5L229.7 472.2M231.6 470.9L230.7 471.5M232.5 470.2L231.6 470.9M233.4 469.6L232.5 470.2M233.8 469.2L233.4 469.6M202.7 482.3L201.9 482.4M204.4 481.9L202.7 482.3M206.1 481.5L204.4 481.9M206.9 481.3L206.1 481.5M233.8 469.2L234.2 468.9M235 468.2L234.2 468.9M235.7 467.5L235 468.2M236.1 467.1L235.7 467.5M199.1 482.9L197.8 483.2M200.9 482.6L199.1 482.9M201.9 482.4L200.9 482.6M236.1 467.1L236.4 466.8M237.1 466.1L236.4 466.8M237.7 465.3L237.1 466.1M237.7 465.3L237.7 465.3M195.2 483.5L194.1 483.6M197.2 483.2L195.2 483.5M197.8 483.2L197.2 483.2M237.7 465.3L238.3 464.6M238.8 463.8L238.3 464.6M238.8 463.8L238.8 463.8M191.1 484L190.9 484M193.2 483.7L191.1 484M194.1 483.6L193.2 483.7M238.8 463.8L239.3 463M239.6 462.4L239.3 463M188.8 484.1L187.9 484.2M190.9 484L188.8 484.1M239.6 462.4L239.7 462.2M240 461.4L239.7 462.2M240.1 461.1L240 461.4M186.5 484.2L185.1 484.3M187.9 484.2L186.5 484.2M240.1 461.1L240.2 460.5M240.4 460L240.2 460.5M184.1 484.3L182.6 484.3M185.1 484.3L184.1 484.3M240.4 460L240.4 459.7M240.5 458.9L240.4 459.7M181.5 484.2L180.2 484.2M182.6 484.3L181.5 484.2M240.5 458.9L240.5 458.7M240.5 457.9L240.5 458.7M180.2 484.2L178.7 484.1M240.5 457.9L240.5 457.8M240.3 456.9L240.5 457.8M240.3 456.9L240.3 456.8M240.1 456L240.3 456.8M240.1 456L239.9 455.7M239.7 455.2L239.9 455.7M239.7 455.2L239.3 454.5M239.2 454.4L239.3 454.5M239.2 454.4L238.7 453.7M238.7 453.7L238.3 453.2M238 452.9L238.3 453.2M238 452.9L237.3 452.3M237.3 452.3L236.5 451.6M236.5 451.6L236.4 451.5M235.7 451.1L236.4 451.5M235.7 451.1L234.7 450.5M234.7 450.5L233.7 450M233.7 450L232.6 449.5M232.6 449.5L231.5 449M231.5 449L230.2 448.6M230.2 448.6L228.9 448.2M228.9 448.2L227.5 447.8M226.4 447.6L226.1 447.5M227.5 447.8L226.4 447.6M226.1 447.5L224.5 447.2M224.5 447.2L222.9 447M156.9 473L157 473.7M222.5 446.9L221.2 446.8M222.9 447L222.5 446.9M156.9 473L156.8 472.4M156.8 472L156.8 472.4M219.4 446.6L219.4 446.6M221.2 446.8L219.4 446.6M156.8 472L156.8 471.3M156.9 471L156.8 471.3M219.4 446.6L217.4 446.5M156.9 471L157 470.2M157.1 469.9L157 470.2M216.8 446.4L215.4 446.4M217.4 446.5L216.8 446.4M157.1 469.9L157.3 469.2M157.5 468.8L157.3 469.2M214.4 446.4L213.2 446.4M215.4 446.4L214.4 446.4M157.5 468.8L157.7 468.2M158 467.6L157.7 468.2M212.2 446.4L210.8 446.4M213.2 446.4L212.2 446.4M158 467.6L158.2 467.3M158.7 466.5L158.2 467.3M158.8 466.3L158.7 466.5M210.1 446.5L208.3 446.5M210.8 446.4L210.1 446.5M158.8 466.3L159.3 465.6M159.9 465L159.3 465.6M206.2 446.7L205.5 446.8M208.1 446.6L206.2 446.7M208.3 446.5L208.1 446.6M159.9 465L160 464.8M160.7 464L160 464.8M161.2 463.5L160.7 464M202.6 447.1L202.5 447.1M204.4 446.9L202.6 447.1M205.5 446.8L204.4 446.9M161.2 463.5L161.4 463.3M162.2 462.5L161.4 463.3M163 461.8L162.2 462.5M199.3 447.5L199 447.6M200.9 447.3L199.3 447.5M202.5 447.1L200.9 447.3M163 461.8L163 461.8M163.9 461.1L163 461.8M164.7 460.5L163.9 461.1M165.4 460L164.7 460.5M196.1 448.1L194.9 448.3M197.7 447.8L196.1 448.1M199 447.6L197.7 447.8M165.4 460L165.6 459.8M166.6 459.2L165.6 459.8M167.5 458.5L166.6 459.2M168.5 457.9L167.5 458.5M169.1 457.6L168.5 457.9M190.2 449.4L189.5 449.5M191.6 449L190.2 449.4M193.1 448.7L191.6 449M194.6 448.4L193.1 448.7M194.9 448.3L194.6 448.4M169.1 457.6L169.5 457.3M170.6 456.8L169.5 457.3M171.6 456.2L170.6 456.8M172.7 455.7L171.6 456.2M173.8 455.1L172.7 455.7M174.9 454.6L173.8 455.1M176.1 454.1L174.9 454.6M177.2 453.6L176.1 454.1M178.4 453.1L177.2 453.6M179.6 452.7L178.4 453.1M180.9 452.2L179.6 452.7M182.1 451.8L180.9 452.2M183.4 451.3L182.1 451.8M184.7 450.9L183.4 451.3M186 450.5L184.7 450.9M187.4 450.1L186 450.5M188.8 449.7L187.4 450.1M189.5 449.5L188.8 449.7" stroke="#ff9900" stroke-width="0.75" fill="none" stroke-linecap="round"/>
<g stroke="#000" stroke-opacity="0.45" stroke-width="0.65" stroke-linejoin="round"><path d="M213.8 355.6L217.7 356L213.8 357L210 356.7Z" fill="#c1ff00"/><path d="M209.9 355.4L213.8 355.6L210 356.7L206.1 356.4Z" fill="#d2ff00"/><path d="M217.7 354.8L221.6 355.3L217.7 356L213.8 355.6Z" fill="#d9ff00"/><path d="M206 355.2L209.9 355.4L206.1 356.4L202.1 356.3Z" fill="#e2ff00"/><path d="M213.8 354.6L217.7 354.8L213.8 355.6L209.9 355.4Z" fill="#ebff00"/><path d="M221.7 354.3L225.6 354.7L221.6 355.3L217.7 354.8Z" fill="#eeff00"/><path d="M202 355.2L206 355.2L202.1 356.3L198.1 356.3Z" fill="#f0ff00"/><path d="M209.9 354.4L213.8 354.6L209.9 355.4L206 355.2Z" fill="#faff00"/><path d="M217.8 354L221.7 354.3L217.7 354.8L213.8 354.6Z" fill="#fffe00"/><path d="M225.7 354L229.6 354.5L225.6 354.7L221.7 354.3Z" fill="#fffe00"/><path d="M197.9 355.3L202 355.2L198.1 356.3L194.1 356.5Z" fill="#fcff00"/><path d="M205.9 354.4L209.9 354.4L206 355.2L202 355.2Z" fill="#fff500"/><path d="M229.8 354L233.6 354.5L229.6 354.5L225.7 354Z" fill="#ffef00"/><path d="M213.8 353.8L217.8 354L213.8 354.6L209.9 354.4Z" fill="#ffee00"/><path d="M221.8 353.7L225.7 354L221.7 354.3L217.8 354Z" fill="#ffec00"/><path d="M193.8 355.6L197.9 355.3L194.1 356.5L190 356.7Z" fill="#fff700"/><path d="M201.8 354.5L205.9 354.4L202 355.2L197.9 355.3Z" fill="#ffe900"/><path d="M233.9 354.3L237.7 354.8L233.6 354.5L229.8 354Z" fill="#ffe300"/><path d="M209.8 353.8L213.8 353.8L209.9 354.4L205.9 354.4Z" fill="#ffe000"/><path d="M225.9 353.7L229.8 354L225.7 354L221.8 353.7Z" fill="#ffdd00"/><path d="M217.9 353.5L221.8 353.7L217.8 354L213.8 353.8Z" fill="#ffdc00"/><path d="M189.7 356L193.8 355.6L190 356.7L185.9 357.1Z" fill="#ffee00"/><path d="M197.7 354.7L201.8 354.5L197.9 355.3L193.8 355.6Z" fill="#ffde00"/><path d="M238 354.8L241.9 355.3L237.7 354.8L233.9 354.3Z" fill="#ffdb00"/><path d="M205.8 353.9L209.8 353.8L205.9 354.4L201.8 354.5Z" fill="#ffd300"/><path d="M230 353.9L233.9 354.3L229.8 354L225.9 353.7Z" fill="#ffd100"/><path d="M213.9 353.5L217.9 353.5L213.8 353.8L209.8 353.8Z" fill="#ffcd00"/><path d="M221.9 353.5L225.9 353.7L221.8 353.7L217.9 353.5Z" fill="#ffcd00"/><path d="M185.5 356.5L189.7 356L185.9 357.1L181.7 357.7Z" fill="#ffe600"/><path d="M242.2 355.6L246.1 356.1L241.9 355.3L238 354.8Z" fill="#ffd600"/><path d="M193.6 355.1L197.7 354.7L193.8 355.6L189.7 356Z" fill="#ffd500"/><path d="M234.1 354.5L238 354.8L233.9 354.3L230 353.9Z" fill="#ffc900"/><path d="M201.7 354.1L205.8 353.9L201.8 354.5L197.7 354.7Z" fill="#ffc800"/><path d="M226 353.7L230 353.9L225.9 353.7L221.9 353.5Z" fill="#ffc100"/><path d="M209.8 353.6L213.9 353.5L209.8 353.8L205.8 353.9Z" fill="#ffc000"/><path d="M217.9 353.4L221.9 353.5L217.9 353.5L213.9 353.5Z" fill="#ffbe00"/><path d="M181.2 357.2L185.5 356.5L181.7 357.7L177.4 358.4Z" fill="#ffe000"/><path d="M246.5 356.7L250.3 357.2L246.1 356.1L242.2 355.6Z" fill="#ffd400"/><path d="M189.4 355.6L193.6 355.1L189.7 356L185.5 356.5Z" fill="#ffcd00"/><path d="M238.3 355.3L242.2 355.6L238 354.8L234.1 354.5Z" fill="#ffc400"/><path d="M197.5 354.5L201.7 354.1L197.7 354.7L193.6 355.1Z" fill="#ffbe00"/><path d="M230.2 354.2L234.1 354.5L230 353.9L226 353.7Z" fill="#ffb800"/><path d="M205.7 353.8L209.8 353.6L205.8 353.9L201.7 354.1Z" fill="#ffb500"/><path d="M222 353.6L226 353.7L221.9 353.5L217.9 353.4Z" fill="#ffb200"/><path d="M213.9 353.5L217.9 353.4L213.9 353.5L209.8 353.6Z" fill="#ffb100"/><path d="M176.9 358L181.2 357.2L177.4 358.4L173.1 359.2Z" fill="#ffdc00"/><path d="M250.8 358.1L254.6 358.6L250.3 357.2L246.5 356.7Z" fill="#ffd600"/><path d="M185.1 356.3L189.4 355.6L185.5 356.5L181.2 357.2Z" fill="#ffc700"/><path d="M242.6 356.3L246.5 356.7L242.2 355.6L238.3 355.3Z" fill="#ffc200"/><path d="M193.3 355L197.5 354.5L193.6 355.1L189.4 355.6Z" fill="#ffb600"/><path d="M234.4 355L238.3 355.3L234.1 354.5L230.2 354.2Z" fill="#ffb300"/><path d="M201.5 354.1L205.7 353.8L201.7 354.1L197.5 354.5Z" fill="#ffab00"/><path d="M226.2 354.1L230.2 354.2L226 353.7L222 353.6Z" fill="#ffa900"/><path d="M209.7 353.7L213.9 353.5L209.8 353.6L205.7 353.8Z" fill="#ffa600"/><path d="M218 353.7L222 353.6L217.9 353.4L213.9 353.5Z" fill="#ffa500"/><path d="M255.1 359.7L258.9 360.3L254.6 358.6L250.8 358.1Z" fill="#ffda00"/><path d="M172.6 359L176.9 358L173.1 359.2L168.8 360.2Z" fill="#ffd900"/><path d="M246.9 357.7L250.8 358.1L246.5 356.7L242.6 356.3Z" fill="#ffc300"/><path d="M180.8 357.1L185.1 356.3L181.2 357.2L176.9 358Z" fill="#ffc200"/><path d="M238.7 356.1L242.6 356.3L238.3 355.3L234.4 355Z" fill="#ffb100"/><path d="M189.1 355.6L193.3 355L189.4 355.6L185.1 356.3Z" fill="#ffb000"/><path d="M230.4 354.9L234.4 355L230.2 354.2L226.2 354.1Z" fill="#ffa400"/><path d="M197.3 354.6L201.5 354.1L197.5 354.5L193.3 355Z" fill="#ffa300"/><path d="M222.1 354.2L226.2 354.1L222 353.6L218 353.7Z" fill="#ff9c00"/><path d="M205.6 354L209.7 353.7L205.7 353.8L201.5 354.1Z" fill="#ff9c00"/><path d="M213.9 353.9L218 353.7L213.9 353.5L209.7 353.7Z" fill="#ff9900"/><path d="M259.5 361.7L263.3 362.2L258.9 360.3L255.1 359.7Z" fill="#ffe200"/><path d="M168.2 360.1L172.6 359L168.8 360.2L164.4 361.3Z" fill="#ffd800"/><path d="M251.2 359.4L255.1 359.7L250.8 358.1L246.9 357.7Z" fill="#ffc800"/><path d="M176.5 358L180.8 357.1L176.9 358L172.6 359Z" fill="#ffbf00"/><path d="M243 357.5L246.9 357.7L242.6 356.3L238.7 356.1Z" fill="#ffb200"/><path d="M184.7 356.4L189.1 355.6L185.1 356.3L180.8 357.1Z" fill="#ffab00"/><path d="M234.7 356L238.7 356.1L234.4 355L230.4 354.9Z" fill="#ffa200"/><path d="M193.1 355.3L197.3 354.6L193.3 355L189.1 355.6Z" fill="#ff9d00"/><path d="M226.3 355L230.4 354.9L226.2 354.1L222.1 354.2Z" fill="#ff9600"/><path d="M201.4 354.5L205.6 354L201.5 354.1L197.3 354.6Z" fill="#ff9400"/><path d="M218 354.4L222.1 354.2L218 353.7L213.9 353.9Z" fill="#ff9000"/><path d="M209.7 354.2L213.9 353.9L209.7 353.7L205.6 354Z" fill="#ff8f00"/><path d="M263.9 364L267.7 364.5L263.3 362.2L259.5 361.7Z" fill="#ffee00"/><path d="M163.7 361.4L168.2 360.1L164.4 361.3L160 362.6Z" fill="#ffd900"/><path d="M255.6 361.3L259.5 361.7L255.1 359.7L251.2 359.4Z" fill="#ffcf00"/><path d="M172.1 359.2L176.5 358L172.6 359L168.2 360.1Z" fill="#ffbe00"/><path d="M247.3 359.1L251.2 359.4L246.9 357.7L243 357.5Z" fill="#ffb600"/><path d="M180.4 357.4L184.7 356.4L180.8 357.1L176.5 358Z" fill="#ffa800"/><path d="M239 357.4L243 357.5L238.7 356.1L234.7 356Z" fill="#ffa300"/><path d="M188.7 356L193.1 355.3L189.1 355.6L184.7 356.4Z" fill="#ff9800"/><path d="M230.6 356L234.7 356L230.4 354.9L226.3 355Z" fill="#ff9400"/><path d="M197.1 355.2L201.4 354.5L197.3 354.6L193.1 355.3Z" fill="#ff8d00"/><path d="M222.2 355.1L226.3 355L222.1 354.2L218 354.4Z" fill="#ff8a00"/><path d="M205.5 354.7L209.7 354.2L205.6 354L201.4 354.5Z" fill="#ff8700"/><path d="M213.9 354.7L218 354.4L213.9 353.9L209.7 354.2Z" fill="#ff8600"/><path d="M268.4 366.5L272.1 367L267.7 364.5L263.9 364Z" fill="#fffc00"/><path d="M260 363.6L263.9 364L259.5 361.7L255.6 361.3Z" fill="#ffdb00"/><path d="M159.3 362.8L163.7 361.4L160 362.6L155.5 364Z" fill="#ffdb00"/><path d="M251.7 361.1L255.6 361.3L251.2 359.4L247.3 359.1Z" fill="#ffbe00"/><path d="M167.6 360.4L172.1 359.2L168.2 360.1L163.7 361.4Z" fill="#ffbe00"/><path d="M243.3 359L247.3 359.1L243 357.5L239 357.4Z" fill="#ffa700"/><path d="M176 358.5L180.4 357.4L176.5 358L172.1 359.2Z" fill="#ffa700"/><path d="M234.9 357.4L239 357.4L234.7 356L230.6 356Z" fill="#ff9500"/><path d="M184.4 357L188.7 356L184.7 356.4L180.4 357.4Z" fill="#ff9500"/><path d="M226.5 356.2L230.6 356L226.3 355L222.2 355.1Z" fill="#ff8800"/><path d="M272.9 369.4L276.6 369.9L272.1 367L268.4 366.5Z" fill="#f0ff00"/><path d="M192.8 355.9L197.1 355.2L193.1 355.3L188.7 356Z" fill="#ff8800"/><path d="M218.1 355.5L222.2 355.1L218 354.4L213.9 354.7Z" fill="#ff8000"/><path d="M201.2 355.3L205.5 354.7L201.4 354.5L197.1 355.2Z" fill="#ff8000"/><path d="M209.7 355.2L213.9 354.7L209.7 354.2L205.5 354.7Z" fill="#ff7e00"/><path d="M264.5 366.2L268.4 366.5L263.9 364L260 363.6Z" fill="#ffe900"/><path d="M154.7 364.4L159.3 362.8L155.5 364L150.9 365.6Z" fill="#ffde00"/><path d="M256.1 363.3L260 363.6L255.6 361.3L251.7 361.1Z" fill="#ffc900"/><path d="M163.1 361.8L167.6 360.4L163.7 361.4L159.3 362.8Z" fill="#ffc000"/><path d="M247.7 361L251.7 361.1L247.3 359.1L243.3 359Z" fill="#ffaf00"/><path d="M171.5 359.7L176 358.5L172.1 359.2L167.6 360.4Z" fill="#ffa700"/><path d="M277.4 372.6L281.1 373.1L276.6 369.9L272.9 369.4Z" fill="#dbff00"/><path d="M239.3 359L243.3 359L239 357.4L234.9 357.4Z" fill="#ff9900"/><path d="M180 358.1L184.4 357L180.4 357.4L176 358.5Z" fill="#ff9300"/><path d="M230.8 357.6L234.9 357.4L230.6 356L226.5 356.2Z" fill="#ff8900"/><path d="M188.4 356.9L192.8 355.9L188.7 356L184.4 357Z" fill="#ff8500"/><path d="M222.4 356.5L226.5 356.2L222.2 355.1L218.1 355.5Z" fill="#ff7e00"/><path d="M196.9 356.1L201.2 355.3L197.1 355.2L192.8 355.9Z" fill="#ff7b00"/><path d="M213.9 355.9L218.1 355.5L213.9 354.7L209.7 355.2Z" fill="#ff7800"/><path d="M205.4 355.8L209.7 355.2L205.5 354.7L201.2 355.3Z" fill="#ff7700"/><path d="M269 369L272.9 369.4L268.4 366.5L264.5 366.2Z" fill="#fffb00"/><path d="M150.1 366.1L154.7 364.4L150.9 365.6L146.4 367.3Z" fill="#ffe400"/><path d="M260.6 365.9L264.5 366.2L260 363.6L256.1 363.3Z" fill="#ffd700"/><path d="M158.5 363.4L163.1 361.8L159.3 362.8L154.7 364.4Z" fill="#ffc400"/><path d="M252.2 363.2L256.1 363.3L251.7 361.1L247.7 361Z" fill="#ffb900"/><path d="M282 376.1L285.7 376.6L281.1 373.1L277.4 372.6Z" fill="#c3ff00"/><path d="M167 361.1L171.5 359.7L167.6 360.4L163.1 361.8Z" fill="#ffa900"/><path d="M243.7 361L247.7 361L243.3 359L239.3 359Z" fill="#ffa000"/><path d="M175.5 359.3L180 358.1L176 358.5L171.5 359.7Z" fill="#ff9300"/><path d="M235.2 359.2L239.3 359L234.9 357.4L230.8 357.6Z" fill="#ff8d00"/><path d="M273.6 372.2L277.4 372.6L272.9 369.4L269 369Z" fill="#efff00"/><path d="M184 357.9L188.4 356.9L184.4 357L180 358.1Z" fill="#ff8300"/><path d="M226.7 357.9L230.8 357.6L226.5 356.2L222.4 356.5Z" fill="#ff7e00"/><path d="M192.5 357L196.9 356.1L192.8 355.9L188.4 356.9Z" fill="#ff7800"/><path d="M218.1 357L222.4 356.5L218.1 355.5L213.9 355.9Z" fill="#ff7500"/><path d="M201.1 356.5L205.4 355.8L201.2 355.3L196.9 356.1Z" fill="#ff7200"/><path d="M209.6 356.5L213.9 355.9L209.7 355.2L205.4 355.8Z" fill="#ff7100"/><path d="M265.1 368.8L269 369L264.5 366.2L260.6 365.9Z" fill="#ffe900"/><path d="M145.5 368L150.1 366.1L146.4 367.3L141.7 369.2Z" fill="#ffeb00"/><path d="M286.6 379.9L290.3 380.4L285.7 376.6L282 376.1Z" fill="#a7ff00"/><path d="M256.7 365.8L260.6 365.9L256.1 363.3L252.2 363.2Z" fill="#ffc700"/><path d="M153.9 365.1L158.5 363.4L154.7 364.4L150.1 366.1Z" fill="#ffc900"/><path d="M248.1 363.3L252.2 363.2L247.7 361L243.7 361Z" fill="#ffab00"/><path d="M162.4 362.7L167 361.1L163.1 361.8L158.5 363.4Z" fill="#ffac00"/><path d="M278.2 375.7L282 376.1L277.4 372.6L273.6 372.2Z" fill="#d6ff00"/><path d="M239.6 361.2L243.7 361L239.3 359L235.2 359.2Z" fill="#ff9400"/><path d="M171 360.7L175.5 359.3L171.5 359.7L167 361.1Z" fill="#ff9500"/><path d="M231 359.5L235.2 359.2L230.8 357.6L226.7 357.9Z" fill="#ff8200"/><path d="M179.5 359.2L184 357.9L180 358.1L175.5 359.3Z" fill="#ff8300"/><path d="M269.7 372L273.6 372.2L269 369L265.1 368.8Z" fill="#fffe00"/><path d="M222.5 358.3L226.7 357.9L222.4 356.5L218.1 357Z" fill="#ff7500"/><path d="M188.1 358.1L192.5 357L188.4 356.9L184 357.9Z" fill="#ff7600"/><path d="M213.9 357.6L218.1 357L213.9 355.9L209.6 356.5Z" fill="#ff6e00"/><path d="M196.7 357.5L201.1 356.5L196.9 356.1L192.5 357Z" fill="#ff6e00"/><path d="M205.3 357.3L209.6 356.5L205.4 355.8L201.1 356.5Z" fill="#ff6b00"/><path d="M291.2 384L294.9 384.5L290.3 380.4L286.6 379.9Z" fill="#88ff00"/><path d="M140.8 370.1L145.5 368L141.7 369.2L137 371.3Z" fill="#fff300"/><path d="M261.2 368.7L265.1 368.8L260.6 365.9L256.7 365.8Z" fill="#ffd900"/><path d="M149.3 367L153.9 365.1L150.1 366.1L145.5 368Z" fill="#ffd000"/><path d="M282.8 379.5L286.6 379.9L282 376.1L278.2 375.7Z" fill="#bbff00"/><path d="M252.6 365.8L256.7 365.8L252.2 363.2L248.1 363.3Z" fill="#ffb900"/><path d="M157.8 364.4L162.4 362.7L158.5 363.4L153.9 365.1Z" fill="#ffb100"/><path d="M244.1 363.4L248.1 363.3L243.7 361L239.6 361.2Z" fill="#ff9e00"/><path d="M166.4 362.3L171 360.7L167 361.1L162.4 362.7Z" fill="#ff9800"/><path d="M274.3 375.5L278.2 375.7L273.6 372.2L269.7 372Z" fill="#e8ff00"/><path d="M235.5 361.5L239.6 361.2L235.2 359.2L231 359.5Z" fill="#ff8900"/><path d="M295.9 388.5L299.6 388.9L294.9 384.5L291.2 384Z" fill="#66ff00"/><path d="M175 360.6L179.5 359.2L175.5 359.3L171 360.7Z" fill="#ff8400"/><path d="M226.8 360L231 359.5L226.7 357.9L222.5 358.3Z" fill="#ff7900"/><path d="M183.6 359.3L188.1 358.1L184 357.9L179.5 359.2Z" fill="#ff7500"/><path d="M136 372.3L140.8 370.1L137 371.3L132.3 373.5Z" fill="#fffd00"/><path d="M218.2 358.9L222.5 358.3L218.1 357L213.9 357.6Z" fill="#ff6e00"/><path d="M192.3 358.5L196.7 357.5L192.5 357L188.1 358.1Z" fill="#ff6c00"/><path d="M209.6 358.3L213.9 357.6L209.6 356.5L205.3 357.3Z" fill="#ff6800"/><path d="M200.9 358.2L205.3 357.3L201.1 356.5L196.7 357.5Z" fill="#ff6700"/><path d="M265.8 371.9L269.7 372L265.1 368.8L261.2 368.7Z" fill="#ffed00"/><path d="M287.4 383.7L291.2 384L286.6 379.9L282.8 379.5Z" fill="#9cff00"/><path d="M144.6 369.1L149.3 367L145.5 368L140.8 370.1Z" fill="#ffd800"/><path d="M257.2 368.7L261.2 368.7L256.7 365.8L252.6 365.8Z" fill="#ffca00"/><path d="M153.1 366.3L157.8 364.4L153.9 365.1L149.3 367Z" fill="#ffb800"/><path d="M248.6 366L252.6 365.8L248.1 363.3L244.1 363.4Z" fill="#ffac00"/><path d="M278.9 379.3L282.8 379.5L278.2 375.7L274.3 375.5Z" fill="#cdff00"/><path d="M161.8 364L166.4 362.3L162.4 362.7L157.8 364.4Z" fill="#ff9d00"/><path d="M239.9 363.8L244.1 363.4L239.6 361.2L235.5 361.5Z" fill="#ff9300"/><path d="M170.4 362.1L175 360.6L171 360.7L166.4 362.3Z" fill="#ff8700"/><path d="M231.3 361.9L235.5 361.5L231 359.5L226.8 360Z" fill="#ff8000"/><path d="M270.4 375.4L274.3 375.5L269.7 372L265.8 371.9Z" fill="#f9ff00"/><path d="M131.2 374.7L136 372.3L132.3 373.5L127.5 375.9Z" fill="#f5ff00"/><path d="M179.1 360.7L183.6 359.3L179.5 359.2L175 360.6Z" fill="#ff7700"/><path d="M292.1 388.2L295.9 388.5L291.2 384L287.4 383.7Z" fill="#7bff00"/><path d="M222.6 360.6L226.8 360L222.5 358.3L218.2 358.9Z" fill="#ff7100"/><path d="M187.8 359.8L192.3 358.5L188.1 358.1L183.6 359.3Z" fill="#ff6b00"/><path d="M213.9 359.7L218.2 358.9L213.9 357.6L209.6 358.3Z" fill="#ff6800"/><path d="M196.5 359.3L200.9 358.2L196.7 357.5L192.3 358.5Z" fill="#ff6500"/><path d="M205.2 359.3L209.6 358.3L205.3 357.3L200.9 358.2Z" fill="#ff6400"/><path d="M261.8 372L265.8 371.9L261.2 368.7L257.2 368.7Z" fill="#ffdf00"/><path d="M139.8 371.3L144.6 369.1L140.8 370.1L136 372.3Z" fill="#ffe200"/><path d="M283.6 383.5L287.4 383.7L282.8 379.5L278.9 379.3Z" fill="#afff00"/><path d="M253.1 368.9L257.2 368.7L252.6 365.8L248.6 366Z" fill="#ffbd00"/><path d="M148.4 368.3L153.1 366.3L149.3 367L144.6 369.1Z" fill="#ffc000"/><path d="M244.4 366.3L248.6 366L244.1 363.4L239.9 363.8Z" fill="#ffa100"/><path d="M157.1 365.9L161.8 364L157.8 364.4L153.1 366.3Z" fill="#ffa400"/><path d="M275 379.3L278.9 379.3L274.3 375.5L270.4 375.4Z" fill="#deff00"/><path d="M235.7 364.2L239.9 363.8L235.5 361.5L231.3 361.9Z" fill="#ff8a00"/><path d="M165.8 363.8L170.4 362.1L166.4 362.3L161.8 364Z" fill="#ff8c00"/><path d="M227 362.6L231.3 361.9L226.8 360L222.6 360.6Z" fill="#ff7800"/><path d="M174.5 362.3L179.1 360.7L175 360.6L170.4 362.1Z" fill="#ff7a00"/><path d="M266.4 375.5L270.4 375.4L265.8 371.9L261.8 372Z" fill="#fff600"/><path d="M218.3 361.4L222.6 360.6L218.2 358.9L213.9 359.7Z" fill="#ff6c00"/><path d="M183.2 361.2L187.8 359.8L183.6 359.3L179.1 360.7Z" fill="#ff6d00"/><path d="M209.5 360.6L213.9 359.7L209.6 358.3L205.2 359.3Z" fill="#ff6400"/><path d="M192 360.5L196.5 359.3L192.3 358.5L187.8 359.8Z" fill="#ff6500"/><path d="M288.3 388L292.1 388.2L287.4 383.7L283.6 383.5Z" fill="#8dff00"/><path d="M200.7 360.3L205.2 359.3L200.9 358.2L196.5 359.3Z" fill="#ff6200"/><path d="M135 373.7L139.8 371.3L136 372.3L131.2 374.7Z" fill="#ffee00"/><path d="M257.7 372.1L261.8 372L257.2 368.7L253.1 368.9Z" fill="#ffd200"/><path d="M143.6 370.6L148.4 368.3L144.6 369.1L139.8 371.3Z" fill="#ffca00"/><path d="M279.7 383.5L283.6 383.5L278.9 379.3L275 379.3Z" fill="#bfff00"/><path d="M249 369.3L253.1 368.9L248.6 366L244.4 366.3Z" fill="#ffb200"/><path d="M152.3 367.9L157.1 365.9L153.1 366.3L148.4 368.3Z" fill="#ffac00"/><path d="M240.3 366.8L244.4 366.3L239.9 363.8L235.7 364.2Z" fill="#ff9800"/><path d="M161.1 365.7L165.8 363.8L161.8 364L157.1 365.9Z" fill="#ff9200"/><path d="M271.1 379.4L275 379.3L270.4 375.4L266.4 375.5Z" fill="#edff00"/><path d="M231.5 364.8L235.7 364.2L231.3 361.9L227 362.6Z" fill="#ff8200"/><path d="M169.8 364L174.5 362.3L170.4 362.1L165.8 363.8Z" fill="#ff7e00"/><path d="M222.7 363.3L227 362.6L222.6 360.6L218.3 361.4Z" fill="#ff7200"/><path d="M178.6 362.7L183.2 361.2L179.1 360.7L174.5 362.3Z" fill="#ff6f00"/><path d="M213.9 362.3L218.3 361.4L213.9 359.7L209.5 360.6Z" fill="#ff6700"/><path d="M187.4 361.9L192 360.5L187.8 359.8L183.2 361.2Z" fill="#ff6600"/><path d="M262.4 375.7L266.4 375.5L261.8 372L257.7 372.1Z" fill="#ffe900"/><path d="M205.1 361.7L209.5 360.6L205.2 359.3L200.7 360.3Z" fill="#ff6200"/><path d="M196.2 361.6L200.7 360.3L196.5 359.3L192 360.5Z" fill="#ff6100"/><path d="M284.4 388L288.3 388L283.6 383.5L279.7 383.5Z" fill="#9eff00"/><path d="M138.8 373L143.6 370.6L139.8 371.3L135 373.7Z" fill="#ffd600"/><path d="M253.6 372.5L257.7 372.1L253.1 368.9L249 369.3Z" fill="#ffc600"/><path d="M147.6 370.1L152.3 367.9L148.4 368.3L143.6 370.6Z" fill="#ffb500"/><path d="M244.8 369.7L249 369.3L244.4 366.3L240.3 366.8Z" fill="#ffa800"/><path d="M275.8 383.5L279.7 383.5L275 379.3L271.1 379.4Z" fill="#cfff00"/><path d="M156.3 367.8L161.1 365.7L157.1 365.9L152.3 367.9Z" fill="#ff9a00"/><path d="M236 367.4L240.3 366.8L235.7 364.2L231.5 364.8Z" fill="#ff9000"/><path d="M165.1 365.9L169.8 364L165.8 363.8L161.1 365.7Z" fill="#ff8500"/><path d="M267 379.6L271.1 379.4L266.4 375.5L262.4 375.7Z" fill="#faff00"/><path d="M227.2 365.6L231.5 364.8L227 362.6L222.7 363.3Z" fill="#ff7c00"/><path d="M174 364.4L178.6 362.7L174.5 362.3L169.8 364Z" fill="#ff7400"/><path d="M218.3 364.2L222.7 363.3L218.3 361.4L213.9 362.3Z" fill="#ff6e00"/><path d="M182.8 363.5L187.4 361.9L183.2 361.2L178.6 362.7Z" fill="#ff6800"/><path d="M209.4 363.3L213.9 362.3L209.5 360.6L205.1 361.7Z" fill="#ff6500"/><path d="M191.7 362.9L196.2 361.6L192 360.5L187.4 361.9Z" fill="#ff6200"/><path d="M200.6 362.9L205.1 361.7L200.7 360.3L196.2 361.6Z" fill="#ff6100"/><path d="M258.3 376.1L262.4 375.7L257.7 372.1L253.6 372.5Z" fill="#ffdd00"/><path d="M280.5 388.1L284.4 388L279.7 383.5L275.8 383.5Z" fill="#adff00"/><path d="M249.4 373L253.6 372.5L249 369.3L244.8 369.7Z" fill="#ffbc00"/><path d="M142.7 372.5L147.6 370.1L143.6 370.6L138.8 373Z" fill="#ffc100"/><path d="M240.6 370.4L244.8 369.7L240.3 366.8L236 367.4Z" fill="#ffa000"/><path d="M151.5 370L156.3 367.8L152.3 367.9L147.6 370.1Z" fill="#ffa400"/><path d="M271.7 383.8L275.8 383.5L271.1 379.4L267 379.6Z" fill="#dcff00"/><path d="M231.7 368.2L236 367.4L231.5 364.8L227.2 365.6Z" fill="#ff8900"/><path d="M160.4 367.9L165.1 365.9L161.1 365.7L156.3 367.8Z" fill="#ff8c00"/><path d="M222.8 366.5L227.2 365.6L222.7 363.3L218.3 364.2Z" fill="#ff7800"/><path d="M169.3 366.3L174 364.4L169.8 364L165.1 365.9Z" fill="#ff7a00"/><path d="M262.9 379.9L267 379.6L262.4 375.7L258.3 376.1Z" fill="#fff800"/><path d="M213.9 365.3L218.3 364.2L213.9 362.3L209.4 363.3Z" fill="#ff6b00"/><path d="M178.2 365.2L182.8 363.5L178.6 362.7L174 364.4Z" fill="#ff6d00"/><path d="M205 364.6L209.4 363.3L205.1 361.7L200.6 362.9Z" fill="#ff6400"/><path d="M187.1 364.5L191.7 362.9L187.4 361.9L182.8 363.5Z" fill="#ff6400"/><path d="M196 364.3L200.6 362.9L196.2 361.6L191.7 362.9Z" fill="#ff6200"/><path d="M254.1 376.6L258.3 376.1L253.6 372.5L249.4 373Z" fill="#ffd400"/><path d="M276.5 388.3L280.5 388.1L275.8 383.5L271.7 383.8Z" fill="#bbff00"/><path d="M245.2 373.6L249.4 373L244.8 369.7L240.6 370.4Z" fill="#ffb400"/><path d="M146.7 372.4L151.5 370L147.6 370.1L142.7 372.5Z" fill="#ffaf00"/><path d="M236.3 371.2L240.6 370.4L236 367.4L231.7 368.2Z" fill="#ff9a00"/><path d="M155.6 370.1L160.4 367.9L156.3 367.8L151.5 370Z" fill="#ff9600"/><path d="M267.7 384.2L271.7 383.8L267 379.6L262.9 379.9Z" fill="#e8ff00"/><path d="M227.3 369.2L231.7 368.2L227.2 365.6L222.8 366.5Z" fill="#ff8500"/><path d="M164.5 368.4L169.3 366.3L165.1 365.9L160.4 367.9Z" fill="#ff8200"/><path d="M218.4 367.6L222.8 366.5L218.3 364.2L213.9 365.3Z" fill="#ff7500"/><path d="M173.5 367.1L178.2 365.2L174 364.4L169.3 366.3Z" fill="#ff7200"/><path d="M209.4 366.6L213.9 365.3L209.4 363.3L205 364.6Z" fill="#ff6a00"/><path d="M182.4 366.2L187.1 364.5L182.8 363.5L178.2 365.2Z" fill="#ff6900"/><path d="M258.8 380.5L262.9 379.9L258.3 376.1L254.1 376.6Z" fill="#ffee00"/><path d="M200.4 366L205 364.6L200.6 362.9L196 364.3Z" fill="#ff6400"/><path d="M191.4 365.9L196 364.3L191.7 362.9L187.1 364.5Z" fill="#ff6400"/><path d="M249.9 377.2L254.1 376.6L249.4 373L245.2 373.6Z" fill="#ffcb00"/><path d="M272.4 388.7L276.5 388.3L271.7 383.8L267.7 384.2Z" fill="#c7ff00"/><path d="M240.9 374.4L245.2 373.6L240.6 370.4L236.3 371.2Z" fill="#ffad00"/><path d="M150.7 372.5L155.6 370.1L151.5 370L146.7 372.4Z" fill="#ffa100"/><path d="M231.9 372.1L236.3 371.2L231.7 368.2L227.3 369.2Z" fill="#ff9500"/><path d="M159.7 370.6L164.5 368.4L160.4 367.9L155.6 370.1Z" fill="#ff8b00"/><path d="M263.5 384.7L267.7 384.2L262.9 379.9L258.8 380.5Z" fill="#f2ff00"/><path d="M222.9 370.3L227.3 369.2L222.8 366.5L218.4 367.6Z" fill="#ff8200"/><path d="M168.7 369.1L173.5 367.1L169.3 366.3L164.5 368.4Z" fill="#ff7a00"/><path d="M213.9 368.9L218.4 367.6L213.9 365.3L209.4 366.6Z" fill="#ff7300"/><path d="M177.7 368.1L182.4 366.2L178.2 365.2L173.5 367.1Z" fill="#ff6e00"/><path d="M204.8 368L209.4 366.6L205 364.6L200.4 366Z" fill="#ff6a00"/><path d="M186.8 367.6L191.4 365.9L187.1 364.5L182.4 366.2Z" fill="#ff6800"/><path d="M195.8 367.6L200.4 366L196 364.3L191.4 365.9Z" fill="#ff6700"/><path d="M254.6 381.1L258.8 380.5L254.1 376.6L249.9 377.2Z" fill="#ffe500"/><path d="M245.6 378L249.9 377.2L245.2 373.6L240.9 374.4Z" fill="#ffc400"/><path d="M236.6 375.4L240.9 374.4L236.3 371.2L231.9 372.1Z" fill="#ffa800"/><path d="M268.3 389.3L272.4 388.7L267.7 384.2L263.5 384.7Z" fill="#d1ff00"/><path d="M154.8 373L159.7 370.6L155.6 370.1L150.7 372.5Z" fill="#ff9600"/><path d="M227.5 373.2L231.9 372.1L227.3 369.2L222.9 370.3Z" fill="#ff9200"/><path d="M163.9 371.4L168.7 369.1L164.5 368.4L159.7 370.6Z" fill="#ff8300"/><path d="M218.4 371.5L222.9 370.3L218.4 367.6L213.9 368.9Z" fill="#ff8000"/><path d="M259.3 385.4L263.5 384.7L258.8 380.5L254.6 381.1Z" fill="#fbff00"/><path d="M173 370.2L177.7 368.1L173.5 367.1L168.7 369.1Z" fill="#ff7600"/><path d="M209.3 370.3L213.9 368.9L209.4 366.6L204.8 368Z" fill="#ff7400"/><path d="M182 369.5L186.8 367.6L182.4 366.2L177.7 368.1Z" fill="#ff6d00"/><path d="M200.2 369.6L204.8 368L200.4 366L195.8 367.6Z" fill="#ff6c00"/><path d="M191.1 369.3L195.8 367.6L191.4 365.9L186.8 367.6Z" fill="#ff6a00"/><path d="M250.3 382L254.6 381.1L249.9 377.2L245.6 378Z" fill="#ffdf00"/><path d="M241.3 379L245.6 378L240.9 374.4L236.6 375.4Z" fill="#ffbf00"/><path d="M232.2 376.5L236.6 375.4L231.9 372.1L227.5 373.2Z" fill="#ffa500"/><path d="M264.1 390L268.3 389.3L263.5 384.7L259.3 385.4Z" fill="#daff00"/><path d="M223 374.5L227.5 373.2L222.9 370.3L218.4 371.5Z" fill="#ff9000"/><path d="M159 373.8L163.9 371.4L159.7 370.6L154.8 373Z" fill="#ff8e00"/><path d="M213.9 373L218.4 371.5L213.9 368.9L209.3 370.3Z" fill="#ff8000"/><path d="M168.1 372.4L173 370.2L168.7 369.1L163.9 371.4Z" fill="#ff7f00"/><path d="M204.7 371.9L209.3 370.3L204.8 368L200.2 369.6Z" fill="#ff7600"/><path d="M255.1 386.3L259.3 385.4L254.6 381.1L250.3 382Z" fill="#fffc00"/><path d="M177.3 371.6L182 369.5L177.7 368.1L173 370.2Z" fill="#ff7500"/><path d="M195.6 371.3L200.2 369.6L195.8 367.6L191.1 369.3Z" fill="#ff7000"/><path d="M186.4 371.2L191.1 369.3L186.8 367.6L182 369.5Z" fill="#ff7000"/><path d="M246 383L250.3 382L245.6 378L241.3 379Z" fill="#ffd900"/><path d="M236.8 380.2L241.3 379L236.6 375.4L232.2 376.5Z" fill="#ffbc00"/><path d="M227.7 377.8L232.2 376.5L227.5 373.2L223 374.5Z" fill="#ffa300"/><path d="M259.9 390.9L264.1 390L259.3 385.4L255.1 386.3Z" fill="#e1ff00"/><path d="M218.5 375.9L223 374.5L218.4 371.5L213.9 373Z" fill="#ff9000"/><path d="M163.2 374.9L168.1 372.4L163.9 371.4L159 373.8Z" fill="#ff8900"/><path d="M209.3 374.6L213.9 373L209.3 370.3L204.7 371.9Z" fill="#ff8200"/><path d="M172.4 373.8L177.3 371.6L173 370.2L168.1 372.4Z" fill="#ff7d00"/><path d="M200.1 373.7L204.7 371.9L200.2 369.6L195.6 371.3Z" fill="#ff7900"/><path d="M181.6 373.3L186.4 371.2L182 369.5L177.3 371.6Z" fill="#ff7700"/><path d="M190.9 373.2L195.6 371.3L191.1 369.3L186.4 371.2Z" fill="#ff7500"/><path d="M250.8 387.3L255.1 386.3L250.3 382L246 383Z" fill="#fff700"/><path d="M241.6 384.1L246 383L241.3 379L236.8 380.2Z" fill="#ffd600"/><path d="M232.4 381.5L236.8 380.2L232.2 376.5L227.7 377.8Z" fill="#ffba00"/><path d="M223.2 379.3L227.7 377.8L223 374.5L218.5 375.9Z" fill="#ffa300"/><path d="M213.9 377.6L218.5 375.9L213.9 373L209.3 374.6Z" fill="#ff9200"/><path d="M255.6 391.9L259.9 390.9L255.1 386.3L250.8 387.3Z" fill="#e7ff00"/><path d="M167.5 376.3L172.4 373.8L168.1 372.4L163.2 374.9Z" fill="#ff8800"/><path d="M204.6 376.3L209.3 374.6L204.7 371.9L200.1 373.7Z" fill="#ff8500"/><path d="M176.8 375.6L181.6 373.3L177.3 371.6L172.4 373.8Z" fill="#ff7f00"/><path d="M195.4 375.6L200.1 373.7L195.6 371.3L190.9 373.2Z" fill="#ff7e00"/><path d="M186.1 375.3L190.9 373.2L186.4 371.2L181.6 373.3Z" fill="#ff7c00"/><path d="M246.4 388.5L250.8 387.3L246 383L241.6 384.1Z" fill="#fff300"/><path d="M237.1 385.5L241.6 384.1L236.8 380.2L232.4 381.5Z" fill="#ffd400"/><path d="M227.9 383L232.4 381.5L227.7 377.8L223.2 379.3Z" fill="#ffba00"/><path d="M218.6 380.9L223.2 379.3L218.5 375.9L213.9 377.6Z" fill="#ffa500"/><path d="M209.2 379.4L213.9 377.6L209.3 374.6L204.6 376.3Z" fill="#ff9500"/><path d="M251.2 393.2L255.6 391.9L250.8 387.3L246.4 388.5Z" fill="#ebff00"/><path d="M199.9 378.3L204.6 376.3L200.1 373.7L195.4 375.6Z" fill="#ff8a00"/><path d="M171.9 378L176.8 375.6L172.4 373.8L167.5 376.3Z" fill="#ff8a00"/><path d="M190.6 377.7L195.4 375.6L190.9 373.2L186.1 375.3Z" fill="#ff8500"/><path d="M181.2 377.6L186.1 375.3L181.6 373.3L176.8 375.6Z" fill="#ff8500"/><path d="M241.9 389.8L246.4 388.5L241.6 384.1L237.1 385.5Z" fill="#fff100"/><path d="M232.6 387L237.1 385.5L232.4 381.5L227.9 383Z" fill="#ffd300"/><path d="M223.3 384.6L227.9 383L223.2 379.3L218.6 380.9Z" fill="#ffbb00"/><path d="M213.9 382.7L218.6 380.9L213.9 377.6L209.2 379.4Z" fill="#ffa800"/><path d="M204.5 381.3L209.2 379.4L204.6 376.3L199.9 378.3Z" fill="#ff9a00"/><path d="M195.1 380.4L199.9 378.3L195.4 375.6L190.6 377.7Z" fill="#ff9100"/><path d="M176.3 380.1L181.2 377.6L176.8 375.6L171.9 378Z" fill="#ff8f00"/><path d="M185.7 380L190.6 377.7L186.1 375.3L181.2 377.6Z" fill="#ff8d00"/><path d="M246.8 394.5L251.2 393.2L246.4 388.5L241.9 389.8Z" fill="#edff00"/><path d="M237.4 391.4L241.9 389.8L237.1 385.5L232.6 387Z" fill="#fff000"/><path d="M228 388.7L232.6 387L227.9 383L223.3 384.6Z" fill="#ffd400"/><path d="M218.6 386.4L223.3 384.6L218.6 380.9L213.9 382.7Z" fill="#ffbe00"/><path d="M209.2 384.7L213.9 382.7L209.2 379.4L204.5 381.3Z" fill="#ffac00"/><path d="M199.7 383.5L204.5 381.3L199.9 378.3L195.1 380.4Z" fill="#ffa000"/><path d="M190.3 382.7L195.1 380.4L190.6 377.7L185.7 380Z" fill="#ff9900"/><path d="M180.8 382.5L185.7 380L181.2 377.6L176.3 380.1Z" fill="#ff9700"/><path d="M242.3 396.1L246.8 394.5L241.9 389.8L237.4 391.4Z" fill="#eeff00"/><path d="M232.8 393.1L237.4 391.4L232.6 387L228 388.7Z" fill="#fff100"/><path d="M223.4 390.5L228 388.7L223.3 384.6L218.6 386.4Z" fill="#ffd700"/><path d="M213.9 388.4L218.6 386.4L213.9 382.7L209.2 384.7Z" fill="#ffc200"/><path d="M204.4 386.9L209.2 384.7L204.5 381.3L199.7 383.5Z" fill="#ffb300"/><path d="M194.9 385.8L199.7 383.5L195.1 380.4L190.3 382.7Z" fill="#ffa800"/><path d="M185.4 385.2L190.3 382.7L185.7 380L180.8 382.5Z" fill="#ffa300"/><path d="M237.7 397.8L242.3 396.1L237.4 391.4L232.8 393.1Z" fill="#edff00"/><path d="M228.2 394.9L232.8 393.1L228 388.7L223.4 390.5Z" fill="#fff400"/><path d="M218.7 392.5L223.4 390.5L218.6 386.4L213.9 388.4Z" fill="#ffdb00"/><path d="M209.1 390.6L213.9 388.4L209.2 384.7L204.4 386.9Z" fill="#ffc800"/><path d="M199.6 389.2L204.4 386.9L199.7 383.5L194.9 385.8Z" fill="#ffbb00"/><path d="M190 388.3L194.9 385.8L190.3 382.7L185.4 385.2Z" fill="#ffb200"/><path d="M233.1 399.7L237.7 397.8L232.8 393.1L228.2 394.9Z" fill="#ebff00"/><path d="M223.5 397L228.2 394.9L223.4 390.5L218.7 392.5Z" fill="#fff800"/><path d="M213.9 394.7L218.7 392.5L213.9 388.4L209.1 390.6Z" fill="#ffe100"/><path d="M204.3 393L209.1 390.6L204.4 386.9L199.6 389.2Z" fill="#ffd000"/><path d="M194.7 391.8L199.6 389.2L194.9 385.8L190 388.3Z" fill="#ffc400"/><path d="M228.4 401.8L233.1 399.7L228.2 394.9L223.5 397Z" fill="#e6ff00"/><path d="M218.7 399.2L223.5 397L218.7 392.5L213.9 394.7Z" fill="#fffe00"/><path d="M209.1 397.1L213.9 394.7L209.1 390.6L204.3 393Z" fill="#ffe900"/><path d="M199.4 395.6L204.3 393L199.6 389.2L194.7 391.8Z" fill="#ffda00"/><path d="M223.6 404.1L228.4 401.8L223.5 397L218.7 399.2Z" fill="#e1ff00"/><path d="M213.9 401.7L218.7 399.2L213.9 394.7L209.1 397.1Z" fill="#f9ff00"/><path d="M204.2 399.7L209.1 397.1L204.3 393L199.4 395.6Z" fill="#fff200"/><path d="M218.8 406.5L223.6 404.1L218.7 399.2L213.9 401.7Z" fill="#d9ff00"/><path d="M209 404.3L213.9 401.7L209.1 397.1L204.2 399.7Z" fill="#f0ff00"/><path d="M213.9 409.2L218.8 406.5L213.9 401.7L209 404.3Z" fill="#d1ff00"/></g>
<circle cx="213.8" cy="347.5" r="1.7" fill="#c80000" stroke="#600" stroke-width="0.35"/>
<circle cx="213.8" cy="354.2" r="1.7" fill="#c80000" stroke="#600" stroke-width="0.35"/>
<circle cx="213.8" cy="356.8" r="1.7" fill="#c80000" stroke="#600" stroke-width="0.35"/>
<text x="128" y="433.3" font-size="4.9" text-anchor="end" fill="#1a1a1a" stroke="#1a1a1a" stroke-width="0.11" textLength="5.77" lengthAdjust="spacingAndGlyphs">6.5</text>
<text x="126.7" y="404.4" font-size="4.9" text-anchor="end" fill="#1a1a1a" stroke="#1a1a1a" stroke-width="0.11" textLength="2.31" lengthAdjust="spacingAndGlyphs">7</text>
<text x="125.4" y="375.5" font-size="4.9" text-anchor="end" fill="#1a1a1a" stroke="#1a1a1a" stroke-width="0.11" textLength="5.77" lengthAdjust="spacingAndGlyphs">7.5</text>
<text x="124.2" y="346.6" font-size="4.9" text-anchor="end" fill="#1a1a1a" stroke="#1a1a1a" stroke-width="0.11" textLength="2.31" lengthAdjust="spacingAndGlyphs">8</text>
<text x="129.1" y="466.2" font-size="4.9" text-anchor="end" fill="#1a1a1a" stroke="#1a1a1a" stroke-width="0.11" textLength="2.31" lengthAdjust="spacingAndGlyphs">6</text>
<text x="149.7" y="476.2" font-size="4.9" text-anchor="end" fill="#1a1a1a" stroke="#1a1a1a" stroke-width="0.11" textLength="5.77" lengthAdjust="spacingAndGlyphs">5.5</text>
<text x="170.4" y="486.1" font-size="4.9" text-anchor="end" fill="#1a1a1a" stroke="#1a1a1a" stroke-width="0.11" textLength="2.31" lengthAdjust="spacingAndGlyphs">5</text>
<text x="191" y="496" font-size="4.9" text-anchor="end" fill="#1a1a1a" stroke="#1a1a1a" stroke-width="0.11" textLength="5.77" lengthAdjust="spacingAndGlyphs">4.5</text>
<text x="211.6" y="505.9" font-size="4.9" text-anchor="end" fill="#1a1a1a" stroke="#1a1a1a" stroke-width="0.11" textLength="2.31" lengthAdjust="spacingAndGlyphs">4</text>
<text x="216.2" y="505.9" font-size="4.9" fill="#1a1a1a" stroke="#1a1a1a" stroke-width="0.11" textLength="2.31" lengthAdjust="spacingAndGlyphs">5</text>
<text x="236.9" y="496" font-size="4.9" fill="#1a1a1a" stroke="#1a1a1a" stroke-width="0.11" textLength="5.77" lengthAdjust="spacingAndGlyphs">5.5</text>
<text x="257.5" y="486" font-size="4.9" fill="#1a1a1a" stroke="#1a1a1a" stroke-width="0.11" textLength="2.31" lengthAdjust="spacingAndGlyphs">6</text>
<text x="278.1" y="476.1" font-size="4.9" fill="#1a1a1a" stroke="#1a1a1a" stroke-width="0.11" textLength="5.77" lengthAdjust="spacingAndGlyphs">6.5</text>
<text x="298.7" y="466.2" font-size="4.9" fill="#1a1a1a" stroke="#1a1a1a" stroke-width="0.11" textLength="2.31" lengthAdjust="spacingAndGlyphs">7</text>
<path d="M129.4 433.6h1.3v1.3h-1.3zM128.2 404.7h1.3v1.3h-1.3zM126.9 375.7h1.3v1.3h-1.3zM125.6 346.8h1.3v1.3h-1.3zM130.6 460.7h1.3v1.3h-1.3zM151.3 470.6h1.3v1.3h-1.3zM171.9 480.5h1.3v1.3h-1.3zM192.6 490.4h1.3v1.3h-1.3zM213.2 500.4h1.3v1.3h-1.3zM213.2 500.4h1.3v1.3h-1.3zM233.8 490.4h1.3v1.3h-1.3zM254.4 480.5h1.3v1.3h-1.3zM275 470.5h1.3v1.3h-1.3zM295.6 460.6h1.3v1.3h-1.3z" fill="#111"/>
<text x="110.9" y="497.6" font-size="5.3" fill="#1a1a1a" stroke="#1a1a1a" stroke-width="0.12" textLength="60.30" lengthAdjust="spacingAndGlyphs">B: Mahua flower extract (%)</text>
<text x="268.9" y="497.5" font-size="5.3" fill="#1a1a1a" stroke="#1a1a1a" stroke-width="0.12" textLength="35.20" lengthAdjust="spacingAndGlyphs">A: BTM flour (%)</text>
<text transform="translate(100.5 406.2) rotate(-90)" font-size="5.1" text-anchor="middle" fill="#1a1a1a">Color &amp; Appearance</text>
<text x="206.6" y="543.2" font-family='"Liberation Serif", serif' font-size="17.8" font-weight="bold" textLength="11.6" lengthAdjust="spacingAndGlyphs">C</text>
<rect x="357" y="285.3" width="74.9" height="120" fill="#fff" stroke="#c8c8c8" stroke-width="0.8"/>
<text x="357.5" y="373.8" font-size="6.2" fill="#111" stroke="#111" stroke-width="0.14" textLength="71.40" lengthAdjust="spacingAndGlyphs">X2 = B: Mahua flower extract</text>
<text x="357.5" y="392.1" font-size="6.2" font-weight="bold" fill="#111" stroke="#111" stroke-width="0.19" textLength="34.50" lengthAdjust="spacingAndGlyphs">Actual Factor</text>
<text x="357.5" y="401" font-size="6.2" fill="#111" stroke="#111" stroke-width="0.14" textLength="50.30" lengthAdjust="spacingAndGlyphs">C: temprature = 175</text>
<rect x="357.4" y="285.8" width="52.7" height="85.5" fill="#fff"/>
<path d="M410.1 285.4V371.2" stroke="#c0c0c0" stroke-width="0.8"/>
<text x="357.5" y="290.5" font-size="4.6" fill="#1a1a1a" stroke="#1a1a1a" stroke-width="0.10" textLength="38.10" lengthAdjust="spacingAndGlyphs">Factor Coding: Actual</text>
<text x="357.5" y="303.4" font-size="4.6" font-weight="bold" fill="#000" stroke="#000" stroke-width="0.14" textLength="12.92" lengthAdjust="spacingAndGlyphs">Aroma</text>
<text x="357.5" y="309.7" font-size="4.6" fill="#1a1a1a" stroke="#1a1a1a" stroke-width="0.10" textLength="25.79" lengthAdjust="spacingAndGlyphs">Design Points:</text>
<circle cx="361.5" cy="315" r="1.9" fill="#b00000" stroke="#500" stroke-width="0.3"/>
<text x="365.8" y="316.6" font-size="4.6" fill="#c8102e" stroke="#c8102e" stroke-width="0.10" textLength="26.24" lengthAdjust="spacingAndGlyphs">Above Surface</text>
<circle cx="361.5" cy="320.9" r="1.85" fill="#f7c0c0" stroke="#500" stroke-width="0.4"/>
<text x="365.8" y="322.5" font-size="4.6" fill="#c8102e" stroke="#c8102e" stroke-width="0.10" textLength="25.79" lengthAdjust="spacingAndGlyphs">Below Surface</text>
<text x="357.3" y="329.3" font-size="4.6" fill="#1a1a1a" stroke="#1a1a1a" stroke-width="0.10" textLength="7.78" lengthAdjust="spacingAndGlyphs">6.87</text>
<defs><linearGradient id="gD"><stop offset="0" stop-color="#0000ff"/><stop offset="0.5" stop-color="#00ff00"/><stop offset="1" stop-color="#ff0000"/></linearGradient></defs>
<rect x="366.2" y="325.1" width="14.3" height="5.6" fill="url(#gD)" stroke="#111" stroke-width="0.45"/>
<text x="382.2" y="329.3" font-size="4.6" fill="#1a1a1a" stroke="#1a1a1a" stroke-width="0.10" textLength="5.56" lengthAdjust="spacingAndGlyphs">8.1</text>
<text x="357.5" y="342.1" font-size="4.6" fill="#1a1a1a" stroke="#1a1a1a" stroke-width="0.10" textLength="31.46" lengthAdjust="spacingAndGlyphs">X1 = A: BTM flour</text>
<text x="357.5" y="348.8" font-size="4.6" fill="#1a1a1a" stroke="#1a1a1a" stroke-width="0.10" textLength="51.60" lengthAdjust="spacingAndGlyphs">X2 = B: Mahua flower extract</text>
<text x="357.5" y="361.2" font-size="4.6" font-weight="bold" fill="#000" stroke="#000" stroke-width="0.14" textLength="25.56" lengthAdjust="spacingAndGlyphs">Actual Factor</text>
<text x="357.5" y="368.1" font-size="4.6" fill="#1a1a1a" stroke="#1a1a1a" stroke-width="0.10" textLength="35.68" lengthAdjust="spacingAndGlyphs">C: temprature = 175</text>
<g transform="translate(405 365) scale(5.4)"><path d="M0.08 0 V0.93 H1 M0.08 0.05 H0.3 M0.93 0.93 V0.72" fill="none" stroke="#000" stroke-width="0.230"/><path d="M0.97 0.04 L0.56 0.45" fill="none" stroke="#000" stroke-width="0.210"/><path d="M0.35 0.25 L0.35 0.64 L0.74 0.64 Z" fill="#000"/></g>
<g transform="translate(423.3 396.6) scale(8.6)"><path d="M0.08 0 V0.93 H1 M0.08 0.05 H0.3 M0.93 0.93 V0.72" fill="none" stroke="#000" stroke-width="0.197"/><path d="M0.97 0.04 L0.56 0.45" fill="none" stroke="#000" stroke-width="0.184"/><path d="M0.35 0.25 L0.35 0.64 L0.74 0.64 Z" fill="#000"/></g>
<text x="551" y="296.7" font-size="8.9" fill="#1a1a1a" textLength="38.50" lengthAdjust="spacingAndGlyphs">3D Surface</text>
<path d="M555.8 430L555.9 327.2" stroke="#c4c4c4" stroke-width="1.3" fill="none"/>
<path d="M493 427.1L490.2 342.4M618.6 427L621.6 342.4M513.9 419.9L512.1 337.4M597.7 419.9L599.7 337.3M534.9 412.7L534 332.3M576.7 412.7L577.8 332.3" stroke="#5a5a5a" stroke-width="0.6" fill="none"/>
<path d="M638.3 461.3L643.5 347.4" stroke="#6e6e6e" stroke-width="0.6" fill="none"/>
<path d="M472.1 434.2L555.8 405.6L639.5 434.1M471.5 421.8L555.8 394.4L640.1 421.8M471 409.4L555.8 383.2L640.7 409.4M470.5 397L555.8 372L641.2 397M469.9 384.6L555.8 360.8L641.8 384.6M469.4 372.3L555.8 349.6L642.3 372.2M468.8 359.9L555.8 338.4L642.9 359.8M468.3 347.5L555.9 327.2L643.5 347.4" stroke="#2e2e2e" stroke-width="0.6" fill="none"/>
<path d="M473.3 461.3L468.3 347.5" stroke="#1a1a1a" stroke-width="0.65" fill="none"/>
<path d="M555.8 501L638.3 461.3L555.8 430L473.3 461.3Z" fill="#646464" stroke="#111" stroke-width="0.8" stroke-linejoin="round"/>
<path d="M545.5 493.5L544.8 493.7M547.1 493L545.5 493.5M548.6 492.5L547.1 493M550.1 492L548.6 492.5M551.6 491.4L550.1 492M553 490.9L551.6 491.4M554.3 490.3L553 490.9M555.6 489.7L554.3 490.3M556.9 489.1L555.6 489.7M558.1 488.5L556.9 489.1M559.3 487.8L558.1 488.5M560.4 487.2L559.3 487.8M561.5 486.5L560.4 487.2M562.6 485.8L561.5 486.5M563.6 485.1L562.6 485.8M564.4 484.6L563.6 485.1M543.8 494L542.1 494.4M544.8 493.7L543.8 494M564.4 484.6L564.7 484.4M565.6 483.7L564.7 484.4M566.5 483L565.6 483.7M567.4 482.3L566.5 483M568.1 481.8L567.4 482.3M568.1 481.8L568.3 481.5M569.1 480.8L568.3 481.5M569.9 480L569.1 480.8M570.5 479.5L569.9 480M570.5 479.5L570.7 479.3M571.4 478.5L570.7 479.3M572.1 477.7L571.4 478.5M572.3 477.5L572.1 477.7M572.3 477.5L572.8 476.9M573.4 476.1L572.8 476.9M573.7 475.7L573.4 476.1M573.7 475.7L574 475.3M574.6 474.5L574 475.3M574.8 474.1L574.6 474.5M574.8 474.1L575.1 473.6M575.6 472.8L575.1 473.6M575.7 472.6L575.6 472.8M575.7 472.6L576 471.9M576.4 471.1L576 471.9M576.4 471.1L576.5 471.1M576.8 470.2L576.5 471.1M577 469.8L576.8 470.2M577 469.8L577.2 469.3M577.4 468.5L577.2 469.3M577.4 468.5L577.5 468.4M577.7 467.5L577.5 468.4M577.8 467.3L577.7 467.5M577.8 467.3L577.9 466.6M578 466.1L577.9 466.6M578 466.1L578.1 465.7M578.2 465L578.1 465.7M578.2 465L578.2 464.7M578.2 463.9L578.2 464.7M578.2 463.9L578.3 463.7M578.3 462.8L578.3 463.7M578.3 462.8L578.3 462.8M578.2 461.8L578.3 462.8M578.2 461.8L578.2 461.8M578.1 460.8L578.2 461.8M578.1 460.8L578.1 460.7M577.9 459.9L578.1 460.7M577.9 459.9L577.9 459.7M577.7 459L577.9 459.7M577.7 459L577.6 458.6M577.4 458.1L577.6 458.6M577.4 458.1L577.2 457.5M577.1 457.2L577.2 457.5M577.1 457.2L576.7 456.4M576.7 456.4L576.7 456.4M576.7 456.4L576.3 455.6M576.3 455.6L576.1 455.2M575.8 454.8L576.1 455.2M575.8 454.8L575.3 454M575.3 454L575.3 453.9M574.7 453.3L575.3 453.9M574.7 453.3L574.2 452.6M574.2 452.5L574.2 452.6M574.2 452.5L573.5 451.8M573.5 451.8L572.9 451.2M572.9 451.2L572.9 451.2M572.2 450.5L572.9 451.2M572.2 450.5L571.4 449.9M571.4 449.9L570.9 449.5M570.6 449.3L570.9 449.5M570.6 449.3L569.8 448.7M569.8 448.7L568.9 448.1M568.9 448.1L568 447.5M568 447.5L567.4 447.2M567.1 447L567.4 447.2M567.1 447L566.1 446.5M566.1 446.5L565 446M565 446L564 445.5M564 445.5L562.8 445.1M562.8 445.1L561.7 444.7M561.7 444.7L560.4 444.3M492.6 470.6L492.6 470.6M560.4 444.3L559.1 443.9M492.6 470.6L492.9 469.6M492.9 469.5L492.9 469.6M559.1 443.9L557.8 443.6M559.1 443.9L559.1 443.9M492.9 469.5L493.3 468.6M493.4 468.4L493.3 468.6M557.8 443.6L556.4 443.2M493.4 468.4L493.7 467.7M493.9 467.2L493.7 467.7M556.4 443.2L554.9 443M493.9 467.2L494.1 466.7M494.5 466L494.1 466.7M554.3 442.9L553.3 442.7M554.9 443L554.3 442.9M494.5 466L494.6 465.8M495.1 464.9L494.6 465.8M495.2 464.8L495.1 464.9M553.3 442.7L551.6 442.5M495.2 464.8L495.6 464.1M496 463.5L495.6 464.1M550.9 442.4L549.9 442.3M551.6 442.5L550.9 442.4M496 463.5L496.2 463.2M496.8 462.4L496.2 463.2M496.9 462.2L496.8 462.4M548.2 442.2L548 442.2M549.9 442.3L548.2 442.2M496.9 462.2L497.4 461.6M498 460.9L497.4 461.6M548 442.2L546 442.1M498 460.9L498.1 460.8M498.8 460L498.1 460.8M499.3 459.5L498.8 460M545.8 442.1L543.8 442.1M546 442.1L545.8 442.1M499.3 459.5L499.5 459.3M500.2 458.6L499.5 459.3M500.8 458L500.2 458.6M541.5 442.2L541.4 442.2M543.6 442.1L541.5 442.2M543.8 442.1L543.6 442.1M500.8 458L501 457.8M501.7 457.1L501 457.8M502.5 456.4L501.7 457.1M502.6 456.4L502.5 456.4M539.6 442.3L538.7 442.4M541.4 442.2L539.6 442.3M502.6 456.4L503.4 455.8M504.2 455.1L503.4 455.8M504.9 454.6L504.2 455.1M536.1 442.7L535.6 442.7M537.8 442.5L536.1 442.7M538.7 442.4L537.8 442.5M504.9 454.6L505.1 454.5M505.9 453.8L505.1 454.5M506.8 453.2L505.9 453.8M507.8 452.6L506.8 453.2M532.8 443.1L531.9 443.3M534.4 442.9L532.8 443.1M535.6 442.7L534.4 442.9M507.8 452.6L507.8 452.6M508.7 452L507.8 452.6M509.7 451.4L508.7 452M510.7 450.9L509.7 451.4M511.7 450.3L510.7 450.9M512.2 450L511.7 450.3M527 444.4L526.6 444.5M528.4 444L527 444.4M529.8 443.7L528.4 444M531.3 443.4L529.8 443.7M531.9 443.3L531.3 443.4M512.2 450L512.7 449.8M513.7 449.2L512.7 449.8M514.8 448.7L513.7 449.2M515.9 448.2L514.8 448.7M517 447.7L515.9 448.2M518.2 447.3L517 447.7M519.3 446.8L518.2 447.3M520.5 446.4L519.3 446.8M521.8 445.9L520.5 446.4M523 445.5L521.8 445.9M524.3 445.1L523 445.5M525.6 444.8L524.3 445.1M526.6 444.5L525.6 444.8" stroke="#00f4ff" stroke-width="0.75" fill="none" stroke-linecap="round"/>
<path d="M582.6 488.1L582.8 488M583.6 487.2L582.8 488M584.4 486.4L583.6 487.2M585.1 485.7L584.4 486.4M585.1 485.7L585.1 485.6M585.9 484.8L585.1 485.6M586.6 484L585.9 484.8M587 483.6L586.6 484M587 483.6L587.3 483.2M587.9 482.4L587.3 483.2M588.5 481.6L587.9 482.4M588.5 481.6L588.6 481.6M589.2 480.7L588.6 481.6M589.8 479.9L589.2 480.7M589.8 479.8L589.8 479.9M589.8 479.8L590.3 479.1M590.8 478.2L590.3 479.1M590.9 478.1L590.8 478.2M590.9 478.1L591.3 477.4M591.8 476.5L591.3 477.4M591.9 476.5L591.8 476.5M591.9 476.5L592.3 475.7M592.6 474.9L592.3 475.7M592.6 474.9L592.7 474.8M593.1 474L592.7 474.8M593.3 473.5L593.1 474M593.3 473.5L593.5 473.1M593.8 472.2L593.5 473.1M593.9 472.1L593.8 472.2M593.9 472.1L594.1 471.3M594.3 470.7L594.1 471.3M594.3 470.7L594.4 470.4M594.7 469.5L594.4 470.4M594.7 469.4L594.7 469.5M594.7 469.4L594.9 468.6M595 468.2L594.9 468.6M595 468.2L595.1 467.7M595.2 467L595.1 467.7M595.2 467L595.2 466.8M595.4 465.9L595.2 466.8M595.4 465.8L595.4 465.9M595.4 465.8L595.4 464.9M595.5 464.7L595.4 464.9M595.5 464.7L595.5 464M595.5 463.6L595.5 464M595.5 463.6L595.5 463M595.5 462.5L595.5 463M595.5 462.5L595.5 462.1M595.5 461.5L595.5 462.1M595.5 461.5L595.4 461.1M595.4 460.4L595.4 461.1M595.4 460.4L595.3 460.1M595.2 459.5L595.3 460.1M595.2 459.5L595.2 459.1M595 458.5L595.2 459.1M595 458.5L595 458.1M594.8 457.6L595 458.1M594.8 457.6L594.7 457.1M594.6 456.6L594.7 457.1M594.6 456.6L594.4 456M594.3 455.7L594.4 456M594.3 455.7L594 455M594 454.9L594 455M594 454.9L593.6 454M593.6 454L593.6 453.9M593.2 453.2L593.6 453.9M593.2 453.2L593 452.8M592.8 452.4L593 452.8M592.8 452.4L592.4 451.7M592.4 451.6L592.4 451.7M592.4 451.6L591.9 450.8M591.9 450.8L591.7 450.5M591.4 450L591.7 450.5M591.4 450L590.8 449.3M590.8 449.3L590.8 449.3M590.3 448.6L590.8 449.3M590.3 448.6L589.8 448M589.7 447.9L589.8 448M589.7 447.9L589.1 447.2M589.1 447.2L588.7 446.7M588.4 446.5L588.7 446.7M588.4 446.5L587.8 445.8M587.8 445.8L587.2 445.3M587.1 445.2L587.2 445.3M587.1 445.2L586.4 444.6M586.4 444.6L585.6 443.9M585.6 443.9L585.4 443.8M584.9 443.3L585.4 443.8M584.9 443.3L584.1 442.7M584.1 442.7L583.2 442.2M583.2 442.2L583 442M582.4 441.6L583 442M582.4 441.6L581.5 441.1M581.5 441.1L580.6 440.5M580.6 440.5L579.7 440M579.7 440L579 439.6M578.8 439.5L579 439.6M578.8 439.5L577.8 439M577.8 439L576.8 438.6M576.8 438.6L575.7 438.1M575.7 438.1L574.6 437.7M574.6 437.7L573.5 437.2M573.5 437.2L572.4 436.8M572.4 436.8L571.2 436.4M571.2 436.4L570 436.1M570 436.1L568.8 435.7M568 435.5L567.5 435.4M568.8 435.7L568 435.5M567.5 435.4L566.2 435M566.2 435L564.9 434.7M564.9 434.7L563.4 434.4M562.8 434.3L562 434.2M563.4 434.4L562.8 434.3M562 434.2L560.5 433.9M559.1 433.7L558.9 433.7M560.5 433.9L559.1 433.7M558.9 433.7L557.3 433.5M479.1 463L478.5 463.9M479.4 462.6L479.1 463M556.1 433.4L555.6 433.3M557.3 433.5L556.1 433.4M479.4 462.6L479.7 462.2M480.3 461.4L479.7 462.2M555.6 433.3L553.8 433.2M480.3 461.4L480.3 461.3M481 460.5L480.3 461.3M481.4 460L481 460.5M553.4 433.2L552 433.1M553.8 433.2L553.4 433.2M481.4 460L481.7 459.7M482.3 459L481.7 459.7M482.6 458.7L482.3 459M551 433.1L550 433M552 433.1L551 433.1M482.6 458.7L483.1 458.2M483.8 457.4L483.1 458.2M483.9 457.3L483.8 457.4M548.7 433L547.9 433M550 433L548.7 433" stroke="#00ffa0" stroke-width="0.75" fill="none" stroke-linecap="round"/>
<path d="M605.8 476.9L606 476.3M606.4 475.5L606 476.3M606.4 475.5L606.4 475.4M606.7 474.5L606.4 475.4M606.9 474L606.7 474.5M606.9 474L607 473.6M607.3 472.7L607 473.6M607.4 472.6L607.3 472.7M607.4 472.6L607.6 471.8M607.7 471.3L607.6 471.8M607.7 471.3L607.8 470.9M608 470L607.8 470.9M608 470L608 470M608 470L608.2 469.1M608.3 468.7L608.2 469.1M608.3 468.7L608.4 468.2M608.5 467.5L608.4 468.2M608.5 467.5L608.5 467.3M608.6 466.4L608.5 467.3M608.6 466.3L608.6 466.4M608.6 466.3L608.7 465.4M608.7 465.2L608.7 465.4M608.7 465.2L608.7 464.5M608.7 464.1L608.7 464.5M608.7 464.1L608.7 463.6M608.7 463L608.7 463.6M608.7 463L608.7 462.6M608.7 461.9L608.7 462.6M608.7 461.9L608.7 461.7M608.6 460.8L608.7 461.7M608.6 460.8L608.6 460.7M608.5 459.8L608.6 460.7M608.5 459.8L608.5 459.7M608.3 458.8L608.5 459.7M608.3 458.8L608.3 458.8M608.1 457.8L608.3 458.8M608.1 457.8L608.1 457.8M607.9 456.9L608.1 457.8M607.9 456.9L607.9 456.8M607.7 456L607.9 456.8M607.7 456L607.6 455.8M607.4 455L607.6 455.8M607.4 455L607.3 454.8M607.1 454.1L607.3 454.8M607.1 454.1L606.9 453.7M606.8 453.3L606.9 453.7M606.8 453.3L606.5 452.7M606.4 452.4L606.5 452.7M606.4 452.4L606.1 451.6M606 451.6L606.1 451.6M606 451.6L605.6 450.7M605.6 450.7L605.5 450.6M605.2 449.9L605.5 450.6M605.2 449.9L604.9 449.5M604.7 449.1L604.9 449.5M604.7 449.1L604.3 448.4" stroke="#00ff37" stroke-width="0.75" fill="none" stroke-linecap="round"/>
<path d="M619.3 470.4L619.4 469.7M619.5 469.1L619.4 469.7M619.5 469.1L619.6 468.8M619.7 467.9L619.6 468.8M619.7 467.9L619.7 467.9M619.8 467L619.7 467.9M619.8 466.7L619.8 467M619.8 466.7L619.8 466.1M619.8 465.5L619.8 466.1M619.8 465.5L619.9 465.1M619.9 464.4L619.9 465.1M619.9 464.4L619.9 464.2M619.9 463.3L619.9 464.2M619.9 463.3L619.9 463.3M619.8 462.3L619.9 463.3M619.8 462.2L619.8 462.3M619.8 462.2L619.7 461.4M619.7 461.1L619.7 461.4M619.7 461.1L619.6 460.4M619.6 460.1L619.6 460.4M619.6 460.1L619.5 459.5M619.5 459.1L619.5 459.5M619.5 459.1L619.4 458.5M619.3 458.1L619.4 458.5M619.3 458.1L619.2 457.5M619.1 457.1L619.2 457.5M619.1 457.1L618.9 456.6M618.8 456.1L618.9 456.6M618.8 456.1L618.7 455.6M618.6 455.2L618.7 455.6M618.6 455.2L618.4 454.6M618.3 454.3L618.4 454.6M618.3 454.3L618.1 453.6" stroke="#33ff00" stroke-width="0.75" fill="none" stroke-linecap="round"/>
<path d="M629.7 465.4L629.7 465.2M629.7 464.3L629.7 465.2M629.7 464.3L629.7 464.3M629.7 464.3L629.7 463.4M629.6 463.1L629.7 463.4M629.6 463.1L629.6 462.4M629.6 462.1L629.6 462.4M629.6 462.1L629.5 461.5M629.5 461L629.5 461.5M629.5 461L629.4 460.6M629.3 459.9L629.4 460.6M629.3 459.9L629.3 459.6M629.2 458.9L629.3 459.6M629.2 458.9L629.1 458.7M629 457.9L629.1 458.7M629 457.9L628.9 457.7" stroke="#9dff00" stroke-width="0.75" fill="none" stroke-linecap="round"/>
<g stroke="#000" stroke-opacity="0.45" stroke-width="0.65" stroke-linejoin="round"><path d="M555.8 378.5L559.6 375.6L555.8 373.4L552 376.2Z" fill="#00ff85"/><path d="M552 381.2L555.8 378.5L552 376.2L548.2 378.8Z" fill="#00ff9c"/><path d="M559.7 380.6L563.5 377.6L559.6 375.6L555.8 378.5Z" fill="#00ff93"/><path d="M548.1 383.8L552 381.2L548.2 378.8L544.3 381.3Z" fill="#00ffb1"/><path d="M555.8 383.4L559.7 380.6L555.8 378.5L552 381.2Z" fill="#00ffac"/><path d="M563.6 382.4L567.4 379.3L563.5 377.6L559.7 380.6Z" fill="#00ff9e"/><path d="M544.2 386.3L548.1 383.8L544.3 381.3L540.3 383.6Z" fill="#00ffc4"/><path d="M551.9 386.1L555.8 383.4L552 381.2L548.1 383.8Z" fill="#00ffc2"/><path d="M559.7 385.4L563.6 382.4L559.7 380.6L555.8 383.4Z" fill="#00ffb8"/><path d="M567.5 384.1L571.3 380.9L567.4 379.3L563.6 382.4Z" fill="#00ffa6"/><path d="M548 388.7L551.9 386.1L548.1 383.8L544.2 386.3Z" fill="#00ffd6"/><path d="M540.2 388.5L544.2 386.3L540.3 383.6L536.4 385.8Z" fill="#00ffd4"/><path d="M555.8 388.2L559.7 385.4L555.8 383.4L551.9 386.1Z" fill="#00ffcf"/><path d="M563.7 387.1L567.5 384.1L563.6 382.4L559.7 385.4Z" fill="#00ffc1"/><path d="M571.5 385.4L575.3 382.1L571.3 380.9L567.5 384.1Z" fill="#00ffa9"/><path d="M544 391L548 388.7L544.2 386.3L540.2 388.5Z" fill="#00ffe7"/><path d="M551.9 390.8L555.8 388.2L551.9 386.1L548 388.7Z" fill="#00ffe4"/><path d="M536.2 390.7L540.2 388.5L536.4 385.8L532.4 387.8Z" fill="#00ffe1"/><path d="M559.8 390L563.7 387.1L559.7 385.4L555.8 388.2Z" fill="#00ffd9"/><path d="M567.6 388.6L571.5 385.4L567.5 384.1L563.7 387.1Z" fill="#00ffc5"/><path d="M575.5 386.6L579.4 383.2L575.3 382.1L571.5 385.4Z" fill="#00ffa9"/><path d="M547.9 393.3L551.9 390.8L548 388.7L544 391Z" fill="#00fff6"/><path d="M540 393.3L544 391L540.2 388.5L536.2 390.7Z" fill="#00fff5"/><path d="M555.8 392.8L559.8 390L555.8 388.2L551.9 390.8Z" fill="#00ffef"/><path d="M532.1 392.6L536.2 390.7L532.4 387.8L528.3 389.7Z" fill="#00ffeb"/><path d="M563.7 391.6L567.6 388.6L563.7 387.1L559.8 390Z" fill="#00ffdf"/><path d="M571.7 389.9L575.5 386.6L571.5 385.4L567.6 388.6Z" fill="#00ffc7"/><path d="M579.6 387.5L583.4 384L579.4 383.2L575.5 386.6Z" fill="#00ffa6"/><path d="M543.9 395.6L547.9 393.3L544 391L540 393.3Z" fill="#00f8ff"/><path d="M551.9 395.4L555.8 392.8L551.9 390.8L547.9 393.3Z" fill="#00fcff"/><path d="M536 395.3L540 393.3L536.2 390.7L532.1 392.6Z" fill="#00fdff"/><path d="M559.8 394.5L563.7 391.6L559.8 390L555.8 392.8Z" fill="#00fff6"/><path d="M528 394.4L532.1 392.6L528.3 389.7L524.2 391.4Z" fill="#00fff3"/><path d="M567.8 393L571.7 389.9L567.6 388.6L563.7 391.6Z" fill="#00ffe1"/><path d="M575.7 390.9L579.6 387.5L575.5 386.6L571.7 389.9Z" fill="#00ffc4"/><path d="M583.7 388.2L587.6 384.6L583.4 384L579.6 387.5Z" fill="#00ff9e"/><path d="M547.8 397.8L551.9 395.4L547.9 393.3L543.9 395.6Z" fill="#00ebff"/><path d="M539.9 397.8L543.9 395.6L540 393.3L536 395.3Z" fill="#00ebff"/><path d="M555.8 397.2L559.8 394.5L555.8 392.8L551.9 395.4Z" fill="#00f4ff"/><path d="M531.9 397.3L536 395.3L532.1 392.6L528 394.4Z" fill="#00f4ff"/><path d="M563.8 395.9L567.8 393L563.7 391.6L559.8 394.5Z" fill="#00fff9"/><path d="M523.9 396.1L528 394.4L524.2 391.4L520 393Z" fill="#00fff9"/><path d="M571.8 394.1L575.7 390.9L571.7 389.9L567.8 393Z" fill="#00ffe0"/><path d="M579.9 391.6L583.7 388.2L579.6 387.5L575.7 390.9Z" fill="#00ffbe"/><path d="M587.9 388.6L591.8 384.9L587.6 384.6L583.7 388.2Z" fill="#00ff94"/><path d="M543.8 400.1L547.8 397.8L543.9 395.6L539.9 397.8Z" fill="#00ddff"/><path d="M551.8 399.7L555.8 397.2L551.9 395.4L547.8 397.8Z" fill="#00e2ff"/><path d="M535.8 399.8L539.9 397.8L536 395.3L531.9 397.3Z" fill="#00e1ff"/><path d="M559.8 398.7L563.8 395.9L559.8 394.5L555.8 397.2Z" fill="#00efff"/><path d="M527.7 399L531.9 397.3L528 394.4L523.9 396.1Z" fill="#00edff"/><path d="M567.9 397.1L571.8 394.1L567.8 393L563.8 395.9Z" fill="#00fff9"/><path d="M519.7 397.6L523.9 396.1L520 393L515.8 394.3Z" fill="#00fffc"/><path d="M575.9 395L579.9 391.6L575.7 390.9L571.8 394.1Z" fill="#00ffdb"/><path d="M584 392.2L587.9 388.6L583.7 388.2L579.9 391.6Z" fill="#00ffb4"/><path d="M539.7 402.2L543.8 400.1L539.9 397.8L535.8 399.8Z" fill="#00d2ff"/><path d="M547.8 402.1L551.8 399.7L547.8 397.8L543.8 400.1Z" fill="#00d3ff"/><path d="M592.2 388.7L596 384.9L591.8 384.9L587.9 388.6Z" fill="#00ff85"/><path d="M531.6 401.7L535.8 399.8L531.9 397.3L527.7 399Z" fill="#00d9ff"/><path d="M555.8 401.4L559.8 398.7L555.8 397.2L551.8 399.7Z" fill="#00dcff"/><path d="M523.5 400.6L527.7 399L523.9 396.1L519.7 397.6Z" fill="#00e9ff"/><path d="M563.9 400L567.9 397.1L563.8 395.9L559.8 398.7Z" fill="#00eeff"/><path d="M515.4 398.9L519.7 397.6L515.8 394.3L511.6 395.5Z" fill="#00fffc"/><path d="M572 398.1L575.9 395L571.8 394.1L567.9 397.1Z" fill="#00fff5"/><path d="M580.1 395.6L584 392.2L579.9 391.6L575.9 395Z" fill="#00ffd2"/><path d="M588.3 392.4L592.2 388.7L587.9 388.6L584 392.2Z" fill="#00ffa7"/><path d="M543.7 404.3L547.8 402.1L543.8 400.1L539.7 402.2Z" fill="#00c6ff"/><path d="M535.5 404.1L539.7 402.2L535.8 399.8L531.6 401.7Z" fill="#00c9ff"/><path d="M551.8 403.9L555.8 401.4L551.8 399.7L547.8 402.1Z" fill="#00ccff"/><path d="M527.4 403.4L531.6 401.7L527.7 399L523.5 400.6Z" fill="#00d4ff"/><path d="M559.9 402.8L563.9 400L559.8 398.7L555.8 401.4Z" fill="#00daff"/><path d="M519.3 402L523.5 400.6L519.7 397.6L515.4 398.9Z" fill="#00e8ff"/><path d="M596.5 388.6L600.3 384.7L596 384.9L592.2 388.7Z" fill="#00ff73"/><path d="M568 401.1L572 398.1L567.9 397.1L563.9 400Z" fill="#00f1ff"/><path d="M511.1 400L515.4 398.9L511.6 395.5L507.3 396.6Z" fill="#00fffa"/><path d="M576.2 398.8L580.1 395.6L575.9 395L572 398.1Z" fill="#00ffee"/><path d="M584.4 395.9L588.3 392.4L584 392.2L580.1 395.6Z" fill="#00ffc6"/><path d="M539.5 406.4L543.7 404.3L539.7 402.2L535.5 404.1Z" fill="#00bcff"/><path d="M547.7 406.2L551.8 403.9L547.8 402.1L543.7 404.3Z" fill="#00beff"/><path d="M531.3 405.9L535.5 404.1L531.6 401.7L527.4 403.4Z" fill="#00c3ff"/><path d="M555.8 405.4L559.9 402.8L555.8 401.4L551.8 403.9Z" fill="#00c9ff"/><path d="M592.6 392.4L596.5 388.6L592.2 388.7L588.3 392.4Z" fill="#00ff96"/><path d="M523.2 404.9L527.4 403.4L523.5 400.6L519.3 402Z" fill="#00d2ff"/><path d="M564 404L568 401.1L563.9 400L559.9 402.8Z" fill="#00dcff"/><path d="M515 403.3L519.3 402L515.4 398.9L511.1 400Z" fill="#00e9ff"/><path d="M572.2 402L576.2 398.8L572 398.1L568 401.1Z" fill="#00f7ff"/><path d="M600.8 388.3L604.7 384.2L600.3 384.7L596.5 388.6Z" fill="#00ff5d"/><path d="M506.7 401L511.1 400L507.3 396.6L502.9 397.4Z" fill="#00fff5"/><path d="M580.4 399.3L584.4 395.9L580.1 395.6L576.2 398.8Z" fill="#00ffe3"/><path d="M588.6 396.1L592.6 392.4L588.3 392.4L584.4 395.9Z" fill="#00ffb6"/><path d="M543.5 408.3L547.7 406.2L543.7 404.3L539.5 406.4Z" fill="#00b3ff"/><path d="M535.3 408.3L539.5 406.4L535.5 404.1L531.3 405.9Z" fill="#00b5ff"/><path d="M551.7 407.8L555.8 405.4L551.8 403.9L547.7 406.2Z" fill="#00baff"/><path d="M527.1 407.6L531.3 405.9L527.4 403.4L523.2 404.9Z" fill="#00bfff"/><path d="M559.9 406.7L564 404L559.9 402.8L555.8 405.4Z" fill="#00c9ff"/><path d="M518.9 406.3L523.2 404.9L519.3 402L515 403.3Z" fill="#00d2ff"/><path d="M596.9 392.2L600.8 388.3L596.5 388.6L592.6 392.4Z" fill="#00ff81"/><path d="M568.2 404.9L572.2 402L568 401.1L564 404Z" fill="#00e1ff"/><path d="M510.6 404.3L515 403.3L511.1 400L506.7 401Z" fill="#00edff"/><path d="M576.4 402.5L580.4 399.3L576.2 398.8L572.2 402Z" fill="#00fffd"/><path d="M502.3 401.8L506.7 401L502.9 397.4L498.5 398.1Z" fill="#00ffed"/><path d="M605.3 387.6L609.2 383.5L604.7 384.2L600.8 388.3Z" fill="#00ff44"/><path d="M584.7 399.5L588.6 396.1L584.4 395.9L580.4 399.3Z" fill="#00ffd4"/><path d="M539.3 410.3L543.5 408.3L539.5 406.4L535.3 408.3Z" fill="#00aaff"/><path d="M547.6 410.1L551.7 407.8L547.7 406.2L543.5 408.3Z" fill="#00aeff"/><path d="M531.1 410L535.3 408.3L531.3 405.9L527.1 407.6Z" fill="#00b0ff"/><path d="M555.8 409.2L559.9 406.7L555.8 405.4L551.7 407.8Z" fill="#00b9ff"/><path d="M593 395.9L596.9 392.2L592.6 392.4L588.6 396.1Z" fill="#00ffa3"/><path d="M522.8 409L527.1 407.6L523.2 404.9L518.9 406.3Z" fill="#00beff"/><path d="M564.1 407.7L568.2 404.9L564 404L559.9 406.7Z" fill="#00cdff"/><path d="M514.5 407.4L518.9 406.3L515 403.3L510.6 404.3Z" fill="#00d4ff"/><path d="M572.4 405.6L576.4 402.5L572.2 402L568.2 404.9Z" fill="#00eaff"/><path d="M601.4 391.6L605.3 387.6L600.8 388.3L596.9 392.2Z" fill="#00ff69"/><path d="M506.2 405.2L510.6 404.3L506.7 401L502.3 401.8Z" fill="#00f3ff"/><path d="M580.7 402.8L584.7 399.5L580.4 399.3L576.4 402.5Z" fill="#00ffef"/><path d="M497.8 402.4L502.3 401.8L498.5 398.1L494 398.6Z" fill="#00ffe3"/><path d="M609.8 386.7L613.7 382.5L609.2 383.5L605.3 387.6Z" fill="#00ff27"/><path d="M589 399.5L593 395.9L588.6 396.1L584.7 399.5Z" fill="#00ffc2"/><path d="M543.4 412.2L547.6 410.1L543.5 408.3L539.3 410.3Z" fill="#00a4ff"/><path d="M535.1 412.2L539.3 410.3L535.3 408.3L531.1 410Z" fill="#00a5ff"/><path d="M551.7 411.6L555.8 409.2L551.7 407.8L547.6 410.1Z" fill="#00acff"/><path d="M526.8 411.6L531.1 410L527.1 407.6L522.8 409Z" fill="#00aeff"/><path d="M560 410.3L564.1 407.7L559.9 406.7L555.8 409.2Z" fill="#00bcff"/><path d="M518.5 410.3L522.8 409L518.9 406.3L514.5 407.4Z" fill="#00bfff"/><path d="M597.4 395.5L601.4 391.6L596.9 392.2L593 395.9Z" fill="#00ff8b"/><path d="M568.3 408.5L572.4 405.6L568.2 404.9L564.1 407.7Z" fill="#00d5ff"/><path d="M510.1 408.4L514.5 407.4L510.6 404.3L506.2 405.2Z" fill="#00daff"/><path d="M576.7 406L580.7 402.8L576.4 402.5L572.4 405.6Z" fill="#00f6ff"/><path d="M501.7 406L506.2 405.2L502.3 401.8L497.8 402.4Z" fill="#00fcff"/><path d="M605.9 390.8L609.8 386.7L605.3 387.6L601.4 391.6Z" fill="#00ff4d"/><path d="M585 402.9L589 399.5L584.7 399.5L580.7 402.8Z" fill="#00ffde"/><path d="M493.3 402.8L497.8 402.4L494 398.6L489.4 398.9Z" fill="#00ffd7"/><path d="M539.1 414.1L543.4 412.2L539.3 410.3L535.1 412.2Z" fill="#009dff"/><path d="M547.5 413.8L551.7 411.6L547.6 410.1L543.4 412.2Z" fill="#00a1ff"/><path d="M530.8 413.8L535.1 412.2L531.1 410L526.8 411.6Z" fill="#00a1ff"/><path d="M555.8 412.8L560 410.3L555.8 409.2L551.7 411.6Z" fill="#00aeff"/><path d="M522.4 412.9L526.8 411.6L522.8 409L518.5 410.3Z" fill="#00aeff"/><path d="M593.4 399.2L597.4 395.5L593 395.9L589 399.5Z" fill="#00ffac"/><path d="M614.4 385.5L618.3 381.1L613.7 382.5L609.8 386.7Z" fill="#00ff06"/><path d="M564.2 411.2L568.3 408.5L564.1 407.7L560 410.3Z" fill="#00c3ff"/><path d="M514 411.4L518.5 410.3L514.5 407.4L510.1 408.4Z" fill="#00c3ff"/><path d="M572.6 409L576.7 406L572.4 405.6L568.3 408.5Z" fill="#00e0ff"/><path d="M505.6 409.3L510.1 408.4L506.2 405.2L501.7 406Z" fill="#00e1ff"/><path d="M601.9 394.8L605.9 390.8L601.4 391.6L597.4 395.5Z" fill="#00ff71"/><path d="M581 406.2L585 402.9L580.7 402.8L576.7 406Z" fill="#00fff8"/><path d="M497.2 406.5L501.7 406L497.8 402.4L493.3 402.8Z" fill="#00fff6"/><path d="M610.4 389.7L614.4 385.5L609.8 386.7L605.9 390.8Z" fill="#00ff2d"/><path d="M589.4 402.7L593.4 399.2L589 399.5L585 402.9Z" fill="#00ffc9"/><path d="M543.2 415.8L547.5 413.8L543.4 412.2L539.1 414.1Z" fill="#0099ff"/><path d="M534.8 415.9L539.1 414.1L535.1 412.2L530.8 413.8Z" fill="#0098ff"/><path d="M488.7 403.1L493.3 402.8L489.4 398.9L484.8 399.1Z" fill="#00ffc7"/><path d="M551.6 415.1L555.8 412.8L551.7 411.6L547.5 413.8Z" fill="#00a2ff"/><path d="M526.4 415.3L530.8 413.8L526.8 411.6L522.4 412.9Z" fill="#00a0ff"/><path d="M560 413.8L564.2 411.2L560 410.3L555.8 412.8Z" fill="#00b3ff"/><path d="M518 414.2L522.4 412.9L518.5 410.3L514 411.4Z" fill="#00b1ff"/><path d="M568.5 411.9L572.6 409L568.3 408.5L564.2 411.2Z" fill="#00cdff"/><path d="M509.6 412.4L514 411.4L510.1 408.4L505.6 409.3Z" fill="#00caff"/><path d="M597.9 398.6L601.9 394.8L597.4 395.5L593.4 399.2Z" fill="#00ff92"/><path d="M619 384L622.9 379.5L618.3 381.1L614.4 385.5Z" fill="#1fff00"/><path d="M576.9 409.3L581 406.2L576.7 406L572.6 409Z" fill="#00efff"/><path d="M501.1 409.9L505.6 409.3L501.7 406L497.2 406.5Z" fill="#00ecff"/><path d="M606.5 393.8L610.4 389.7L605.9 390.8L601.9 394.8Z" fill="#00ff52"/><path d="M585.4 406.1L589.4 402.7L585 402.9L581 406.2Z" fill="#00ffe4"/><path d="M492.6 406.9L497.2 406.5L493.3 402.8L488.7 403.1Z" fill="#00ffe8"/><path d="M538.9 417.7L543.2 415.8L539.1 414.1L534.8 415.9Z" fill="#0093ff"/><path d="M530.5 417.5L534.8 415.9L530.8 413.8L526.4 415.3Z" fill="#0096ff"/><path d="M547.4 417.3L551.6 415.1L547.5 413.8L543.2 415.8Z" fill="#0098ff"/><path d="M522 416.7L526.4 415.3L522.4 412.9L518 414.2Z" fill="#00a2ff"/><path d="M555.8 416.2L560 413.8L555.8 412.8L551.6 415.1Z" fill="#00a6ff"/><path d="M593.9 402.2L597.9 398.6L593.4 399.2L589.4 402.7Z" fill="#00ffb0"/><path d="M484 403.1L488.7 403.1L484.8 399.1L480.1 399Z" fill="#00ffb6"/><path d="M615.1 388.3L619 384L614.4 385.5L610.4 389.7Z" fill="#00ff0a"/><path d="M513.6 415.2L518 414.2L514 411.4L509.6 412.4Z" fill="#00b7ff"/><path d="M564.3 414.5L568.5 411.9L564.2 411.2L560 413.8Z" fill="#00bcff"/><path d="M505 413.1L509.6 412.4L505.6 409.3L501.1 409.9Z" fill="#00d3ff"/><path d="M572.8 412.2L576.9 409.3L572.6 409L568.5 411.9Z" fill="#00dbff"/><path d="M602.5 397.7L606.5 393.8L601.9 394.8L597.9 398.6Z" fill="#00ff74"/><path d="M496.5 410.4L501.1 409.9L497.2 406.5L492.6 406.9Z" fill="#00f9ff"/><path d="M581.3 409.3L585.4 406.1L581 406.2L576.9 409.3Z" fill="#00fffc"/><path d="M623.7 382.2L627.7 377.6L622.9 379.5L619 384Z" fill="#47ff00"/><path d="M487.9 407L492.6 406.9L488.7 403.1L484 403.1Z" fill="#00ffd7"/><path d="M534.6 419.4L538.9 417.7L534.8 415.9L530.5 417.5Z" fill="#0090ff"/><path d="M543.1 419.3L547.4 417.3L543.2 415.8L538.9 417.7Z" fill="#0091ff"/><path d="M611.1 392.5L615.1 388.3L610.4 389.7L606.5 393.8Z" fill="#00ff30"/><path d="M589.8 405.7L593.9 402.2L589.4 402.7L585.4 406.1Z" fill="#00ffcc"/><path d="M526.1 418.9L530.5 417.5L526.4 415.3L522 416.7Z" fill="#0097ff"/><path d="M551.6 418.5L555.8 416.2L551.6 415.1L547.4 417.3Z" fill="#009bff"/><path d="M517.6 417.8L522 416.7L518 414.2L513.6 415.2Z" fill="#00a7ff"/><path d="M560.1 417.1L564.3 414.5L560 413.8L555.8 416.2Z" fill="#00aeff"/><path d="M509 416.1L513.6 415.2L509.6 412.4L505 413.1Z" fill="#00bfff"/><path d="M479.2 403L484 403.1L480.1 399L475.4 398.8Z" fill="#00ffa1"/><path d="M568.6 415L572.8 412.2L568.5 411.9L564.3 414.5Z" fill="#00c9ff"/><path d="M598.4 401.4L602.5 397.7L597.9 398.6L593.9 402.2Z" fill="#00ff94"/><path d="M619.8 386.7L623.7 382.2L619 384L615.1 388.3Z" fill="#1dff00"/><path d="M500.4 413.7L505 413.1L501.1 409.9L496.5 410.4Z" fill="#00dfff"/><path d="M577.2 412.3L581.3 409.3L576.9 409.3L572.8 412.2Z" fill="#00ecff"/><path d="M607.1 396.5L611.1 392.5L606.5 393.8L602.5 397.7Z" fill="#00ff53"/><path d="M491.8 410.7L496.5 410.4L492.6 406.9L487.9 407Z" fill="#00fff6"/><path d="M585.7 409L589.8 405.7L585.4 406.1L581.3 409.3Z" fill="#00ffe6"/><path d="M538.7 421.1L543.1 419.3L538.9 417.7L534.6 419.4Z" fill="#008dff"/><path d="M530.2 420.9L534.6 419.4L530.5 417.5L526.1 418.9Z" fill="#0090ff"/><path d="M547.3 420.6L551.6 418.5L547.4 417.3L543.1 419.3Z" fill="#0094ff"/><path d="M628.6 380.1L632.5 375.4L627.7 377.6L623.7 382.2Z" fill="#72ff00"/><path d="M521.6 420.2L526.1 418.9L522 416.7L517.6 417.8Z" fill="#009aff"/><path d="M483.1 407L487.9 407L484 403.1L479.2 403Z" fill="#00ffc4"/><path d="M555.8 419.4L560.1 417.1L555.8 416.2L551.6 418.5Z" fill="#00a2ff"/><path d="M594.4 405L598.4 401.4L593.9 402.2L589.8 405.7Z" fill="#00ffb1"/><path d="M513 418.8L517.6 417.8L513.6 415.2L509 416.1Z" fill="#00aeff"/><path d="M615.8 390.9L619.8 386.7L615.1 388.3L611.1 392.5Z" fill="#00ff0a"/><path d="M564.4 417.6L568.6 415L564.3 414.5L560.1 417.1Z" fill="#00b9ff"/><path d="M504.4 416.8L509 416.1L505 413.1L500.4 413.7Z" fill="#00c9ff"/><path d="M573 415.2L577.2 412.3L572.8 412.2L568.6 415Z" fill="#00d9ff"/><path d="M474.4 402.7L479.2 403L475.4 398.8L470.5 398.3Z" fill="#00ff8a"/><path d="M603 400.4L607.1 396.5L602.5 397.7L598.4 401.4Z" fill="#00ff74"/><path d="M495.8 414.1L500.4 413.7L496.5 410.4L491.8 410.7Z" fill="#00eeff"/><path d="M581.6 412.2L585.7 409L581.3 409.3L577.2 412.3Z" fill="#00fffd"/><path d="M624.6 384.7L628.6 380.1L623.7 382.2L619.8 386.7Z" fill="#47ff00"/><path d="M487.1 410.8L491.8 410.7L487.9 407L483.1 407Z" fill="#00ffe3"/><path d="M534.3 422.7L538.7 421.1L534.6 419.4L530.2 420.9Z" fill="#008cff"/><path d="M542.9 422.5L547.3 420.6L543.1 419.3L538.7 421.1Z" fill="#008eff"/><path d="M525.7 422.3L530.2 420.9L526.1 418.9L521.6 420.2Z" fill="#0092ff"/><path d="M611.8 395.1L615.8 390.9L611.1 392.5L607.1 396.5Z" fill="#00ff2f"/><path d="M590.3 408.4L594.4 405L589.8 405.7L585.7 409Z" fill="#00ffcc"/><path d="M551.5 421.6L555.8 419.4L551.6 418.5L547.3 420.6Z" fill="#0099ff"/><path d="M517.1 421.3L521.6 420.2L517.6 417.8L513 418.8Z" fill="#00a0ff"/><path d="M560.2 420.1L564.4 417.6L560.1 417.1L555.8 419.4Z" fill="#00adff"/><path d="M478.3 406.8L483.1 407L479.2 403L474.4 402.7Z" fill="#00ffae"/><path d="M508.5 419.6L513 418.8L509 416.1L504.4 416.8Z" fill="#00b7ff"/><path d="M633.5 377.7L637.4 372.9L632.5 375.4L628.6 380.1Z" fill="#a2ff00"/><path d="M568.8 418L573 415.2L568.6 415L564.4 417.6Z" fill="#00c9ff"/><path d="M599 404.1L603 400.4L598.4 401.4L594.4 405Z" fill="#00ff93"/><path d="M499.8 417.2L504.4 416.8L500.4 413.7L495.8 414.1Z" fill="#00d7ff"/><path d="M620.6 389.1L624.6 384.7L619.8 386.7L615.8 390.9Z" fill="#1fff00"/><path d="M577.4 415.2L581.6 412.2L577.2 412.3L573 415.2Z" fill="#00edff"/><path d="M491 414.3L495.8 414.1L491.8 410.7L487.1 410.8Z" fill="#00ffff"/><path d="M607.7 399L611.8 395.1L607.1 396.5L603 400.4Z" fill="#00ff51"/><path d="M586.1 411.7L590.3 408.4L585.7 409L581.6 412.2Z" fill="#00ffe4"/><path d="M538.5 424.2L542.9 422.5L538.7 421.1L534.3 422.7Z" fill="#008bff"/><path d="M529.9 424.2L534.3 422.7L530.2 420.9L525.7 422.3Z" fill="#008dff"/><path d="M547.2 423.6L551.5 421.6L547.3 420.6L542.9 422.5Z" fill="#0093ff"/><path d="M482.3 410.6L487.1 410.8L483.1 407L478.3 406.8Z" fill="#00ffcf"/><path d="M521.2 423.5L525.7 422.3L521.6 420.2L517.1 421.3Z" fill="#0096ff"/><path d="M629.5 382.4L633.5 377.7L628.6 380.1L624.6 384.7Z" fill="#76ff00"/><path d="M555.8 422.4L560.2 420.1L555.8 419.4L551.5 421.6Z" fill="#00a3ff"/><path d="M512.5 422.2L517.1 421.3L513 418.8L508.5 419.6Z" fill="#00a9ff"/><path d="M594.9 407.6L599 404.1L594.4 405L590.3 408.4Z" fill="#00ffae"/><path d="M564.5 420.5L568.8 418L564.4 417.6L560.2 420.1Z" fill="#00bbff"/><path d="M616.6 393.3L620.6 389.1L615.8 390.9L611.8 395.1Z" fill="#00ff07"/><path d="M503.8 420.2L508.5 419.6L504.4 416.8L499.8 417.2Z" fill="#00c3ff"/><path d="M573.2 418L577.4 415.2L573 415.2L568.8 418Z" fill="#00dcff"/><path d="M495 417.6L499.8 417.2L495.8 414.1L491 414.3Z" fill="#00e7ff"/><path d="M603.7 402.8L607.7 399L603 400.4L599 404.1Z" fill="#00ff70"/><path d="M638.5 375L642.4 370.1L637.4 372.9L633.5 377.7Z" fill="#d5ff00"/><path d="M581.9 414.8L586.1 411.7L581.6 412.2L577.4 415.2Z" fill="#00fff9"/><path d="M625.5 386.9L629.5 382.4L624.6 384.7L620.6 389.1Z" fill="#4cff00"/><path d="M486.2 414.3L491 414.3L487.1 410.8L482.3 410.6Z" fill="#00ffec"/><path d="M534.1 425.8L538.5 424.2L534.3 422.7L529.9 424.2Z" fill="#008bff"/><path d="M542.8 425.5L547.2 423.6L542.9 422.5L538.5 424.2Z" fill="#008fff"/><path d="M525.4 425.5L529.9 424.2L525.7 422.3L521.2 423.5Z" fill="#0090ff"/><path d="M590.7 411L594.9 407.6L590.3 408.4L586.1 411.7Z" fill="#00ffc7"/><path d="M612.5 397.4L616.6 393.3L611.8 395.1L607.7 399Z" fill="#00ff2a"/><path d="M551.5 424.5L555.8 422.4L551.5 421.6L547.2 423.6Z" fill="#009bff"/><path d="M516.6 424.5L521.2 423.5L517.1 421.3L512.5 422.2Z" fill="#009eff"/><path d="M560.2 422.9L564.5 420.5L560.2 420.1L555.8 422.4Z" fill="#00b0ff"/><path d="M507.9 422.9L512.5 422.2L508.5 419.6L503.8 420.2Z" fill="#00b4ff"/><path d="M569 420.7L573.2 418L568.8 418L564.5 420.5Z" fill="#00cdff"/><path d="M634.5 379.8L638.5 375L633.5 377.7L629.5 382.4Z" fill="#a7ff00"/><path d="M599.5 406.5L603.7 402.8L599 404.1L594.9 407.6Z" fill="#00ff8d"/><path d="M499.1 420.6L503.8 420.2L499.8 417.2L495 417.6Z" fill="#00d2ff"/><path d="M621.4 391.2L625.5 386.9L620.6 389.1L616.6 393.3Z" fill="#25ff00"/><path d="M577.7 417.8L581.9 414.8L577.4 415.2L573.2 418Z" fill="#00f2ff"/><path d="M490.2 417.7L495 417.6L491 414.3L486.2 414.3Z" fill="#00f9ff"/><path d="M608.4 401.3L612.5 397.4L607.7 399L603.7 402.8Z" fill="#00ff4a"/><path d="M586.5 414.2L590.7 411L586.1 411.7L581.9 414.8Z" fill="#00ffde"/><path d="M538.3 427.2L542.8 425.5L538.5 424.2L534.1 425.8Z" fill="#008eff"/><path d="M529.5 427.2L534.1 425.8L529.9 424.2L525.4 425.5Z" fill="#008eff"/><path d="M547.1 426.5L551.5 424.5L547.2 423.6L542.8 425.5Z" fill="#0096ff"/><path d="M520.8 426.6L525.4 425.5L521.2 423.5L516.6 424.5Z" fill="#0097ff"/><path d="M630.5 384.4L634.5 379.8L629.5 382.4L625.5 386.9Z" fill="#7dff00"/><path d="M555.9 425.1L560.2 422.9L555.8 422.4L551.5 424.5Z" fill="#00a7ff"/><path d="M512 425.3L516.6 424.5L512.5 422.2L507.9 422.9Z" fill="#00a8ff"/><path d="M595.4 410L599.5 406.5L594.9 407.6L590.7 411Z" fill="#00ffa7"/><path d="M564.6 423.2L569 420.7L564.5 420.5L560.2 422.9Z" fill="#00c0ff"/><path d="M617.4 395.4L621.4 391.2L616.6 393.3L612.5 397.4Z" fill="#01ff00"/><path d="M503.1 423.4L507.9 422.9L503.8 420.2L499.1 420.6Z" fill="#00c1ff"/><path d="M573.4 420.5L577.7 417.8L573.2 418L569 420.7Z" fill="#00e2ff"/><path d="M494.3 420.8L499.1 420.6L495 417.6L490.2 417.7Z" fill="#00e4ff"/><path d="M604.3 405L608.4 401.3L603.7 402.8L599.5 406.5Z" fill="#00ff68"/><path d="M582.3 417.2L586.5 414.2L581.9 414.8L577.7 417.8Z" fill="#00fff2"/><path d="M626.4 388.8L630.5 384.4L625.5 386.9L621.4 391.2Z" fill="#55ff00"/><path d="M533.8 428.7L538.3 427.2L534.1 425.8L529.5 427.2Z" fill="#008fff"/><path d="M542.6 428.3L547.1 426.5L542.8 425.5L538.3 427.2Z" fill="#0094ff"/><path d="M525 428.4L529.5 427.2L525.4 425.5L520.8 426.6Z" fill="#0093ff"/><path d="M551.4 427.2L555.9 425.1L551.5 424.5L547.1 426.5Z" fill="#00a1ff"/><path d="M591.2 413.3L595.4 410L590.7 411L586.5 414.2Z" fill="#00ffbf"/><path d="M516.1 427.5L520.8 426.6L516.6 424.5L512 425.3Z" fill="#009fff"/><path d="M613.3 399.4L617.4 395.4L612.5 397.4L608.4 401.3Z" fill="#00ff21"/><path d="M560.3 425.5L564.6 423.2L560.2 422.9L555.9 425.1Z" fill="#00b6ff"/><path d="M507.3 425.9L512 425.3L507.9 422.9L503.1 423.4Z" fill="#00b4ff"/><path d="M569.1 423.1L573.4 420.5L569 420.7L564.6 423.2Z" fill="#00d4ff"/><path d="M498.3 423.7L503.1 423.4L499.1 420.6L494.3 420.8Z" fill="#00d2ff"/><path d="M600.1 408.6L604.3 405L599.5 406.5L595.4 410Z" fill="#00ff83"/><path d="M622.3 393.1L626.4 388.8L621.4 391.2L617.4 395.4Z" fill="#30ff00"/><path d="M578 420.1L582.3 417.2L577.7 417.8L573.4 420.5Z" fill="#00fbff"/><path d="M609.1 403.3L613.3 399.4L608.4 401.3L604.3 405Z" fill="#00ff40"/><path d="M586.9 416.4L591.2 413.3L586.5 414.2L582.3 417.2Z" fill="#00ffd4"/><path d="M529.2 430L533.8 428.7L529.5 427.2L525 428.4Z" fill="#0093ff"/><path d="M538.1 429.9L542.6 428.3L538.3 427.2L533.8 428.7Z" fill="#0094ff"/><path d="M520.3 429.4L525 428.4L520.8 426.6L516.1 427.5Z" fill="#009bff"/><path d="M547 429.1L551.4 427.2L547.1 426.5L542.6 428.3Z" fill="#009dff"/><path d="M511.4 428.2L516.1 427.5L512 425.3L507.3 425.9Z" fill="#00abff"/><path d="M555.9 427.7L560.3 425.5L555.9 425.1L551.4 427.2Z" fill="#00afff"/><path d="M595.9 412.1L600.1 408.6L595.4 410L591.2 413.3Z" fill="#00ff9c"/><path d="M502.5 426.4L507.3 425.9L503.1 423.4L498.3 423.7Z" fill="#00c3ff"/><path d="M564.8 425.6L569.1 423.1L564.6 423.2L560.3 425.5Z" fill="#00c9ff"/><path d="M618.2 397.3L622.3 393.1L617.4 395.4L613.3 399.4Z" fill="#0dff00"/><path d="M573.7 422.8L578 420.1L573.4 420.5L569.1 423.1Z" fill="#00ecff"/><path d="M604.9 407L609.1 403.3L604.3 405L600.1 408.6Z" fill="#00ff5c"/><path d="M582.7 419.4L586.9 416.4L582.3 417.2L578 420.1Z" fill="#00ffe6"/><path d="M533.5 431.3L538.1 429.9L533.8 428.7L529.2 430Z" fill="#0097ff"/><path d="M524.6 431.1L529.2 430L525 428.4L520.3 429.4Z" fill="#0099ff"/><path d="M542.4 430.8L547 429.1L542.6 428.3L538.1 429.9Z" fill="#009cff"/><path d="M515.6 430.3L520.3 429.4L516.1 427.5L511.4 428.2Z" fill="#00a5ff"/><path d="M551.4 429.6L555.9 427.7L551.4 427.2L547 429.1Z" fill="#00aaff"/><path d="M591.7 415.3L595.9 412.1L591.2 413.3L586.9 416.4Z" fill="#00ffb2"/><path d="M614 401.2L618.2 397.3L613.3 399.4L609.1 403.3Z" fill="#00ff13"/><path d="M506.6 428.8L511.4 428.2L507.3 425.9L502.5 426.4Z" fill="#00b9ff"/><path d="M560.3 427.8L564.8 425.6L560.3 425.5L555.9 427.7Z" fill="#00c1ff"/><path d="M569.3 425.4L573.7 422.8L569.1 423.1L564.8 425.6Z" fill="#00e0ff"/><path d="M600.7 410.5L604.9 407L600.1 408.6L595.9 412.1Z" fill="#00ff76"/><path d="M578.3 422.2L582.7 419.4L578 420.1L573.7 422.8Z" fill="#00fff6"/><path d="M609.9 405L614 401.2L609.1 403.3L604.9 407Z" fill="#00ff31"/><path d="M587.4 418.4L591.7 415.3L586.9 416.4L582.7 419.4Z" fill="#00ffc6"/><path d="M528.9 432.5L533.5 431.3L529.2 430L524.6 431.1Z" fill="#009cff"/><path d="M537.9 432.3L542.4 430.8L538.1 429.9L533.5 431.3Z" fill="#009eff"/><path d="M519.8 432L524.6 431.1L520.3 429.4L515.6 430.3Z" fill="#00a3ff"/><path d="M546.9 431.5L551.4 429.6L547 429.1L542.4 430.8Z" fill="#00a8ff"/><path d="M510.8 430.9L515.6 430.3L511.4 428.2L506.6 428.8Z" fill="#00b2ff"/><path d="M555.9 429.9L560.3 427.8L555.9 427.7L551.4 429.6Z" fill="#00bbff"/><path d="M596.5 413.9L600.7 410.5L595.9 412.1L591.7 415.3Z" fill="#00ff8d"/><path d="M564.9 427.7L569.3 425.4L564.8 425.6L560.3 427.8Z" fill="#00d7ff"/><path d="M573.9 424.9L578.3 422.2L573.7 422.8L569.3 425.4Z" fill="#00fbff"/><path d="M605.6 408.7L609.9 405L604.9 407L600.7 410.5Z" fill="#00ff4c"/><path d="M583 421.3L587.4 418.4L582.7 419.4L578.3 422.2Z" fill="#00ffd7"/><path d="M533.2 433.7L537.9 432.3L533.5 431.3L528.9 432.5Z" fill="#00a2ff"/><path d="M524.1 433.6L528.9 432.5L524.6 431.1L519.8 432Z" fill="#00a4ff"/><path d="M542.3 433.1L546.9 431.5L542.4 430.8L537.9 432.3Z" fill="#00a9ff"/><path d="M515.1 432.8L519.8 432L515.6 430.3L510.8 430.9Z" fill="#00aeff"/><path d="M551.3 431.8L555.9 429.9L551.4 429.6L546.9 431.5Z" fill="#00b8ff"/><path d="M592.2 417.1L596.5 413.9L591.7 415.3L587.4 418.4Z" fill="#00ffa2"/><path d="M560.4 429.9L564.9 427.7L560.3 427.8L555.9 429.9Z" fill="#00d0ff"/><path d="M569.5 427.3L573.9 424.9L569.3 425.4L564.9 427.7Z" fill="#00f0ff"/><path d="M601.4 412.2L605.6 408.7L600.7 410.5L596.5 413.9Z" fill="#00ff65"/><path d="M578.6 424.1L583 421.3L578.3 422.2L573.9 424.9Z" fill="#00ffe5"/><path d="M528.5 434.8L533.2 433.7L528.9 432.5L524.1 433.6Z" fill="#00a9ff"/><path d="M587.8 420.1L592.2 417.1L587.4 418.4L583 421.3Z" fill="#00ffb4"/><path d="M537.6 434.5L542.3 433.1L537.9 432.3L533.2 433.7Z" fill="#00acff"/><path d="M519.4 434.4L524.1 433.6L519.8 432L515.1 432.8Z" fill="#00afff"/><path d="M546.7 433.6L551.3 431.8L546.9 431.5L542.3 433.1Z" fill="#00b7ff"/><path d="M555.9 432L560.4 429.9L555.9 429.9L551.3 431.8Z" fill="#00cbff"/><path d="M597 415.5L601.4 412.2L596.5 413.9L592.2 417.1Z" fill="#00ff7a"/><path d="M565 429.6L569.5 427.3L564.9 427.7L560.4 429.9Z" fill="#00e8ff"/><path d="M574.2 426.7L578.6 424.1L573.9 424.9L569.5 427.3Z" fill="#00fff1"/><path d="M583.4 423L587.8 420.1L583 421.3L578.6 424.1Z" fill="#00ffc4"/><path d="M532.9 435.8L537.6 434.5L533.2 433.7L528.5 434.8Z" fill="#00b2ff"/><path d="M523.7 435.8L528.5 434.8L524.1 433.6L519.4 434.4Z" fill="#00b2ff"/><path d="M542.1 435.1L546.7 433.6L542.3 433.1L537.6 434.5Z" fill="#00b9ff"/><path d="M551.3 433.8L555.9 432L551.3 431.8L546.7 433.6Z" fill="#00caff"/><path d="M592.7 418.6L597 415.5L592.2 417.1L587.8 420.1Z" fill="#00ff8e"/><path d="M560.5 431.8L565 429.6L560.4 429.9L555.9 432Z" fill="#00e3ff"/><path d="M569.7 429.1L574.2 426.7L569.5 427.3L565 429.6Z" fill="#00fffa"/><path d="M579 425.7L583.4 423L578.6 424.1L574.2 426.7Z" fill="#00ffd0"/><path d="M528.1 436.9L532.9 435.8L528.5 434.8L523.7 435.8Z" fill="#00baff"/><path d="M537.4 436.5L542.1 435.1L537.6 434.5L532.9 435.8Z" fill="#00beff"/><path d="M588.3 421.6L592.7 418.6L587.8 420.1L583.4 423Z" fill="#00ff9e"/><path d="M546.6 435.4L551.3 433.8L546.7 433.6L542.1 435.1Z" fill="#00cbff"/><path d="M555.9 433.7L560.5 431.8L555.9 432L551.3 433.8Z" fill="#00e0ff"/><path d="M565.2 431.3L569.7 429.1L565 429.6L560.5 431.8Z" fill="#00fdff"/><path d="M574.5 428.2L579 425.7L574.2 426.7L569.7 429.1Z" fill="#00ffdb"/><path d="M583.8 424.4L588.3 421.6L583.4 423L579 425.7Z" fill="#00ffac"/><path d="M532.6 437.7L537.4 436.5L532.9 435.8L528.1 436.9Z" fill="#00c5ff"/><path d="M541.9 436.9L546.6 435.4L542.1 435.1L537.4 436.5Z" fill="#00ceff"/><path d="M551.2 435.5L555.9 433.7L551.3 433.8L546.6 435.4Z" fill="#00dfff"/><path d="M560.5 433.3L565.2 431.3L560.5 431.8L555.9 433.7Z" fill="#00f9ff"/><path d="M569.9 430.5L574.5 428.2L569.7 429.1L565.2 431.3Z" fill="#00ffe3"/><path d="M579.3 427L583.8 424.4L579 425.7L574.5 428.2Z" fill="#00ffb8"/><path d="M537.1 438.2L541.9 436.9L537.4 436.5L532.6 437.7Z" fill="#00d4ff"/><path d="M546.5 437L551.2 435.5L546.6 435.4L541.9 436.9Z" fill="#00e2ff"/><path d="M555.9 435.2L560.5 433.3L555.9 433.7L551.2 435.5Z" fill="#00f8ff"/><path d="M565.3 432.7L569.9 430.5L565.2 431.3L560.5 433.3Z" fill="#00ffe8"/><path d="M574.7 429.4L579.3 427L574.5 428.2L569.9 430.5Z" fill="#00ffc1"/><path d="M541.7 438.4L546.5 437L541.9 436.9L537.1 438.2Z" fill="#00e7ff"/><path d="M551.1 436.9L555.9 435.2L551.2 435.5L546.5 437Z" fill="#00f9ff"/><path d="M560.6 434.6L565.3 432.7L560.5 433.3L555.9 435.2Z" fill="#00ffea"/><path d="M570.1 431.7L574.7 429.4L569.9 430.5L565.3 432.7Z" fill="#00ffc7"/><path d="M546.3 438.4L551.1 436.9L546.5 437L541.7 438.4Z" fill="#00fdff"/><path d="M555.9 436.4L560.6 434.6L555.9 435.2L551.1 436.9Z" fill="#00ffea"/><path d="M565.4 433.7L570.1 431.7L565.3 432.7L560.6 434.6Z" fill="#00ffcb"/><path d="M551.1 438L555.9 436.4L551.1 436.9L546.3 438.4Z" fill="#00ffe8"/><path d="M560.7 435.6L565.4 433.7L560.6 434.6L555.9 436.4Z" fill="#00ffcc"/><path d="M555.9 437.3L560.7 435.6L555.9 436.4L551.1 438Z" fill="#00ffca"/></g>
<path d="M556.2 397.7V416.5" stroke="#300" stroke-opacity="0.5" stroke-width="0.5"/>
<circle cx="556.2" cy="397.7" r="1.7" fill="#c80000" stroke="#600" stroke-width="0.35"/>
<circle cx="556.2" cy="407.2" r="1.7" fill="#c80000" stroke="#600" stroke-width="0.35"/>
<text x="470" y="433.3" font-size="4.9" text-anchor="end" fill="#1a1a1a" stroke="#1a1a1a" stroke-width="0.11" textLength="5.77" lengthAdjust="spacingAndGlyphs">6.8</text>
<text x="469.4" y="420.9" font-size="4.9" text-anchor="end" fill="#1a1a1a" stroke="#1a1a1a" stroke-width="0.11" textLength="2.31" lengthAdjust="spacingAndGlyphs">7</text>
<text x="468.9" y="408.5" font-size="4.9" text-anchor="end" fill="#1a1a1a" stroke="#1a1a1a" stroke-width="0.11" textLength="5.77" lengthAdjust="spacingAndGlyphs">7.2</text>
<text x="468.4" y="396.1" font-size="4.9" text-anchor="end" fill="#1a1a1a" stroke="#1a1a1a" stroke-width="0.11" textLength="5.77" lengthAdjust="spacingAndGlyphs">7.4</text>
<text x="467.8" y="383.7" font-size="4.9" text-anchor="end" fill="#1a1a1a" stroke="#1a1a1a" stroke-width="0.11" textLength="5.77" lengthAdjust="spacingAndGlyphs">7.6</text>
<text x="467.3" y="371.4" font-size="4.9" text-anchor="end" fill="#1a1a1a" stroke="#1a1a1a" stroke-width="0.11" textLength="5.77" lengthAdjust="spacingAndGlyphs">7.8</text>
<text x="466.7" y="359" font-size="4.9" text-anchor="end" fill="#1a1a1a" stroke="#1a1a1a" stroke-width="0.11" textLength="2.31" lengthAdjust="spacingAndGlyphs">8</text>
<text x="466.2" y="346.6" font-size="4.9" text-anchor="end" fill="#1a1a1a" stroke="#1a1a1a" stroke-width="0.11" textLength="5.77" lengthAdjust="spacingAndGlyphs">8.2</text>
<text x="471.1" y="466.2" font-size="4.9" text-anchor="end" fill="#1a1a1a" stroke="#1a1a1a" stroke-width="0.11" textLength="2.31" lengthAdjust="spacingAndGlyphs">6</text>
<text x="491.7" y="476.2" font-size="4.9" text-anchor="end" fill="#1a1a1a" stroke="#1a1a1a" stroke-width="0.11" textLength="5.77" lengthAdjust="spacingAndGlyphs">5.5</text>
<text x="512.4" y="486.1" font-size="4.9" text-anchor="end" fill="#1a1a1a" stroke="#1a1a1a" stroke-width="0.11" textLength="2.31" lengthAdjust="spacingAndGlyphs">5</text>
<text x="533" y="496" font-size="4.9" text-anchor="end" fill="#1a1a1a" stroke="#1a1a1a" stroke-width="0.11" textLength="5.77" lengthAdjust="spacingAndGlyphs">4.5</text>
<text x="553.6" y="505.9" font-size="4.9" text-anchor="end" fill="#1a1a1a" stroke="#1a1a1a" stroke-width="0.11" textLength="2.31" lengthAdjust="spacingAndGlyphs">4</text>
<text x="558.2" y="505.9" font-size="4.9" fill="#1a1a1a" stroke="#1a1a1a" stroke-width="0.11" textLength="2.31" lengthAdjust="spacingAndGlyphs">5</text>
<text x="578.9" y="496" font-size="4.9" fill="#1a1a1a" stroke="#1a1a1a" stroke-width="0.11" textLength="5.77" lengthAdjust="spacingAndGlyphs">5.5</text>
<text x="599.5" y="486" font-size="4.9" fill="#1a1a1a" stroke="#1a1a1a" stroke-width="0.11" textLength="2.31" lengthAdjust="spacingAndGlyphs">6</text>
<text x="620.1" y="476.1" font-size="4.9" fill="#1a1a1a" stroke="#1a1a1a" stroke-width="0.11" textLength="5.77" lengthAdjust="spacingAndGlyphs">6.5</text>
<text x="640.7" y="466.2" font-size="4.9" fill="#1a1a1a" stroke="#1a1a1a" stroke-width="0.11" textLength="2.31" lengthAdjust="spacingAndGlyphs">7</text>
<path d="M471.4 433.6h1.3v1.3h-1.3zM470.9 421.2h1.3v1.3h-1.3zM470.4 408.8h1.3v1.3h-1.3zM469.8 396.4h1.3v1.3h-1.3zM469.3 384h1.3v1.3h-1.3zM468.7 371.6h1.3v1.3h-1.3zM468.2 359.2h1.3v1.3h-1.3zM467.6 346.8h1.3v1.3h-1.3zM472.6 460.7h1.3v1.3h-1.3zM493.3 470.6h1.3v1.3h-1.3zM513.9 480.5h1.3v1.3h-1.3zM534.6 490.4h1.3v1.3h-1.3zM555.2 500.4h1.3v1.3h-1.3zM555.2 500.4h1.3v1.3h-1.3zM575.8 490.4h1.3v1.3h-1.3zM596.4 480.5h1.3v1.3h-1.3zM617 470.5h1.3v1.3h-1.3zM637.6 460.6h1.3v1.3h-1.3z" fill="#111"/>
<text x="452.9" y="497.6" font-size="5.3" fill="#1a1a1a" stroke="#1a1a1a" stroke-width="0.12" textLength="60.30" lengthAdjust="spacingAndGlyphs">B: Mahua flower extract (%)</text>
<text x="610.9" y="497.5" font-size="5.3" fill="#1a1a1a" stroke="#1a1a1a" stroke-width="0.12" textLength="35.20" lengthAdjust="spacingAndGlyphs">A: BTM flour (%)</text>
<text transform="translate(442.5 406.2) rotate(-90)" font-size="5.1" text-anchor="middle" fill="#1a1a1a">Aroma</text>
<text x="546" y="543" font-family='"Liberation Serif", serif' font-size="17.8" font-weight="bold" textLength="11.6" lengthAdjust="spacingAndGlyphs">D</text>
<rect x="181.5" y="572.3" width="74.9" height="120" fill="#fff" stroke="#c8c8c8" stroke-width="0.8"/>
<text x="182" y="660.8" font-size="6.2" fill="#111" stroke="#111" stroke-width="0.14" textLength="71.40" lengthAdjust="spacingAndGlyphs">X2 = B: Mahua flower extract</text>
<text x="182" y="597.1" font-size="6.2" font-weight="bold" fill="#111" stroke="#111" stroke-width="0.19" textLength="56.00" lengthAdjust="spacingAndGlyphs">Overall Acceptability</text>
<text x="182" y="679.1" font-size="6.2" font-weight="bold" fill="#111" stroke="#111" stroke-width="0.19" textLength="34.50" lengthAdjust="spacingAndGlyphs">Actual Factor</text>
<text x="182" y="688" font-size="6.2" fill="#111" stroke="#111" stroke-width="0.14" textLength="50.30" lengthAdjust="spacingAndGlyphs">C: temprature = 175</text>
<rect x="181.9" y="572.8" width="52.7" height="85.5" fill="#fff"/>
<path d="M234.6 572.4V658.2" stroke="#c0c0c0" stroke-width="0.8"/>
<text x="182" y="577.5" font-size="4.6" fill="#1a1a1a" stroke="#1a1a1a" stroke-width="0.10" textLength="38.10" lengthAdjust="spacingAndGlyphs">Factor Coding: Actual</text>
<text x="182" y="590.4" font-size="4.6" font-weight="bold" fill="#000" stroke="#000" stroke-width="0.14" textLength="40.21" lengthAdjust="spacingAndGlyphs">Overall Acceptability</text>
<text x="182" y="596.7" font-size="4.6" fill="#1a1a1a" stroke="#1a1a1a" stroke-width="0.10" textLength="25.79" lengthAdjust="spacingAndGlyphs">Design Points:</text>
<circle cx="186" cy="602" r="1.9" fill="#b00000" stroke="#500" stroke-width="0.3"/>
<text x="190.3" y="603.6" font-size="4.6" fill="#c8102e" stroke="#c8102e" stroke-width="0.10" textLength="26.24" lengthAdjust="spacingAndGlyphs">Above Surface</text>
<circle cx="186" cy="607.9" r="1.85" fill="#f7c0c0" stroke="#500" stroke-width="0.4"/>
<text x="190.3" y="609.5" font-size="4.6" fill="#c8102e" stroke="#c8102e" stroke-width="0.10" textLength="25.79" lengthAdjust="spacingAndGlyphs">Below Surface</text>
<text x="181.8" y="616.3" font-size="4.6" fill="#1a1a1a" stroke="#1a1a1a" stroke-width="0.10" textLength="5.56" lengthAdjust="spacingAndGlyphs">6.7</text>
<defs><linearGradient id="gE"><stop offset="0" stop-color="#0000ff"/><stop offset="0.5" stop-color="#00ff00"/><stop offset="1" stop-color="#ff0000"/></linearGradient></defs>
<rect x="190.5" y="612.1" width="14.3" height="5.6" fill="url(#gE)" stroke="#111" stroke-width="0.45"/>
<text x="206.5" y="616.3" font-size="4.6" fill="#1a1a1a" stroke="#1a1a1a" stroke-width="0.10" textLength="7.78" lengthAdjust="spacingAndGlyphs">8.06</text>
<text x="182" y="629.1" font-size="4.6" fill="#1a1a1a" stroke="#1a1a1a" stroke-width="0.10" textLength="31.46" lengthAdjust="spacingAndGlyphs">X1 = A: BTM flour</text>
<text x="182" y="635.8" font-size="4.6" fill="#1a1a1a" stroke="#1a1a1a" stroke-width="0.10" textLength="51.60" lengthAdjust="spacingAndGlyphs">X2 = B: Mahua flower extract</text>
<text x="182" y="648.2" font-size="4.6" font-weight="bold" fill="#000" stroke="#000" stroke-width="0.14" textLength="25.56" lengthAdjust="spacingAndGlyphs">Actual Factor</text>
<text x="182" y="655.1" font-size="4.6" fill="#1a1a1a" stroke="#1a1a1a" stroke-width="0.10" textLength="35.68" lengthAdjust="spacingAndGlyphs">C: temprature = 175</text>
<g transform="translate(229.5 652) scale(5.4)"><path d="M0.08 0 V0.93 H1 M0.08 0.05 H0.3 M0.93 0.93 V0.72" fill="none" stroke="#000" stroke-width="0.230"/><path d="M0.97 0.04 L0.56 0.45" fill="none" stroke="#000" stroke-width="0.210"/><path d="M0.35 0.25 L0.35 0.64 L0.74 0.64 Z" fill="#000"/></g>
<g transform="translate(247.8 683.6) scale(8.6)"><path d="M0.08 0 V0.93 H1 M0.08 0.05 H0.3 M0.93 0.93 V0.72" fill="none" stroke="#000" stroke-width="0.197"/><path d="M0.97 0.04 L0.56 0.45" fill="none" stroke="#000" stroke-width="0.184"/><path d="M0.35 0.25 L0.35 0.64 L0.74 0.64 Z" fill="#000"/></g>
<text x="375.5" y="583.7" font-size="8.9" fill="#1a1a1a" textLength="38.50" lengthAdjust="spacingAndGlyphs">3D Surface</text>
<path d="M380.3 717L380.4 614.2" stroke="#c4c4c4" stroke-width="1.3" fill="none"/>
<path d="M317.5 714.1L314.7 629.4M443.1 714L446.1 629.4M338.4 706.9L336.6 624.4M422.2 706.9L424.2 624.3M359.4 699.7L358.5 619.3M401.2 699.7L402.3 619.3" stroke="#5a5a5a" stroke-width="0.6" fill="none"/>
<path d="M462.8 748.3L468 634.4" stroke="#6e6e6e" stroke-width="0.6" fill="none"/>
<path d="M296.6 721.2L380.3 692.6L464 721.1M296.1 710.4L380.3 682.8L464.5 710.3M295.6 699.5L380.3 673L465 699.5M295.2 688.7L380.3 663.2L465.5 688.6M294.7 677.8L380.3 653.4L466 677.8M294.2 667L380.3 643.6L466.5 666.9M293.7 656.2L380.3 633.8L467 656.1M293.3 645.3L380.3 624L467.5 645.2M292.8 634.5L380.4 614.2L468 634.4" stroke="#2e2e2e" stroke-width="0.6" fill="none"/>
<path d="M297.8 748.3L292.8 634.5" stroke="#1a1a1a" stroke-width="0.65" fill="none"/>
<path d="M380.3 788L462.8 748.3L380.3 717L297.8 748.3Z" fill="#646464" stroke="#111" stroke-width="0.8" stroke-linejoin="round"/>
<path d="M455.9 751.6L455.8 751M455.7 750.6L455.8 751M455.7 750.6L455.5 750M455.3 749.6L455.5 750M455.3 749.6L455 748.9M454.9 748.6L455 748.9M454.9 748.6L454.5 747.8M454.5 747.7L454.5 747.8M454.5 747.7L454 746.8M454 746.8L453.9 746.7M453.5 746L453.9 746.7M453.5 746L453.1 745.5M452.9 745.2L453.1 745.5M452.9 745.2L452.3 744.3M452.3 744.3L452.3 744.3M384.1 718.5L383.1 718.4M381.4 718.3L381.3 718.3M383.1 718.4L381.4 718.3M381.3 718.3L379.5 718.1M378.8 718.1L377.7 718M379.5 718.1L378.8 718.1" stroke="#00ff00" stroke-width="0.75" fill="none" stroke-linecap="round"/>
<path d="M385.7 784.2L385.6 784.2M388 784L385.7 784.2M388.7 784L388 784M447.1 755.8L447.2 755.1M447.2 754.6L447.2 755.1M383.3 784.3L382.6 784.4M385.6 784.2L383.3 784.3M447.2 754.6L447.2 754.2M447.2 753.5L447.2 754.2M380.8 784.4L379.8 784.5M382.6 784.4L380.8 784.4M447.2 753.5L447.1 753.2M447.1 752.4L447.1 753.2M378.3 784.5L377 784.5M379.8 784.5L378.3 784.5M447.1 752.4L447 752.2M446.9 751.3L447 752.2M375.7 784.5L374.4 784.5M377 784.5L375.7 784.5M446.9 751.3L446.8 751.2M446.6 750.3L446.8 751.2M374.4 784.5L373.1 784.5M446.6 750.3L446.6 750.2M446.3 749.4L446.6 750.2M446.3 749.4L446.2 749.1M445.9 748.4L446.2 749.1M445.9 748.4L445.7 748M445.5 747.5L445.7 748M445.5 747.5L445.1 746.9M445 746.7L445.1 746.9M445 746.7L444.5 745.8M444.5 745.8L444.4 745.7M443.9 745L444.4 745.7M443.9 745L443.6 744.5M443.3 744.2L443.6 744.5M443.3 744.2L442.7 743.4M442.7 743.4L442.5 743.2M442 742.7L442.5 743.2M442 742.7L441.3 741.9M441.3 741.9L441.3 741.9M440.6 741.2L441.3 741.9M440.6 741.2L439.9 740.5M439.9 740.5L439.7 740.4M439.1 739.8L439.7 740.4M439.1 739.8L438.3 739.2M438.3 739.2L437.8 738.8M396.5 723.2L396.4 723.2M396.4 723.2L394.9 722.9M394.9 722.9L393.4 722.7M392.8 722.6L391.8 722.4M393.4 722.7L392.8 722.6M391.8 722.4L390.2 722.2M389.4 722.1L388.6 722M390.2 722.2L389.4 722.1M388.6 722L386.9 721.8M386.3 721.8L385.3 721.7M386.9 721.8L386.3 721.8M385.3 721.7L383.6 721.5M383.4 721.5L381.8 721.3M383.6 721.5L383.4 721.5M380.7 721.2L380 721.2M381.8 721.3L380.7 721.2M380 721.2L378.2 721.1M378.1 721.1L376.3 721M378.2 721.1L378.1 721.1M375.6 720.9L374.4 720.9M376.3 721L375.6 720.9M373.2 720.8L372.5 720.8M374.4 720.9L373.2 720.8M370.9 720.8L370.5 720.8M372.5 720.8L370.9 720.8" stroke="#61ff00" stroke-width="0.75" fill="none" stroke-linecap="round"/>
<path d="M401.1 776.8L400.8 776.9M402.9 776.5L401.1 776.8M404.7 776.1L402.9 776.5M405.4 775.9L404.7 776.1M432.5 762.9L433 762.2M433.6 761.5L433 762.2M434.1 760.9L433.6 761.5M397.4 777.5L396.7 777.6M399.3 777.2L397.4 777.5M400.8 776.9L399.3 777.2M434.1 760.9L434.2 760.7M434.7 759.9L434.2 760.7M435.1 759.2L434.7 759.9M393.5 778.1L393 778.1M395.5 777.8L393.5 778.1M396.7 777.6L395.5 777.8M435.1 759.2L435.2 759.1M435.6 758.3L435.2 759.1M435.9 757.7L435.6 758.3M391.4 778.3L389.6 778.5M393 778.1L391.4 778.3M435.9 757.7L436 757.4M436.3 756.6L436 757.4M436.3 756.4L436.3 756.6M387.2 778.8L386.4 778.8M389.3 778.6L387.2 778.8M389.6 778.5L389.3 778.6M436.3 756.4L436.5 755.7M436.6 755.1L436.5 755.7M384.9 778.9L383.3 779M386.4 778.8L384.9 778.9M436.6 755.1L436.7 754.8M436.7 753.9L436.7 754.8M382.6 779.1L380.4 779.2M383.3 779L382.6 779.1M436.7 753.9L436.7 753.9M436.8 752.9L436.7 753.9M436.8 752.7L436.8 752.9M377.8 779.3L377.6 779.3M380.2 779.2L377.8 779.3M380.4 779.2L380.2 779.2M436.8 752.7L436.7 751.9M436.7 751.7L436.7 751.9M375.3 779.3L375 779.3M377.6 779.3L375.3 779.3M436.7 751.7L436.5 750.9M436.5 750.6L436.5 750.9M372.7 779.3L372.4 779.3M375 779.3L372.7 779.3M436.5 750.6L436.3 749.9M436.2 749.7L436.3 749.9M369.9 779.2L369.9 779.2M372.4 779.3L369.9 779.2M436.2 749.7L435.9 748.8M435.9 748.7L435.9 748.8M369.9 779.2L367.5 779.2M435.9 748.7L435.5 747.8M367.1 779.1L365.1 779M367.5 779.2L367.1 779.1M435.5 747.8L435.5 747.7M435.1 746.9L435.5 747.7M364.2 779L362.9 778.9M365.1 779L364.2 779M435.1 746.9L434.8 746.5M434.6 746.1L434.8 746.5M362.9 778.9L361.1 778.8M434.6 746.1L434.1 745.3M434 745.3L434.1 745.3M434 745.3L433.4 744.5M433.4 744.5L433.1 744M432.8 743.7L433.1 744M432.8 743.7L432.1 743M432.1 743L431.8 742.7M431.4 742.3L431.8 742.7M431.4 742.3L430.7 741.6M430.7 741.6L430.3 741.2M429.9 740.9L430.3 741.2M429.9 740.9L429.1 740.2M429.1 740.2L428.3 739.5M428.3 739.5L428.3 739.5M427.5 738.9L428.3 739.5M427.5 738.9L426.6 738.3M426.6 738.3L425.7 737.7M425.7 737.7L425.5 737.6M424.8 737.1L425.5 737.6M424.8 737.1L423.8 736.5M423.8 736.5L422.8 736M422.8 736L421.8 735.4M421.8 735.4L420.9 735M420.8 734.9L420.9 735M420.8 734.9L419.8 734.4M419.8 734.4L418.7 733.9M418.7 733.9L417.6 733.4M417.6 733.4L416.5 732.9M416.5 732.9L415.4 732.5M415.4 732.5L414.2 732M414.2 732L413.1 731.6M413.1 731.6L411.9 731.1M411.9 731.1L410.7 730.7M410.7 730.7L409.4 730.3M409.4 730.3L408.2 729.9M408.2 729.9L406.9 729.5M405.9 729.2L405.6 729.2M406.9 729.5L405.9 729.2M405.6 729.2L404.3 728.8M404.3 728.8L402.9 728.4M402.9 728.4L401.6 728.1M401.6 728.1L400.2 727.8M399.4 727.6L398.8 727.5M400.2 727.8L399.4 727.6M398.8 727.5L397.3 727.2M397.3 727.2L395.9 726.9M394.8 726.7L394.4 726.6M395.9 726.9L394.8 726.7M394.4 726.6L392.9 726.3M392.9 726.3L391.3 726.1M390.9 726L389.7 725.8M391.3 726.1L390.9 726M389.7 725.8L388.1 725.6M387.4 725.5L386.5 725.4M388.1 725.6L387.4 725.5M386.5 725.4L384.8 725.2M384.3 725.1L383.1 725M384.8 725.2L384.3 725.1M383.1 725L381.4 724.8M381.3 724.8L379.6 724.7M381.4 724.8L381.3 724.8M378.6 724.6L377.8 724.6M379.6 724.7L378.6 724.6M376 724.5L375.9 724.4M377.8 724.6L376 724.5M304.8 751.1L304.9 751.8M375.9 724.4L374 724.4M304.8 751.1L304.8 750.6M304.8 750.2L304.8 750.6M373.6 724.3L372 724.3M374 724.4L373.6 724.3M304.8 750.2L304.8 749.5M304.8 749.3L304.8 749.5M371.2 724.3L370 724.2M372 724.3L371.2 724.3M304.8 749.3L305 748.4M305 748.3L305 748.4M368.9 724.2L367.9 724.2M370 724.2L368.9 724.2M305 748.3L305.2 747.4M305.2 747.3L305.2 747.4M366.7 724.2L365.7 724.2M367.9 724.2L366.7 724.2M305.2 747.3L305.5 746.4M305.5 746.3L305.5 746.4M364.6 724.2L363.4 724.3M365.7 724.2L364.6 724.2M305.5 746.3L305.8 745.5M305.9 745.3L305.8 745.5M362.6 724.3L361 724.3M363.4 724.3L362.6 724.3" stroke="#c1ff00" stroke-width="0.75" fill="none" stroke-linecap="round"/>
<path d="M405.7 768.7L404.6 769M407.1 768.2L405.7 768.7M408.5 767.7L407.1 768.2M409.8 767.1L408.5 767.7M411 766.6L409.8 767.1M412.2 766L411 766.6M413.4 765.5L412.2 766M414.5 764.9L413.4 765.5M415.5 764.3L414.5 764.9M416.5 763.6L415.5 764.3M417.5 763L416.5 763.6M417.5 762.9L417.5 763M399.6 770.4L398.6 770.6M401.2 770L399.6 770.4M402.7 769.6L401.2 770M404.3 769.1L402.7 769.6M404.6 769L404.3 769.1M417.5 762.9L418.4 762.3M419.2 761.6L418.4 762.3M420 760.9L419.2 761.6M420.6 760.3L420 760.9M394.4 771.5L394.1 771.6M396.2 771.2L394.4 771.5M397.9 770.8L396.2 771.2M398.6 770.6L397.9 770.8M420.6 760.3L420.7 760.2M421.4 759.5L420.7 760.2M422 758.7L421.4 759.5M422.2 758.4L422 758.7M390.7 772.1L390.2 772.2M392.6 771.8L390.7 772.1M394.1 771.6L392.6 771.8M422.2 758.4L422.6 757.9M423.1 757.1L422.6 757.9M423.2 756.8L423.1 757.1M388.7 772.4L386.8 772.6M390.2 772.2L388.7 772.4M423.2 756.8L423.5 756.3M423.8 755.5L423.5 756.3M423.9 755.4L423.8 755.5M384.6 772.8L383.6 772.9M386.7 772.6L384.6 772.8M386.8 772.6L386.7 772.6M423.9 755.4L424.1 754.6M424.2 754.1L424.1 754.6M382.4 773L380.6 773.1M383.6 772.9L382.4 773M424.2 754.1L424.3 753.7M424.4 752.9L424.3 753.7M377.8 773.3L377.7 773.3M380.1 773.2L377.8 773.3M380.6 773.1L380.1 773.2M424.4 752.9L424.4 752.8M424.5 751.8L424.4 752.8M424.5 751.8L424.5 751.8M375.4 773.3L375 773.3M377.7 773.3L375.4 773.3M424.5 751.8L424.4 750.8M424.4 750.8L424.4 750.8M372.8 773.3L372.5 773.3M375 773.3L372.8 773.3M424.4 750.8L424.2 749.8M424.2 749.8L424.2 749.8M370.2 773.3L370 773.3M372.5 773.3L370.2 773.3M424.2 749.8L423.9 748.8M370 773.3L367.6 773.2M423.9 748.8L423.9 748.7M423.5 747.9L423.9 748.7M367.4 773.2L365.4 773.1M367.6 773.2L367.4 773.2M423.5 747.9L423.4 747.6M423.1 747L423.4 747.6M364.5 773L363.2 772.9M365.4 773.1L364.5 773M423.1 747L422.7 746.4M422.6 746.2L422.7 746.4M361.4 772.8L361 772.7M363.2 772.9L361.4 772.8M422.6 746.2L422.1 745.4M361 772.7L359 772.5M422.1 745.4L421.9 745.1M421.5 744.6L421.9 745.1M358.1 772.4L357 772.3M359 772.5L358.1 772.4M421.5 744.6L420.8 743.9M357 772.3L355 772M420.8 743.9L420.7 743.8M420.1 743.2L420.7 743.8M354.5 771.9L353.2 771.7M355 772L354.5 771.9M420.1 743.2L419.4 742.5M353.2 771.7L351.3 771.4M419.4 742.5L419.1 742.2M418.6 741.8L419.1 742.2M350.5 771.2L349.6 771M351.3 771.4L350.5 771.2M418.6 741.8L417.8 741.1M349.6 771L347.9 770.7M417.8 741.1L417 740.5M347.9 770.7L346.2 770.3M417 740.5L416.9 740.4M416.1 739.9L416.9 740.4M345.9 770.2L344.6 769.9M346.2 770.3L345.9 770.2M416.1 739.9L415.2 739.3M344.6 769.9L343 769.5M415.2 739.3L414.3 738.7M343 769.5L341.5 769.1M414.3 738.7L413.3 738.2M341.5 769.1L340.1 768.7M413.3 738.2L413.2 738.1M412.3 737.6L413.2 738.1M412.3 737.6L411.2 737.1M411.2 737.1L410.2 736.6M410.2 736.6L409.1 736.1M409.1 736.1L408 735.6M408 735.6L406.9 735.1M406.9 735.1L405.7 734.7M405.7 734.7L404.5 734.2M404.5 734.2L403.3 733.8M403.3 733.8L402 733.4M402 733.4L400.7 733M400.7 733L399.4 732.6M398.2 732.3L398.1 732.2M399.4 732.6L398.2 732.3M398.1 732.2L396.7 731.9M396.7 731.9L395.3 731.5M322.9 760.2L323.7 760.8M395.3 731.5L393.9 731.2M322.9 760.2L322.1 759.5M392.5 730.9L392.5 730.9M393.9 731.2L392.5 730.9M322.1 759.5L321.4 758.8M392.5 730.9L391 730.6M321.4 758.8L320.8 758.2M320.7 758.1L320.8 758.2M391 730.6L389.5 730.3M320.7 758.1L320.1 757.4M388.3 730.1L387.9 730.1M389.5 730.3L388.3 730.1M320.1 757.4L319.5 756.7M387.9 730.1L386.3 729.8M319.5 756.7L319.2 756.3M318.9 755.9L319.2 756.3M384.7 729.6L384.7 729.6M386.3 729.8L384.7 729.6M318.9 755.9L318.4 755.1M384.7 729.6L383 729.4M318.4 755.1L318.2 754.7M318 754.3L318.2 754.7M381.5 729.2L381.3 729.2M383 729.4L381.5 729.2M318 754.3L317.7 753.5M381.3 729.2L379.5 729M317.7 753.5L317.5 753.2M317.4 752.7L317.5 753.2M378.6 728.9L377.7 728.9M379.5 729L378.6 728.9M317.4 752.7L317.1 751.9M317.1 751.9L317.1 751.9M375.9 728.7L375.9 728.7M377.7 728.9L375.9 728.7M317.1 751.9L317 751M375.9 728.7L373.9 728.6M317 751L316.9 750.7M316.9 750.1L316.9 750.7M373.4 728.6L371.9 728.5M373.9 728.6L373.4 728.6M316.9 750.1L316.9 749.5M316.9 749.2L316.9 749.5M371 728.5L369.9 728.5M371.9 728.5L371 728.5M316.9 749.2L317 748.5M317 748.2L317 748.5M368.7 728.5L367.7 728.5M369.9 728.5L368.7 728.5M317 748.2L317.2 747.5M317.2 747.2L317.2 747.5M366.5 728.5L365.5 728.5M367.7 728.5L366.5 728.5M317.2 747.2L317.4 746.5M317.6 746.2L317.4 746.5M364.4 728.5L363.1 728.6M365.5 728.5L364.4 728.5M317.6 746.2L317.8 745.6M318.1 745.1L317.8 745.6M362.4 728.6L360.6 728.7M363.1 728.6L362.4 728.6M318.1 745.1L318.2 744.7M318.7 743.9L318.2 744.7M358.5 728.8L357.9 728.9M360.4 728.7L358.5 728.8M360.6 728.7L360.4 728.7M318.7 743.9L318.8 743.9M319.3 743.1L318.8 743.9M319.7 742.7L319.3 743.1M356.7 729L355 729.1M357.9 728.9L356.7 729M319.7 742.7L320 742.3M320.6 741.6L320 742.3M320.9 741.3L320.6 741.6M353.2 729.3L351.8 729.5M354.9 729.1L353.2 729.3M355 729.1L354.9 729.1M320.9 741.3L321.4 740.9M322.1 740.2L321.4 740.9M322.6 739.8L322.1 740.2M348.3 730.1L348.1 730.1M349.9 729.8L348.3 730.1M351.5 729.6L349.9 729.8M351.8 729.5L351.5 729.6M322.6 739.8L322.9 739.5M323.8 738.9L322.9 739.5M324.7 738.3L323.8 738.9M325.2 737.9L324.7 738.3M343.7 730.9L343.6 731M345.2 730.6L343.7 730.9M346.7 730.3L345.2 730.6M348.1 730.1L346.7 730.3" stroke="#ffdc00" stroke-width="0.75" fill="none" stroke-linecap="round"/>
<path d="M391.7 763.6L390.8 763.9M393.2 763.2L391.7 763.6M394.7 762.8L393.2 763.2M396.1 762.3L394.7 762.8M397.4 761.8L396.1 762.3M398.7 761.3L397.4 761.8M399.9 760.7L398.7 761.3M401 760.2L399.9 760.7M402 759.6L401 760.2M403 759L402 759.6M404 758.3L403 759M404.8 757.6L404 758.3M405.2 757.3L404.8 757.6M386.7 764.7L386.3 764.8M388.4 764.4L386.7 764.7M390.1 764L388.4 764.4M390.8 763.9L390.1 764M405.2 757.3L405.6 756.9M406.3 756.2L405.6 756.9M406.9 755.5L406.3 756.2M406.9 755.4L406.9 755.5M382.9 765.3L382.6 765.3M384.8 765L382.9 765.3M386.3 764.8L384.8 765M406.9 755.4L407.4 754.7M407.8 753.9L407.4 754.7M380.9 765.5L379.5 765.6M382.6 765.3L380.9 765.5M407.8 753.9L407.9 753.9M408.2 753L407.9 753.9M408.3 752.6L408.2 753M376.6 765.8L376.6 765.8M378.8 765.6L376.6 765.8M379.5 765.6L378.8 765.6M408.3 752.6L408.4 752.1M408.5 751.5L408.4 752.1M374.2 765.8L373.9 765.9M376.6 765.8L374.2 765.8M408.5 751.5L408.5 751.2M408.5 750.4L408.5 751.2M371.8 765.9L371.4 765.9M373.9 765.9L371.8 765.9M408.5 750.4L408.5 750.2M408.4 749.4L408.5 750.2M369.1 765.8L369 765.8M371.4 765.9L369.1 765.8M408.4 749.4L408.3 749.1M408.1 748.5L408.3 749.1M369 765.8L366.8 765.7M408.1 748.5L407.9 748M407.7 747.6L407.9 748M366.3 765.6L364.7 765.5M366.8 765.7L366.3 765.6M407.7 747.6L407.3 746.8M407.3 746.8L407.3 746.8M363.2 765.4L362.6 765.3M364.7 765.5L363.2 765.4M407.3 746.8L406.7 746M362.6 765.3L360.7 765.1M406.7 746L406.3 745.4M406.1 745.3L406.3 745.4M359.8 765L358.8 764.8M360.7 765.1L359.8 765M406.1 745.3L405.4 744.5M358.8 764.8L357 764.5M405.4 744.5L404.7 743.9M404.7 743.9L404.7 743.9M355.9 764.3L355.3 764.2M357 764.5L355.9 764.3M404.7 743.9L403.9 743.2M355.3 764.2L353.7 763.8M403.9 743.2L403 742.6M353.7 763.8L352.1 763.4M403 742.6L402.1 742M350.9 763.1L350.5 763M352.1 763.4L350.9 763.1M402.1 742L401.9 741.8M401.2 741.4L401.9 741.8M350.5 763L349.1 762.6M401.2 741.4L400.2 740.8M349.1 762.6L347.7 762.2M400.2 740.8L399.2 740.3M347.7 762.2L346.3 761.7M399.2 740.3L398.1 739.8M346.3 761.7L345 761.2M398.1 739.8L397 739.3M345 761.2L343.8 760.7M397 739.3L395.8 738.8M343.8 760.7L342.6 760.1M395.8 738.8L394.6 738.4M342.6 760.1L341.5 759.6M394.6 738.4L393.4 737.9M341.5 759.6L340.4 759M393.4 737.9L392.1 737.5M340.4 759L339.4 758.4M392.1 737.5L390.8 737.1M339.4 758.4L338.5 757.8M390.8 737.1L389.4 736.8M338.5 757.8L337.6 757.2M389.1 736.7L388 736.4M389.4 736.8L389.1 736.7M337.6 757.2L336.9 756.7M336.8 756.5L336.9 756.7M388 736.4L386.5 736.1M336.8 756.5L336 755.8M386.5 736.1L385 735.8M336 755.8L335.3 755.1M384.2 735.6L383.5 735.5M385 735.8L384.2 735.6M335.3 755.1L334.7 754.5M334.7 754.4L334.7 754.5M383.5 735.5L381.9 735.2M334.7 754.4L334.1 753.7M380.5 735L380.2 735M381.9 735.2L380.5 735M334.1 753.7L333.6 752.9M380.2 735L378.5 734.8M333.6 752.9L333.6 752.9M333.2 752.1L333.6 752.9M377.4 734.7L376.7 734.6M378.5 734.8L377.4 734.7M333.2 752.1L333 751.5M332.9 751.3L333 751.5M376.7 734.6L374.8 734.5M332.9 751.3L332.7 750.4M374.5 734.4L372.8 734.3M374.8 734.5L374.5 734.4M332.7 750.4L332.7 750.3M332.6 749.5L332.7 750.3M372 734.3L370.8 734.3M372.8 734.3L372 734.3M332.6 749.5L332.6 749.1M332.6 748.5L332.6 749.1M369.6 734.2L368.6 734.2M370.8 734.3L369.6 734.2M332.6 748.5L332.7 748.1M332.8 747.5L332.7 748.1M367.3 734.3L366.3 734.3M368.6 734.2L367.3 734.3M332.8 747.5L332.9 747.2M333.2 746.5L332.9 747.2M365.2 734.3L363.8 734.4M366.3 734.3L365.2 734.3M333.2 746.5L333.3 746.3M333.7 745.4L333.3 746.3M333.8 745.3L333.7 745.4M361.3 734.5L361 734.6M363.2 734.4L361.3 734.5M363.8 734.4L363.2 734.4M333.8 745.3L334.3 744.6M334.8 744L334.3 744.6M359.5 734.7L358 734.9M361 734.6L359.5 734.7M334.8 744L334.9 743.8M335.6 743.1L334.9 743.8M336.3 742.5L335.6 743.1M354.4 735.4L354.4 735.4M356 735.2L354.4 735.4M357.7 734.9L356 735.2M358 734.9L357.7 734.9M336.3 742.5L336.4 742.4M337.2 741.8L336.4 742.4M338.1 741.2L337.2 741.8M339 740.6L338.1 741.2M339.3 740.4L339 740.6M349.8 736.4L349.3 736.5M351.3 736L349.8 736.4M352.8 735.7L351.3 736M354.4 735.4L352.8 735.7M339.3 740.4L340 740M341.1 739.5L340 740M342.2 738.9L341.1 739.5M343.3 738.5L342.2 738.9M344.5 738L343.3 738.5M345.8 737.5L344.5 738M347.1 737.1L345.8 737.5M348.4 736.7L347.1 737.1M349.3 736.5L348.4 736.7" stroke="#ff7c00" stroke-width="0.75" fill="none" stroke-linecap="round"/>
<g stroke="#000" stroke-opacity="0.45" stroke-width="0.65" stroke-linejoin="round"><path d="M380.3 655.2L384.2 657.8L380.3 659.3L376.5 656.7Z" fill="#08ff00"/><path d="M384.2 654L388 656.7L384.2 657.8L380.3 655.2Z" fill="#2dff00"/><path d="M376.4 652.9L380.3 655.2L376.5 656.7L372.6 654.4Z" fill="#3dff00"/><path d="M388.1 653.1L392 655.8L388 656.7L384.2 654Z" fill="#4dff00"/><path d="M380.3 651.7L384.2 654L380.3 655.2L376.4 652.9Z" fill="#62ff00"/><path d="M372.5 650.9L376.4 652.9L372.6 654.4L368.7 652.4Z" fill="#6eff00"/><path d="M392.1 652.5L395.9 655.2L392 655.8L388.1 653.1Z" fill="#69ff00"/><path d="M384.3 650.8L388.1 653.1L384.2 654L380.3 651.7Z" fill="#82ff00"/><path d="M376.4 649.7L380.3 651.7L376.4 652.9L372.5 650.9Z" fill="#92ff00"/><path d="M368.5 649.3L372.5 650.9L368.7 652.4L364.7 650.8Z" fill="#99ff00"/><path d="M396.2 652.2L400 654.8L395.9 655.2L392.1 652.5Z" fill="#80ff00"/><path d="M388.3 650.1L392.1 652.5L388.1 653.1L384.3 650.8Z" fill="#9eff00"/><path d="M380.3 648.8L384.3 650.8L380.3 651.7L376.4 649.7Z" fill="#b3ff00"/><path d="M372.4 648L376.4 649.7L372.5 650.9L368.5 649.3Z" fill="#beff00"/><path d="M364.5 647.9L368.5 649.3L364.7 650.8L360.6 649.4Z" fill="#c0ff00"/><path d="M400.3 652.1L404.1 654.8L400 654.8L396.2 652.2Z" fill="#93ff00"/><path d="M392.3 649.8L396.2 652.2L392.1 652.5L388.3 650.1Z" fill="#b5ff00"/><path d="M384.3 648.1L388.3 650.1L384.3 650.8L380.3 648.8Z" fill="#ceff00"/><path d="M376.4 647.1L380.3 648.8L376.4 649.7L372.4 648Z" fill="#deff00"/><path d="M360.4 646.9L364.5 647.9L360.6 649.4L356.5 648.4Z" fill="#e1ff00"/><path d="M368.4 646.6L372.4 648L368.5 649.3L364.5 647.9Z" fill="#e4ff00"/><path d="M404.4 652.4L408.2 655.1L404.1 654.8L400.3 652.1Z" fill="#a2ff00"/><path d="M396.4 649.8L400.3 652.1L396.2 652.2L392.3 649.8Z" fill="#c8ff00"/><path d="M388.4 647.8L392.3 649.8L388.3 650.1L384.3 648.1Z" fill="#e6ff00"/><path d="M380.3 646.4L384.3 648.1L380.3 648.8L376.4 647.1Z" fill="#f9ff00"/><path d="M356.2 646.2L360.4 646.9L356.5 648.4L352.4 647.7Z" fill="#feff00"/><path d="M372.3 645.7L376.4 647.1L372.4 648L368.4 646.6Z" fill="#fffa00"/><path d="M364.3 645.6L368.4 646.6L364.5 647.9L360.4 646.9Z" fill="#fff900"/><path d="M408.6 653L412.3 655.7L408.2 655.1L404.4 652.4Z" fill="#adff00"/><path d="M400.5 650L404.4 652.4L400.3 652.1L396.4 649.8Z" fill="#d7ff00"/><path d="M392.5 647.7L396.4 649.8L392.3 649.8L388.4 647.8Z" fill="#f8ff00"/><path d="M384.4 646L388.4 647.8L384.3 648.1L380.3 646.4Z" fill="#ffed00"/><path d="M352 645.8L356.2 646.2L352.4 647.7L348.2 647.4Z" fill="#ffe900"/><path d="M376.3 645L380.3 646.4L376.4 647.1L372.3 645.7Z" fill="#ffdf00"/><path d="M360.1 644.9L364.3 645.6L360.4 646.9L356.2 646.2Z" fill="#ffdc00"/><path d="M368.2 644.6L372.3 645.7L368.4 646.6L364.3 645.6Z" fill="#ffd900"/><path d="M412.8 653.9L416.6 656.6L412.3 655.7L408.6 653Z" fill="#b2ff00"/><path d="M404.7 650.6L408.6 653L404.4 652.4L400.5 650Z" fill="#e1ff00"/><path d="M396.6 648L400.5 650L396.4 649.8L392.5 647.7Z" fill="#fff700"/><path d="M388.5 646L392.5 647.7L388.4 647.8L384.4 646Z" fill="#ffdb00"/><path d="M347.8 645.8L352 645.8L348.2 647.4L344 647.4Z" fill="#ffd700"/><path d="M380.4 644.7L384.4 646L380.3 646.4L376.3 645Z" fill="#ffc700"/><path d="M355.9 644.6L360.1 644.9L356.2 646.2L352 645.8Z" fill="#ffc500"/><path d="M372.2 644L376.3 645L372.3 645.7L368.2 644.6Z" fill="#ffbe00"/><path d="M364 643.9L368.2 644.6L364.3 645.6L360.1 644.9Z" fill="#ffbd00"/><path d="M417.1 655.1L420.8 657.8L416.6 656.6L412.8 653.9Z" fill="#b4ff00"/><path d="M409 651.5L412.8 653.9L408.6 653L404.7 650.6Z" fill="#e7ff00"/><path d="M400.8 648.6L404.7 650.6L400.5 650L396.6 648Z" fill="#ffed00"/><path d="M392.7 646.3L396.6 648L392.5 647.7L388.5 646Z" fill="#ffcc00"/><path d="M343.5 646.2L347.8 645.8L344 647.4L339.7 647.8Z" fill="#ffca00"/><path d="M384.5 644.6L388.5 646L384.4 646L380.4 644.7Z" fill="#ffb500"/><path d="M351.6 644.6L355.9 644.6L352 645.8L347.8 645.8Z" fill="#ffb300"/><path d="M421.4 656.7L425.1 659.4L420.8 657.8L417.1 655.1Z" fill="#b1ff00"/><path d="M376.3 643.6L380.4 644.7L376.3 645L372.2 644Z" fill="#ffa700"/><path d="M359.8 643.6L364 643.9L360.1 644.9L355.9 644.6Z" fill="#ffa600"/><path d="M368 643.3L372.2 644L368.2 644.6L364 643.9Z" fill="#ffa100"/><path d="M413.2 652.8L417.1 655.1L412.8 653.9L409 651.5Z" fill="#e8ff00"/><path d="M405.1 649.5L409 651.5L404.7 650.6L400.8 648.6Z" fill="#ffe700"/><path d="M396.9 646.8L400.8 648.6L396.6 648L392.7 646.3Z" fill="#ffc200"/><path d="M339.1 647L343.5 646.2L339.7 647.8L335.3 648.5Z" fill="#ffc100"/><path d="M425.7 658.6L429.5 661.2L425.1 659.4L421.4 656.7Z" fill="#aaff00"/><path d="M388.6 644.9L392.7 646.3L388.5 646L384.5 644.6Z" fill="#ffa700"/><path d="M347.3 645L351.6 644.6L347.8 645.8L343.5 646.2Z" fill="#ffa600"/><path d="M380.4 643.6L384.5 644.6L380.4 644.7L376.3 643.6Z" fill="#ff9400"/><path d="M355.6 643.6L359.8 643.6L355.9 644.6L351.6 644.6Z" fill="#ff9400"/><path d="M372.1 642.9L376.3 643.6L372.2 644L368 643.3Z" fill="#ff8b00"/><path d="M363.8 642.9L368 643.3L364 643.9L359.8 643.6Z" fill="#ff8a00"/><path d="M417.6 654.3L421.4 656.7L417.1 655.1L413.2 652.8Z" fill="#e5ff00"/><path d="M409.4 650.7L413.2 652.8L409 651.5L405.1 649.5Z" fill="#ffe600"/><path d="M430.1 660.8L433.9 663.4L429.5 661.2L425.7 658.6Z" fill="#9eff00"/><path d="M401.1 647.8L405.1 649.5L400.8 648.6L396.9 646.8Z" fill="#ffbd00"/><path d="M334.7 648.1L339.1 647L335.3 648.5L330.9 649.6Z" fill="#ffbe00"/><path d="M392.8 645.5L396.9 646.8L392.7 646.3L388.6 644.9Z" fill="#ff9d00"/><path d="M343 645.7L347.3 645L343.5 646.2L339.1 647Z" fill="#ff9e00"/><path d="M384.5 643.8L388.6 644.9L384.5 644.6L380.4 643.6Z" fill="#ff8600"/><path d="M351.3 644L355.6 643.6L351.6 644.6L347.3 645Z" fill="#ff8700"/><path d="M421.9 656.2L425.7 658.6L421.4 656.7L417.6 654.3Z" fill="#deff00"/><path d="M376.2 642.9L380.4 643.6L376.3 643.6L372.1 642.9Z" fill="#ff7800"/><path d="M359.6 642.9L363.8 642.9L359.8 643.6L355.6 643.6Z" fill="#ff7900"/><path d="M367.9 642.6L372.1 642.9L368 643.3L363.8 642.9Z" fill="#ff7400"/><path d="M413.7 652.3L417.6 654.3L413.2 652.8L409.4 650.7Z" fill="#ffe900"/><path d="M434.6 663.3L438.3 666L433.9 663.4L430.1 660.8Z" fill="#8eff00"/><path d="M405.4 649L409.4 650.7L405.1 649.5L401.1 647.8Z" fill="#ffbc00"/><path d="M330.3 649.5L334.7 648.1L330.9 649.6L326.5 651.1Z" fill="#ffc000"/><path d="M397.1 646.4L401.1 647.8L396.9 646.8L392.8 645.5Z" fill="#ff9700"/><path d="M338.6 646.8L343 645.7L339.1 647L334.7 648.1Z" fill="#ff9b00"/><path d="M426.4 658.4L430.1 660.8L425.7 658.6L421.9 656.2Z" fill="#d2ff00"/><path d="M388.7 644.4L392.8 645.5L388.6 644.9L384.5 643.8Z" fill="#ff7c00"/><path d="M346.9 644.7L351.3 644L347.3 645L343 645.7Z" fill="#ff7e00"/><path d="M380.4 643.1L384.5 643.8L380.4 643.6L376.2 642.9Z" fill="#ff6a00"/><path d="M355.2 643.3L359.6 642.9L355.6 643.6L351.3 644Z" fill="#ff6c00"/><path d="M372 642.5L376.2 642.9L372.1 642.9L367.9 642.6Z" fill="#ff6100"/><path d="M363.6 642.6L367.9 642.6L363.8 642.9L359.6 642.9Z" fill="#ff6200"/><path d="M418.1 654.2L421.9 656.2L417.6 654.3L413.7 652.3Z" fill="#fff100"/><path d="M439 666.3L442.7 668.9L438.3 666L434.6 663.3Z" fill="#79ff00"/><path d="M325.8 651.4L330.3 649.5L326.5 651.1L322 652.9Z" fill="#ffc700"/><path d="M409.8 650.6L413.7 652.3L409.4 650.7L405.4 649Z" fill="#ffbf00"/><path d="M430.8 661L434.6 663.3L430.1 660.8L426.4 658.4Z" fill="#c2ff00"/><path d="M334.1 648.3L338.6 646.8L334.7 648.1L330.3 649.5Z" fill="#ff9d00"/><path d="M401.4 647.6L405.4 649L401.1 647.8L397.1 646.4Z" fill="#ff9600"/><path d="M342.5 645.9L346.9 644.7L343 645.7L338.6 646.8Z" fill="#ff7c00"/><path d="M393 645.4L397.1 646.4L392.8 645.5L388.7 644.4Z" fill="#ff7700"/><path d="M350.9 644.1L355.2 643.3L351.3 644L346.9 644.7Z" fill="#ff6400"/><path d="M384.6 643.7L388.7 644.4L384.5 643.8L380.4 643.1Z" fill="#ff6000"/><path d="M443.6 669.5L447.2 672.1L442.7 668.9L439 666.3Z" fill="#61ff00"/><path d="M422.5 656.4L426.4 658.4L421.9 656.2L418.1 654.2Z" fill="#fffd00"/><path d="M359.3 643L363.6 642.6L359.6 642.9L355.2 643.3Z" fill="#ff5500"/><path d="M376.2 642.8L380.4 643.1L376.2 642.9L372 642.5Z" fill="#ff5300"/><path d="M367.7 642.6L372 642.5L367.9 642.6L363.6 642.6Z" fill="#ff5000"/><path d="M321.3 653.7L325.8 651.4L322 652.9L317.5 655.2Z" fill="#ffd300"/><path d="M414.1 652.5L418.1 654.2L413.7 652.3L409.8 650.6Z" fill="#ffc600"/><path d="M435.3 663.9L439 666.3L434.6 663.3L430.8 661Z" fill="#adff00"/><path d="M329.6 650.2L334.1 648.3L330.3 649.5L325.8 651.4Z" fill="#ffa400"/><path d="M405.7 649.2L409.8 650.6L405.4 649L401.4 647.6Z" fill="#ff9900"/><path d="M448.1 673.1L451.7 675.7L447.2 672.1L443.6 669.5Z" fill="#43ff00"/><path d="M338 647.4L342.5 645.9L338.6 646.8L334.1 648.3Z" fill="#ff7e00"/><path d="M397.3 646.6L401.4 647.6L397.1 646.4L393 645.4Z" fill="#ff7600"/><path d="M427 659L430.8 661L426.4 658.4L422.5 656.4Z" fill="#f1ff00"/><path d="M346.5 645.2L350.9 644.1L346.9 644.7L342.5 645.9Z" fill="#ff6100"/><path d="M388.8 644.7L393 645.4L388.7 644.4L384.6 643.7Z" fill="#ff5b00"/><path d="M354.9 643.8L359.3 643L355.2 643.3L350.9 644.1Z" fill="#ff4d00"/><path d="M380.4 643.4L384.6 643.7L380.4 643.1L376.2 642.8Z" fill="#ff4a00"/><path d="M363.4 643L367.7 642.6L363.6 642.6L359.3 643Z" fill="#ff4300"/><path d="M371.9 642.9L376.2 642.8L372 642.5L367.7 642.6Z" fill="#ff4200"/><path d="M316.7 656.3L321.3 653.7L317.5 655.2L313 657.8Z" fill="#ffe400"/><path d="M418.6 654.8L422.5 656.4L418.1 654.2L414.1 652.5Z" fill="#ffd200"/><path d="M439.8 667.2L443.6 669.5L439 666.3L435.3 663.9Z" fill="#94ff00"/><path d="M325.1 652.5L329.6 650.2L325.8 651.4L321.3 653.7Z" fill="#ffb000"/><path d="M410.1 651.2L414.1 652.5L409.8 650.6L405.7 649.2Z" fill="#ffa100"/><path d="M452.7 677.1L456.3 679.6L451.7 675.7L448.1 673.1Z" fill="#22ff00"/><path d="M431.5 662L435.3 663.9L430.8 661L427 659Z" fill="#dcff00"/><path d="M333.5 649.3L338 647.4L334.1 648.3L329.6 650.2Z" fill="#ff8500"/><path d="M401.7 648.2L405.7 649.2L401.4 647.6L397.3 646.6Z" fill="#ff7900"/><path d="M342 646.8L346.5 645.2L342.5 645.9L338 647.4Z" fill="#ff6300"/><path d="M393.2 646L397.3 646.6L393 645.4L388.8 644.7Z" fill="#ff5a00"/><path d="M312.1 659.4L316.7 656.3L313 657.8L308.4 660.9Z" fill="#fffa00"/><path d="M350.5 644.9L354.9 643.8L350.9 644.1L346.5 645.2Z" fill="#ff4b00"/><path d="M444.4 670.9L448.1 673.1L443.6 669.5L439.8 667.2Z" fill="#77ff00"/><path d="M384.6 644.4L388.8 644.7L384.6 643.7L380.4 643.4Z" fill="#ff4500"/><path d="M423.1 657.4L427 659L422.5 656.4L418.6 654.8Z" fill="#ffe300"/><path d="M359 643.7L363.4 643L359.3 643L354.9 643.8Z" fill="#ff3b00"/><path d="M376.1 643.5L380.4 643.4L376.2 642.8L371.9 642.9Z" fill="#ff3800"/><path d="M367.6 643.3L371.9 642.9L367.7 642.6L363.4 643Z" fill="#ff3500"/><path d="M457.3 681.4L460.9 683.9L456.3 679.6L452.7 677.1Z" fill="#00ff05"/><path d="M320.5 655.2L325.1 652.5L321.3 653.7L316.7 656.3Z" fill="#ffc100"/><path d="M414.6 653.4L418.6 654.8L414.1 652.5L410.1 651.2Z" fill="#ffad00"/><path d="M436 665.3L439.8 667.2L435.3 663.9L431.5 662Z" fill="#c3ff00"/><path d="M329 651.6L333.5 649.3L329.6 650.2L325.1 652.5Z" fill="#ff9100"/><path d="M406.1 650.2L410.1 651.2L405.7 649.2L401.7 648.2Z" fill="#ff8100"/><path d="M307.5 662.9L312.1 659.4L308.4 660.9L303.8 664.3Z" fill="#e9ff00"/><path d="M449 674.9L452.7 677.1L448.1 673.1L444.4 670.9Z" fill="#55ff00"/><path d="M337.5 648.7L342 646.8L338 647.4L333.5 649.3Z" fill="#ff6a00"/><path d="M397.5 647.6L401.7 648.2L397.3 646.6L393.2 646Z" fill="#ff5e00"/><path d="M427.6 660.3L431.5 662L427 659L423.1 657.4Z" fill="#fff800"/><path d="M461.9 686.1L465.5 688.6L460.9 683.9L457.3 681.4Z" fill="#00ff2f"/><path d="M346 646.5L350.5 644.9L346.5 645.2L342 646.8Z" fill="#ff4d00"/><path d="M389 645.7L393.2 646L388.8 644.7L384.6 644.4Z" fill="#ff4400"/><path d="M354.6 644.9L359 643.7L354.9 643.8L350.5 644.9Z" fill="#ff3900"/><path d="M380.4 644.4L384.6 644.4L380.4 643.4L376.1 643.5Z" fill="#ff3300"/><path d="M315.9 658.2L320.5 655.2L316.7 656.3L312.1 659.4Z" fill="#ffd700"/><path d="M363.2 644.1L367.6 643.3L363.4 643L359 643.7Z" fill="#ff2e00"/><path d="M371.8 643.9L376.1 643.5L371.9 642.9L367.6 643.3Z" fill="#ff2c00"/><path d="M419.1 656.1L423.1 657.4L418.6 654.8L414.6 653.4Z" fill="#ffbe00"/><path d="M440.6 668.9L444.4 670.9L439.8 667.2L436 665.3Z" fill="#a6ff00"/><path d="M324.4 654.3L329 651.6L325.1 652.5L320.5 655.2Z" fill="#ffa200"/><path d="M453.6 679.2L457.3 681.4L452.7 677.1L449 674.9Z" fill="#2fff00"/><path d="M410.5 652.5L414.6 653.4L410.1 651.2L406.1 650.2Z" fill="#ff8d00"/><path d="M302.8 666.7L307.5 662.9L303.8 664.3L299.1 668.1Z" fill="#c9ff00"/><path d="M332.9 651L337.5 648.7L333.5 649.3L329 651.6Z" fill="#ff7600"/><path d="M432.1 663.7L436 665.3L431.5 662L427.6 660.3Z" fill="#edff00"/><path d="M402 649.5L406.1 650.2L401.7 648.2L397.5 647.6Z" fill="#ff6600"/><path d="M341.5 648.4L346 646.5L342 646.8L337.5 648.7Z" fill="#ff5400"/><path d="M311.3 661.7L315.9 658.2L312.1 659.4L307.5 662.9Z" fill="#fff200"/><path d="M393.3 647.3L397.5 647.6L393.2 646L389 645.7Z" fill="#ff4800"/><path d="M445.2 673L449 674.9L444.4 670.9L440.6 668.9Z" fill="#84ff00"/><path d="M350.1 646.5L354.6 644.9L350.5 644.9L346 646.5Z" fill="#ff3b00"/><path d="M423.6 659.1L427.6 660.3L423.1 657.4L419.1 656.1Z" fill="#ffd300"/><path d="M384.7 645.8L389 645.7L384.6 644.4L380.4 644.4Z" fill="#ff3300"/><path d="M358.7 645.3L363.2 644.1L359 643.7L354.6 644.9Z" fill="#ff2b00"/><path d="M376.1 644.9L380.4 644.4L376.1 643.5L371.8 643.9Z" fill="#ff2700"/><path d="M367.4 644.7L371.8 643.9L367.6 643.3L363.2 644.1Z" fill="#ff2400"/><path d="M458.3 684L461.9 686.1L457.3 681.4L453.6 679.2Z" fill="#04ff00"/><path d="M319.8 657.4L324.4 654.3L320.5 655.2L315.9 658.2Z" fill="#ffb800"/><path d="M298.1 671L302.8 666.7L299.1 668.1L294.4 672.4Z" fill="#a4ff00"/><path d="M415 655.1L419.1 656.1L414.6 653.4L410.5 652.5Z" fill="#ff9e00"/><path d="M436.7 667.4L440.6 668.9L436 665.3L432.1 663.7Z" fill="#cfff00"/><path d="M328.3 653.7L332.9 651L329 651.6L324.4 654.3Z" fill="#ff8800"/><path d="M406.4 651.9L410.5 652.5L406.1 650.2L402 649.5Z" fill="#ff7200"/><path d="M306.6 665.6L311.3 661.7L307.5 662.9L302.8 666.7Z" fill="#ecff00"/><path d="M449.9 677.4L453.6 679.2L449 674.9L445.2 673Z" fill="#5eff00"/><path d="M336.9 650.7L341.5 648.4L337.5 648.7L332.9 651Z" fill="#ff6000"/><path d="M397.8 649.3L402 649.5L397.5 647.6L393.3 647.3Z" fill="#ff5000"/><path d="M428.2 662.4L432.1 663.7L427.6 660.3L423.6 659.1Z" fill="#ffec00"/><path d="M345.6 648.4L350.1 646.5L346 646.5L341.5 648.4Z" fill="#ff4200"/><path d="M389.1 647.4L393.3 647.3L389 645.7L384.7 645.8Z" fill="#ff3700"/><path d="M315.1 660.9L319.8 657.4L315.9 658.2L311.3 661.7Z" fill="#ffd300"/><path d="M354.3 646.8L358.7 645.3L354.6 644.9L350.1 646.5Z" fill="#ff2e00"/><path d="M380.4 646.2L384.7 645.8L380.4 644.4L376.1 644.9Z" fill="#ff2700"/><path d="M363 645.9L367.4 644.7L363.2 644.1L358.7 645.3Z" fill="#ff2200"/><path d="M371.7 645.7L376.1 644.9L371.8 643.9L367.4 644.7Z" fill="#ff2000"/><path d="M419.6 658.1L423.6 659.1L419.1 656.1L415 655.1Z" fill="#ffb300"/><path d="M441.4 671.4L445.2 673L440.6 668.9L436.7 667.4Z" fill="#adff00"/><path d="M323.7 656.9L328.3 653.7L324.4 654.3L319.8 657.4Z" fill="#ff9e00"/><path d="M301.9 670L306.6 665.6L302.8 666.7L298.1 671Z" fill="#c7ff00"/><path d="M454.5 682.1L458.3 684L453.6 679.2L449.9 677.4Z" fill="#33ff00"/><path d="M410.9 654.6L415 655.1L410.5 652.5L406.4 651.9Z" fill="#ff8300"/><path d="M332.3 653.5L336.9 650.7L332.9 651L328.3 653.7Z" fill="#ff7200"/><path d="M432.8 666.1L436.7 667.4L432.1 663.7L428.2 662.4Z" fill="#f4ff00"/><path d="M402.2 651.6L406.4 651.9L402 649.5L397.8 649.3Z" fill="#ff5c00"/><path d="M310.4 664.8L315.1 660.9L311.3 661.7L306.6 665.6Z" fill="#fff400"/><path d="M341 650.8L345.6 648.4L341.5 648.4L336.9 650.7Z" fill="#ff4f00"/><path d="M393.5 649.4L397.8 649.3L393.3 647.3L389.1 647.4Z" fill="#ff3f00"/><path d="M446 675.9L449.9 677.4L445.2 673L441.4 671.4Z" fill="#87ff00"/><path d="M349.7 648.8L354.3 646.8L350.1 646.5L345.6 648.4Z" fill="#ff3500"/><path d="M424.2 661.5L428.2 662.4L423.6 659.1L419.6 658.1Z" fill="#ffcc00"/><path d="M384.8 647.9L389.1 647.4L384.7 645.8L380.4 646.2Z" fill="#ff2a00"/><path d="M358.5 647.5L363 645.9L358.7 645.3L354.3 646.8Z" fill="#ff2500"/><path d="M376 647.1L380.4 646.2L376.1 644.9L371.7 645.7Z" fill="#ff1f00"/><path d="M367.2 647L371.7 645.7L367.4 644.7L363 645.9Z" fill="#ff1d00"/><path d="M319 660.4L323.7 656.9L319.8 657.4L315.1 660.9Z" fill="#ffb900"/><path d="M415.5 657.6L419.6 658.1L415 655.1L410.9 654.6Z" fill="#ff9800"/><path d="M437.4 670.2L441.4 671.4L436.7 667.4L432.8 666.1Z" fill="#d2ff00"/><path d="M327.7 656.7L332.3 653.5L328.3 653.7L323.7 656.9Z" fill="#ff8800"/><path d="M305.7 669.2L310.4 664.8L306.6 665.6L301.9 670Z" fill="#e5ff00"/><path d="M406.8 654.4L410.9 654.6L406.4 651.9L402.2 651.6Z" fill="#ff6d00"/><path d="M450.7 680.7L454.5 682.1L449.9 677.4L446 675.9Z" fill="#5cff00"/><path d="M336.4 653.6L341 650.8L336.9 650.7L332.3 653.5Z" fill="#ff6000"/><path d="M398 651.8L402.2 651.6L397.8 649.3L393.5 649.4Z" fill="#ff4b00"/><path d="M428.8 665.3L432.8 666.1L428.2 662.4L424.2 661.5Z" fill="#ffea00"/><path d="M345.2 651.2L349.7 648.8L345.6 648.4L341 650.8Z" fill="#ff4200"/><path d="M314.3 664.4L319 660.4L315.1 660.9L310.4 664.8Z" fill="#ffda00"/><path d="M389.2 649.9L393.5 649.4L389.1 647.4L384.8 647.9Z" fill="#ff3300"/><path d="M353.9 649.6L358.5 647.5L354.3 646.8L349.7 648.8Z" fill="#ff2c00"/><path d="M380.4 648.8L384.8 647.9L380.4 646.2L376 647.1Z" fill="#ff2300"/><path d="M362.7 648.6L367.2 647L363 645.9L358.5 647.5Z" fill="#ff2000"/><path d="M371.6 648.3L376 647.1L371.7 645.7L367.2 647Z" fill="#ff1d00"/><path d="M442.1 674.7L446 675.9L441.4 671.4L437.4 670.2Z" fill="#abff00"/><path d="M420.1 661L424.2 661.5L419.6 658.1L415.5 657.6Z" fill="#ffb200"/><path d="M323 660.2L327.7 656.7L323.7 656.9L319 660.4Z" fill="#ffa400"/><path d="M411.3 657.4L415.5 657.6L410.9 654.6L406.8 654.4Z" fill="#ff8200"/><path d="M331.7 656.8L336.4 653.6L332.3 653.5L327.7 656.7Z" fill="#ff7700"/><path d="M433.5 669.4L437.4 670.2L432.8 666.1L428.8 665.3Z" fill="#f1ff00"/><path d="M402.5 654.5L406.8 654.4L402.2 651.6L398 651.8Z" fill="#ff5c00"/><path d="M309.6 668.8L314.3 664.4L310.4 664.8L305.7 669.2Z" fill="#ffff00"/><path d="M340.5 654L345.2 651.2L341 650.8L336.4 653.6Z" fill="#ff5300"/><path d="M393.7 652.3L398 651.8L393.5 649.4L389.2 649.9Z" fill="#ff3f00"/><path d="M446.8 679.6L450.7 680.7L446 675.9L442.1 674.7Z" fill="#80ff00"/><path d="M349.4 652L353.9 649.6L349.7 648.8L345.2 651.2Z" fill="#ff3900"/><path d="M424.7 664.8L428.8 665.3L424.2 661.5L420.1 661Z" fill="#ffd000"/><path d="M384.8 650.8L389.2 649.9L384.8 647.9L380.4 648.8Z" fill="#ff2c00"/><path d="M358.2 650.6L362.7 648.6L358.5 647.5L353.9 649.6Z" fill="#ff2800"/><path d="M375.9 650.1L380.4 648.8L376 647.1L371.6 648.3Z" fill="#ff2100"/><path d="M367.1 650L371.6 648.3L367.2 647L362.7 648.6Z" fill="#ff2000"/><path d="M318.3 664.3L323 660.2L319 660.4L314.3 664.4Z" fill="#ffc400"/><path d="M415.9 660.9L420.1 661L415.5 657.6L411.3 657.4Z" fill="#ff9c00"/><path d="M438.1 673.9L442.1 674.7L437.4 670.2L433.5 669.4Z" fill="#cbff00"/><path d="M327 660.4L331.7 656.8L327.7 656.7L323 660.2Z" fill="#ff9200"/><path d="M407.1 657.6L411.3 657.4L406.8 654.4L402.5 654.5Z" fill="#ff7200"/><path d="M335.9 657.3L340.5 654L336.4 653.6L331.7 656.8Z" fill="#ff6a00"/><path d="M429.4 669L433.5 669.4L428.8 665.3L424.7 664.8Z" fill="#fff200"/><path d="M398.2 655.1L402.5 654.5L398 651.8L393.7 652.3Z" fill="#ff5000"/><path d="M344.7 654.8L349.4 652L345.2 651.2L340.5 654Z" fill="#ff4b00"/><path d="M313.5 668.7L318.3 664.3L314.3 664.4L309.6 668.8Z" fill="#ffea00"/><path d="M389.3 653.3L393.7 652.3L389.2 649.9L384.8 650.8Z" fill="#ff3800"/><path d="M353.6 653.1L358.2 650.6L353.9 649.6L349.4 652Z" fill="#ff3500"/><path d="M380.4 652.2L384.8 650.8L380.4 648.8L375.9 650.1Z" fill="#ff2a00"/><path d="M362.5 652.1L367.1 650L362.7 648.6L358.2 650.6Z" fill="#ff2800"/><path d="M371.5 651.8L375.9 650.1L371.6 648.3L367.1 650Z" fill="#ff2400"/><path d="M442.9 678.8L446.8 679.6L442.1 674.7L438.1 673.9Z" fill="#a0ff00"/><path d="M420.6 664.7L424.7 664.8L420.1 661L415.9 660.9Z" fill="#ffba00"/><path d="M322.3 664.5L327 660.4L323 660.2L318.3 664.3Z" fill="#ffb300"/><path d="M411.7 661.1L415.9 660.9L411.3 657.4L407.1 657.6Z" fill="#ff8b00"/><path d="M331.2 660.9L335.9 657.3L331.7 656.8L327 660.4Z" fill="#ff8600"/><path d="M434.1 673.5L438.1 673.9L433.5 669.4L429.4 669Z" fill="#e5ff00"/><path d="M402.8 658.2L407.1 657.6L402.5 654.5L398.2 655.1Z" fill="#ff6600"/><path d="M340 658.1L344.7 654.8L340.5 654L335.9 657.3Z" fill="#ff6100"/><path d="M393.8 656.1L398.2 655.1L393.7 652.3L389.3 653.3Z" fill="#ff4a00"/><path d="M349 656L353.6 653.1L349.4 652L344.7 654.8Z" fill="#ff4600"/><path d="M425.3 668.9L429.4 669L424.7 664.8L420.6 664.7Z" fill="#ffdd00"/><path d="M384.9 654.6L389.3 653.3L384.8 650.8L380.4 652.2Z" fill="#ff3700"/><path d="M317.5 668.9L322.3 664.5L318.3 664.3L313.5 668.7Z" fill="#ffd900"/><path d="M357.9 654.6L362.5 652.1L358.2 650.6L353.6 653.1Z" fill="#ff3500"/><path d="M375.9 653.9L380.4 652.2L375.9 650.1L371.5 651.8Z" fill="#ff2d00"/><path d="M366.9 653.9L371.5 651.8L367.1 650L362.5 652.1Z" fill="#ff2c00"/><path d="M416.4 665L420.6 664.7L415.9 660.9L411.7 661.1Z" fill="#ffaa00"/><path d="M438.9 678.4L442.9 678.8L438.1 673.9L434.1 673.5Z" fill="#baff00"/><path d="M326.4 665L331.2 660.9L327 660.4L322.3 664.5Z" fill="#ffa600"/><path d="M407.4 661.8L411.7 661.1L407.1 657.6L402.8 658.2Z" fill="#ff8000"/><path d="M335.3 661.8L340 658.1L335.9 657.3L331.2 660.9Z" fill="#ff7d00"/><path d="M430 673.5L434.1 673.5L429.4 669L425.3 668.9Z" fill="#faff00"/><path d="M398.4 659.3L402.8 658.2L398.2 655.1L393.8 656.1Z" fill="#ff5f00"/><path d="M344.3 659.3L349 656L344.7 654.8L340 658.1Z" fill="#ff5d00"/><path d="M389.4 657.5L393.8 656.1L389.3 653.3L384.9 654.6Z" fill="#ff4800"/><path d="M353.3 657.5L357.9 654.6L353.6 653.1L349 656Z" fill="#ff4700"/><path d="M380.4 656.4L384.9 654.6L380.4 652.2L375.9 653.9Z" fill="#ff3a00"/><path d="M362.3 656.4L366.9 653.9L362.5 652.1L357.9 654.6Z" fill="#ff3900"/><path d="M371.4 656L375.9 653.9L371.5 651.8L366.9 653.9Z" fill="#ff3500"/><path d="M421.1 669.2L425.3 668.9L420.6 664.7L416.4 665Z" fill="#ffcc00"/><path d="M321.6 669.5L326.4 665L322.3 664.5L317.5 668.9Z" fill="#ffcc00"/><path d="M412.1 665.7L416.4 665L411.7 661.1L407.4 661.8Z" fill="#ff9e00"/><path d="M330.6 665.9L335.3 661.8L331.2 660.9L326.4 665Z" fill="#ff9e00"/><path d="M434.7 678.5L438.9 678.4L434.1 673.5L430 673.5Z" fill="#cfff00"/><path d="M403.1 662.8L407.4 661.8L402.8 658.2L398.4 659.3Z" fill="#ff7900"/><path d="M339.6 663L344.3 659.3L340 658.1L335.3 661.8Z" fill="#ff7900"/><path d="M394 660.7L398.4 659.3L393.8 656.1L389.4 657.5Z" fill="#ff5e00"/><path d="M348.6 660.8L353.3 657.5L349 656L344.3 659.3Z" fill="#ff5e00"/><path d="M425.8 673.9L430 673.5L425.3 668.9L421.1 669.2Z" fill="#fff300"/><path d="M384.9 659.2L389.4 657.5L384.9 654.6L380.4 656.4Z" fill="#ff4b00"/><path d="M357.7 659.3L362.3 656.4L357.9 654.6L353.3 657.5Z" fill="#ff4b00"/><path d="M375.8 658.6L380.4 656.4L375.9 653.9L371.4 656Z" fill="#ff4200"/><path d="M366.8 658.6L371.4 656L366.9 653.9L362.3 656.4Z" fill="#ff4200"/><path d="M416.8 669.9L421.1 669.2L416.4 665L412.1 665.7Z" fill="#ffc100"/><path d="M325.8 670.5L330.6 665.9L326.4 665L321.6 669.5Z" fill="#ffc400"/><path d="M407.7 666.7L412.1 665.7L407.4 661.8L403.1 662.8Z" fill="#ff9800"/><path d="M334.8 667.2L339.6 663L335.3 661.8L330.6 665.9Z" fill="#ff9a00"/><path d="M430.6 678.9L434.7 678.5L430 673.5L425.8 673.9Z" fill="#dfff00"/><path d="M398.6 664.3L403.1 662.8L398.4 659.3L394 660.7Z" fill="#ff7800"/><path d="M343.9 664.6L348.6 660.8L344.3 659.3L339.6 663Z" fill="#ff7a00"/><path d="M389.5 662.5L394 660.7L389.4 657.5L384.9 659.2Z" fill="#ff6100"/><path d="M353 662.7L357.7 659.3L353.3 657.5L348.6 660.8Z" fill="#ff6200"/><path d="M380.4 661.5L384.9 659.2L380.4 656.4L375.8 658.6Z" fill="#ff5400"/><path d="M362.1 661.6L366.8 658.6L362.3 656.4L357.7 659.3Z" fill="#ff5400"/><path d="M371.2 661.2L375.8 658.6L371.4 656L366.8 658.6Z" fill="#ff4f00"/><path d="M421.5 674.6L425.8 673.9L421.1 669.2L416.8 669.9Z" fill="#ffe800"/><path d="M330 671.8L334.8 667.2L330.6 665.9L325.8 670.5Z" fill="#ffc000"/><path d="M412.5 671.1L416.8 669.9L412.1 665.7L407.7 666.7Z" fill="#ffbb00"/><path d="M339.1 668.8L343.9 664.6L339.6 663L334.8 667.2Z" fill="#ff9b00"/><path d="M403.3 668.2L407.7 666.7L403.1 662.8L398.6 664.3Z" fill="#ff9600"/><path d="M348.2 666.5L353 662.7L348.6 660.8L343.9 664.6Z" fill="#ff7e00"/><path d="M394.2 666.1L398.6 664.3L394 660.7L389.5 662.5Z" fill="#ff7b00"/><path d="M426.3 679.7L430.6 678.9L425.8 673.9L421.5 674.6Z" fill="#ebff00"/><path d="M357.4 665L362.1 661.6L357.7 659.3L353 662.7Z" fill="#ff6b00"/><path d="M385 664.8L389.5 662.5L384.9 659.2L380.4 661.5Z" fill="#ff6900"/><path d="M366.6 664.2L371.2 661.2L366.8 658.6L362.1 661.6Z" fill="#ff6100"/><path d="M375.8 664.1L380.4 661.5L375.8 658.6L371.2 661.2Z" fill="#ff6100"/><path d="M417.2 675.8L421.5 674.6L416.8 669.9L412.5 671.1Z" fill="#ffe200"/><path d="M334.3 673.4L339.1 668.8L334.8 667.2L330 671.8Z" fill="#ffc100"/><path d="M408.1 672.6L412.5 671.1L407.7 666.7L403.3 668.2Z" fill="#ffb900"/><path d="M343.5 670.8L348.2 666.5L343.9 664.6L339.1 668.8Z" fill="#ff9f00"/><path d="M398.9 670.2L403.3 668.2L398.6 664.3L394.2 666.1Z" fill="#ff9a00"/><path d="M352.7 668.8L357.4 665L353 662.7L348.2 666.5Z" fill="#ff8800"/><path d="M389.6 668.4L394.2 666.1L389.5 662.5L385 664.8Z" fill="#ff8400"/><path d="M361.9 667.6L366.6 664.2L362.1 661.6L357.4 665Z" fill="#ff7900"/><path d="M380.4 667.4L385 664.8L380.4 661.5L375.8 664.1Z" fill="#ff7700"/><path d="M371.1 667.2L375.8 664.1L371.2 661.2L366.6 664.2Z" fill="#ff7300"/><path d="M422 680.9L426.3 679.7L421.5 674.6L417.2 675.8Z" fill="#f1ff00"/><path d="M412.8 677.4L417.2 675.8L412.5 671.1L408.1 672.6Z" fill="#ffe100"/><path d="M338.6 675.5L343.5 670.8L339.1 668.8L334.3 673.4Z" fill="#ffc600"/><path d="M403.6 674.6L408.1 672.6L403.3 668.2L398.9 670.2Z" fill="#ffbd00"/><path d="M347.9 673.2L352.7 668.8L348.2 666.5L343.5 670.8Z" fill="#ffa900"/><path d="M394.3 672.5L398.9 670.2L394.2 666.1L389.6 668.4Z" fill="#ffa300"/><path d="M357.1 671.6L361.9 667.6L357.4 665L352.7 668.8Z" fill="#ff9500"/><path d="M385 671.2L389.6 668.4L385 664.8L380.4 667.4Z" fill="#ff9100"/><path d="M366.4 670.7L371.1 667.2L366.6 664.2L361.9 667.6Z" fill="#ff8b00"/><path d="M375.7 670.6L380.4 667.4L375.8 664.1L371.1 667.2Z" fill="#ff8900"/><path d="M417.6 682.6L422 680.9L417.2 675.8L412.8 677.4Z" fill="#f2ff00"/><path d="M408.4 679.4L412.8 677.4L408.1 672.6L403.6 674.6Z" fill="#ffe400"/><path d="M343 677.9L347.9 673.2L343.5 670.8L338.6 675.5Z" fill="#ffcf00"/><path d="M399.1 677L403.6 674.6L398.9 670.2L394.3 672.5Z" fill="#ffc600"/><path d="M352.3 675.9L357.1 671.6L352.7 668.8L347.9 673.2Z" fill="#ffb600"/><path d="M389.7 675.3L394.3 672.5L389.6 668.4L385 671.2Z" fill="#ffb000"/><path d="M361.7 674.6L366.4 670.7L361.9 667.6L357.1 671.6Z" fill="#ffa700"/><path d="M380.4 674.3L385 671.2L380.4 667.4L375.7 670.6Z" fill="#ffa400"/><path d="M371 674.1L375.7 670.6L371.1 667.2L366.4 670.7Z" fill="#ffa100"/><path d="M413.2 684.6L417.6 682.6L412.8 677.4L408.4 679.4Z" fill="#eeff00"/><path d="M403.9 681.8L408.4 679.4L403.6 674.6L399.1 677Z" fill="#ffed00"/><path d="M347.5 680.7L352.3 675.9L347.9 673.2L343 677.9Z" fill="#ffdd00"/><path d="M394.5 679.8L399.1 677L394.3 672.5L389.7 675.3Z" fill="#ffd300"/><path d="M356.9 679L361.7 674.6L357.1 671.6L352.3 675.9Z" fill="#ffc900"/><path d="M385.1 678.5L389.7 675.3L385 671.2L380.4 674.3Z" fill="#ffc300"/><path d="M366.3 678.1L371 674.1L366.4 670.7L361.7 674.6Z" fill="#ffbd00"/><path d="M375.7 677.9L380.4 674.3L375.7 670.6L371 674.1Z" fill="#ffbc00"/><path d="M408.7 687.1L413.2 684.6L408.4 679.4L403.9 681.8Z" fill="#e5ff00"/><path d="M399.3 684.7L403.9 681.8L399.1 677L394.5 679.8Z" fill="#fffb00"/><path d="M352 683.9L356.9 679L352.3 675.9L347.5 680.7Z" fill="#ffef00"/><path d="M389.9 683.1L394.5 679.8L389.7 675.3L385.1 678.5Z" fill="#ffe600"/><path d="M361.5 682.6L366.3 678.1L361.7 674.6L356.9 679Z" fill="#ffdf00"/><path d="M380.4 682.2L385.1 678.5L380.4 674.3L375.7 677.9Z" fill="#ffdb00"/><path d="M370.9 682L375.7 677.9L371 674.1L366.3 678.1Z" fill="#ffd800"/><path d="M404.1 690.1L408.7 687.1L403.9 681.8L399.3 684.7Z" fill="#d7ff00"/><path d="M394.7 688.1L399.3 684.7L394.5 679.8L389.9 683.1Z" fill="#f0ff00"/><path d="M356.6 687.5L361.5 682.6L356.9 679L352 683.9Z" fill="#f8ff00"/><path d="M385.2 686.8L389.9 683.1L385.1 678.5L380.4 682.2Z" fill="#fffe00"/><path d="M366.1 686.5L370.9 682L366.3 678.1L361.5 682.6Z" fill="#fffa00"/><path d="M375.6 686.3L380.4 682.2L375.7 677.9L370.9 682Z" fill="#fff700"/><path d="M399.5 693.4L404.1 690.1L399.3 684.7L394.7 688.1Z" fill="#c4ff00"/><path d="M390 691.8L394.7 688.1L389.9 683.1L385.2 686.8Z" fill="#d8ff00"/><path d="M361.3 691.5L366.1 686.5L361.5 682.6L356.6 687.5Z" fill="#ddff00"/><path d="M380.4 691L385.2 686.8L380.4 682.2L375.6 686.3Z" fill="#e3ff00"/><path d="M370.8 690.9L375.6 686.3L370.9 682L366.1 686.5Z" fill="#e5ff00"/><path d="M394.8 697.3L399.5 693.4L394.7 688.1L390 691.8Z" fill="#acff00"/><path d="M385.2 696.1L390 691.8L385.2 686.8L380.4 691Z" fill="#bbff00"/><path d="M366 695.9L370.8 690.9L366.1 686.5L361.3 691.5Z" fill="#beff00"/><path d="M375.6 695.6L380.4 691L375.6 686.3L370.8 690.9Z" fill="#c1ff00"/><path d="M390.1 701.6L394.8 697.3L390 691.8L385.2 696.1Z" fill="#8fff00"/><path d="M380.4 700.7L385.2 696.1L380.4 691L375.6 695.6Z" fill="#99ff00"/><path d="M370.7 700.7L375.6 695.6L370.8 690.9L366 695.9Z" fill="#9aff00"/><path d="M385.3 706.3L390.1 701.6L385.2 696.1L380.4 700.7Z" fill="#6cff00"/><path d="M375.5 705.9L380.4 700.7L375.6 695.6L370.7 700.7Z" fill="#72ff00"/><path d="M380.4 711.5L385.3 706.3L380.4 700.7L375.5 705.9Z" fill="#45ff00"/></g>
<path d="M380.2 641.5V645.7" stroke="#300" stroke-opacity="0.3" stroke-width="0.5"/>
<circle cx="380.2" cy="641.5" r="1.7" fill="#c80000" stroke="#600" stroke-width="0.35"/>
<circle cx="380.2" cy="645.7" r="1.7" fill="#c80000" stroke="#600" stroke-width="0.35"/>
<text x="294.5" y="720.3" font-size="4.9" text-anchor="end" fill="#1a1a1a" stroke="#1a1a1a" stroke-width="0.11" textLength="5.77" lengthAdjust="spacingAndGlyphs">6.6</text>
<text x="294" y="709.5" font-size="4.9" text-anchor="end" fill="#1a1a1a" stroke="#1a1a1a" stroke-width="0.11" textLength="5.77" lengthAdjust="spacingAndGlyphs">6.8</text>
<text x="293.5" y="698.6" font-size="4.9" text-anchor="end" fill="#1a1a1a" stroke="#1a1a1a" stroke-width="0.11" textLength="2.31" lengthAdjust="spacingAndGlyphs">7</text>
<text x="293.1" y="687.8" font-size="4.9" text-anchor="end" fill="#1a1a1a" stroke="#1a1a1a" stroke-width="0.11" textLength="5.77" lengthAdjust="spacingAndGlyphs">7.2</text>
<text x="292.6" y="676.9" font-size="4.9" text-anchor="end" fill="#1a1a1a" stroke="#1a1a1a" stroke-width="0.11" textLength="5.77" lengthAdjust="spacingAndGlyphs">7.4</text>
<text x="292.1" y="666.1" font-size="4.9" text-anchor="end" fill="#1a1a1a" stroke="#1a1a1a" stroke-width="0.11" textLength="5.77" lengthAdjust="spacingAndGlyphs">7.6</text>
<text x="291.6" y="655.3" font-size="4.9" text-anchor="end" fill="#1a1a1a" stroke="#1a1a1a" stroke-width="0.11" textLength="5.77" lengthAdjust="spacingAndGlyphs">7.8</text>
<text x="291.2" y="644.4" font-size="4.9" text-anchor="end" fill="#1a1a1a" stroke="#1a1a1a" stroke-width="0.11" textLength="2.31" lengthAdjust="spacingAndGlyphs">8</text>
<text x="290.7" y="633.6" font-size="4.9" text-anchor="end" fill="#1a1a1a" stroke="#1a1a1a" stroke-width="0.11" textLength="5.77" lengthAdjust="spacingAndGlyphs">8.2</text>
<text x="295.6" y="753.2" font-size="4.9" text-anchor="end" fill="#1a1a1a" stroke="#1a1a1a" stroke-width="0.11" textLength="2.31" lengthAdjust="spacingAndGlyphs">6</text>
<text x="316.2" y="763.2" font-size="4.9" text-anchor="end" fill="#1a1a1a" stroke="#1a1a1a" stroke-width="0.11" textLength="5.77" lengthAdjust="spacingAndGlyphs">5.5</text>
<text x="336.9" y="773.1" font-size="4.9" text-anchor="end" fill="#1a1a1a" stroke="#1a1a1a" stroke-width="0.11" textLength="2.31" lengthAdjust="spacingAndGlyphs">5</text>
<text x="357.5" y="783" font-size="4.9" text-anchor="end" fill="#1a1a1a" stroke="#1a1a1a" stroke-width="0.11" textLength="5.77" lengthAdjust="spacingAndGlyphs">4.5</text>
<text x="378.1" y="792.9" font-size="4.9" text-anchor="end" fill="#1a1a1a" stroke="#1a1a1a" stroke-width="0.11" textLength="2.31" lengthAdjust="spacingAndGlyphs">4</text>
<text x="382.7" y="792.9" font-size="4.9" fill="#1a1a1a" stroke="#1a1a1a" stroke-width="0.11" textLength="2.31" lengthAdjust="spacingAndGlyphs">5</text>
<text x="403.4" y="783" font-size="4.9" fill="#1a1a1a" stroke="#1a1a1a" stroke-width="0.11" textLength="5.77" lengthAdjust="spacingAndGlyphs">5.5</text>
<text x="424" y="773" font-size="4.9" fill="#1a1a1a" stroke="#1a1a1a" stroke-width="0.11" textLength="2.31" lengthAdjust="spacingAndGlyphs">6</text>
<text x="444.6" y="763.1" font-size="4.9" fill="#1a1a1a" stroke="#1a1a1a" stroke-width="0.11" textLength="5.77" lengthAdjust="spacingAndGlyphs">6.5</text>
<text x="465.2" y="753.2" font-size="4.9" fill="#1a1a1a" stroke="#1a1a1a" stroke-width="0.11" textLength="2.31" lengthAdjust="spacingAndGlyphs">7</text>
<path d="M295.9 720.6h1.3v1.3h-1.3zM295.5 709.7h1.3v1.3h-1.3zM295 698.9h1.3v1.3h-1.3zM294.5 688h1.3v1.3h-1.3zM294 677.2h1.3v1.3h-1.3zM293.6 666.4h1.3v1.3h-1.3zM293.1 655.5h1.3v1.3h-1.3zM292.6 644.7h1.3v1.3h-1.3zM292.1 633.8h1.3v1.3h-1.3zM297.1 747.7h1.3v1.3h-1.3zM317.8 757.6h1.3v1.3h-1.3zM338.4 767.5h1.3v1.3h-1.3zM359.1 777.4h1.3v1.3h-1.3zM379.7 787.4h1.3v1.3h-1.3zM379.7 787.4h1.3v1.3h-1.3zM400.3 777.4h1.3v1.3h-1.3zM420.9 767.5h1.3v1.3h-1.3zM441.5 757.5h1.3v1.3h-1.3zM462.1 747.6h1.3v1.3h-1.3z" fill="#111"/>
<text x="277.4" y="784.6" font-size="5.3" fill="#1a1a1a" stroke="#1a1a1a" stroke-width="0.12" textLength="60.30" lengthAdjust="spacingAndGlyphs">B: Mahua flower extract (%)</text>
<text x="435.4" y="784.5" font-size="5.3" fill="#1a1a1a" stroke="#1a1a1a" stroke-width="0.12" textLength="35.20" lengthAdjust="spacingAndGlyphs">A: BTM flour (%)</text>
<text transform="translate(267 693.2) rotate(-90)" font-size="5.1" text-anchor="middle" fill="#1a1a1a" textLength="46.4" lengthAdjust="spacingAndGlyphs">Overall Acceptability</text>
<text x="375.1" y="822.6" font-family='"Liberation Serif", serif' font-size="17.8" font-weight="bold" textLength="10.1" lengthAdjust="spacingAndGlyphs">E</text>
</svg>
</body></html>
